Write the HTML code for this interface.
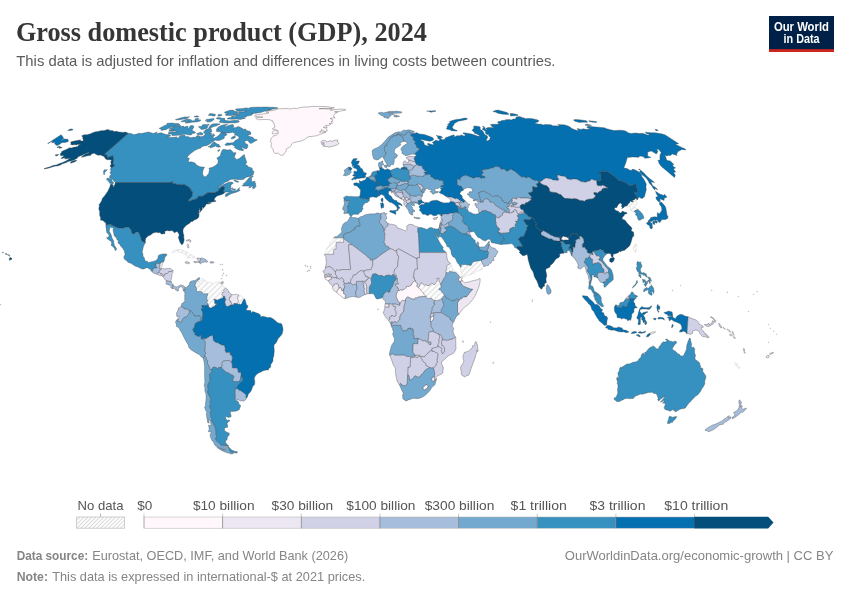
<!DOCTYPE html>
<html lang="en"><head><meta charset="utf-8"><title>Gross domestic product (GDP), 2024</title>
<style>
html,body{margin:0;padding:0;background:#fff;}
body{width:850px;height:600px;overflow:hidden;position:relative;font-family:"Liberation Sans",sans-serif;}
svg{position:absolute;left:0;top:0;display:block}
text{font-family:"Liberation Sans",sans-serif;}
.title{font-family:"Liberation Serif",serif;font-weight:bold;font-size:26.4px;fill:#363636;}
.sub{font-size:14.3px;fill:#5b5b5b;}
.lg{font-size:13.1px;fill:#555;}
.ft{font-size:12.6px;fill:#858585;}
.b{font-weight:bold;}
.logo{font-weight:bold;font-size:12.1px;fill:#fff;}
</style></head><body>
<svg width="850" height="600" viewBox="0 0 850 600">
<defs>
<pattern id="hatch" patternUnits="userSpaceOnUse" width="4" height="4" patternTransform="rotate(-45 2 2) scale(0.7)">
<path d="M -1,2 l 6,0" stroke="#c4c4c4" stroke-width="0.9"/>
</pattern>
<pattern id="hatch2" patternUnits="userSpaceOnUse" width="4" height="4" patternTransform="rotate(-45 2 2)">
<path d="M -1,2 l 6,0" stroke="#ccc" stroke-width="0.8"/>
</pattern>
</defs>
<rect width="850" height="600" fill="#fff"/>
<g stroke="#444" stroke-width="0.36" stroke-linejoin="round">
<path id="c-cuba" fill="url(#hatch2)" stroke="#c6c6c6" d="M177.7 249.5L179.7 249.6L181.4 249.7L183.4 250.6L184.2 251.5L186.3 251.2L187.1 251.8L188.8 253.4L190.0 254.6L190.8 254.6L192.1 255.1L191.8 255.9L193.5 256.0L195.0 257.1L194.7 257.7L193.2 258.0L191.6 258.1L190.1 257.9L186.8 258.1L188.5 256.7L187.7 256.0L186.2 255.9L185.5 255.1L185.2 253.6L183.9 253.7L181.9 253.0L181.3 252.5L178.4 252.1L177.7 251.5L178.6 250.9L176.4 250.8L174.6 252.1L173.7 252.2L173.3 252.8L172.1 253.1L171.2 252.8L172.5 252.0L173.1 251.1L174.2 250.5L175.4 250.0Z"/>
<path id="c-venezuela" fill="url(#hatch2)" stroke="#c6c6c6" d="M199.5 279.2L199.4 279.9L198.0 280.2L198.7 281.4L198.6 282.7L197.5 284.2L198.3 286.3L199.3 286.1L199.9 284.3L199.2 283.3L199.2 281.4L202.1 280.3L201.9 279.1L202.8 278.3L203.5 280.1L205.1 280.1L206.5 281.6L206.5 282.5L208.6 282.5L211.0 282.2L212.3 283.4L214.0 283.7L215.4 282.9L215.4 282.2L218.3 282.1L221.0 282.0L219.0 282.8L219.8 284.0L221.6 284.2L223.3 285.5L223.6 287.6L224.8 287.5L225.6 288.1L223.8 289.7L223.5 290.6L224.3 291.6L223.7 292.1L222.3 292.5L222.3 293.7L221.6 294.4L223.1 296.4L223.4 297.2L222.5 298.1L219.9 299.1L218.3 299.5L217.6 300.2L215.8 299.5L214.1 299.2L213.6 299.4L214.7 300.1L214.5 301.8L214.8 303.5L216.8 303.7L216.9 304.3L215.2 305.0L215.0 306.1L214.0 306.5L212.3 307.1L211.8 307.9L210.0 308.1L208.8 306.7L208.1 304.1L207.5 303.2L206.7 302.6L207.9 301.3L207.8 300.8L207.2 300.0L206.8 298.3L207.0 296.4L207.5 295.5L208.0 294.1L207.2 293.6L205.9 293.9L204.2 293.8L203.3 294.1L201.7 291.8L200.4 291.5L197.4 291.8L196.9 290.8L196.4 290.6L196.3 290.1L196.6 289.1L196.5 288.0L196.0 287.5L195.8 286.3L194.6 286.1L195.3 284.6L195.7 282.7L196.4 281.8L197.3 281.0L198.0 279.7Z"/>
<path id="c-french-guiana" fill="url(#hatch2)" stroke="#c6c6c6" d="M238.8 295.0L241.2 295.9L243.6 298.1L244.0 299.1L242.6 301.5L241.8 303.5L240.9 304.5L239.8 304.6L239.5 303.9L239.0 303.8L238.3 304.5L237.3 304.0L237.9 302.9L238.1 301.7L238.5 300.5L237.7 299.0L237.5 297.2Z"/>
<path id="c-western-sahara" fill="url(#hatch2)" stroke="#c6c6c6" d="M343.7 237.8L333.6 237.8L332.2 240.5L330.7 241.5L329.8 243.1L329.8 244.5L329.1 246.0L328.3 246.4L327.0 248.1L326.2 249.9L326.3 250.8L325.6 252.1L324.7 252.8L324.5 254.1L324.4 255.2L324.9 254.3L333.8 254.3L333.4 250.6L334.0 249.2L336.1 249.0L336.2 242.3L343.5 242.4L343.6 238.5Z"/>
<path id="c-south-sudan" fill="url(#hatch2)" stroke="#c6c6c6" d="M434.1 300.8L432.0 299.1L431.5 298.0L430.2 298.5L429.1 298.4L428.5 298.8L427.5 298.5L426.0 296.3L425.7 295.5L423.9 294.5L423.3 292.9L422.4 291.8L420.8 290.4L420.7 289.6L419.5 288.5L417.9 287.5L418.6 287.2L419.4 286.7L419.9 284.4L420.5 283.2L422.2 282.8L422.6 283.5L423.8 285.1L424.4 285.3L425.3 284.8L426.9 284.9L427.2 285.5L429.5 285.5L429.6 284.9L430.8 284.4L431.0 283.7L431.9 283.1L433.8 284.6L435.0 284.4L436.1 282.5L437.3 281.1L437.1 279.5L436.5 278.7L437.9 278.6L438.0 278.0L439.1 278.2L438.9 280.1L439.2 282.0L440.4 283.0L440.7 283.9L440.7 285.2L441.0 285.3L441.1 287.3L440.8 288.1L439.5 288.2L438.8 289.7L440.2 289.9L441.4 291.1L441.8 292.2L442.9 292.8L444.3 295.6L442.7 297.3L441.4 298.9L439.9 300.1L438.3 300.1L436.5 300.7L435.0 300.1Z"/>
<path id="c-eritrea" fill="url(#hatch2)" stroke="#c6c6c6" d="M460.0 277.3L459.2 276.4L458.2 274.9L457.1 274.0L456.5 273.1L454.5 272.1L452.9 272.1L452.3 271.5L451.0 272.1L449.6 270.9L448.9 272.9L446.2 272.4L445.9 271.3L446.8 267.5L446.9 265.7L447.6 264.9L449.2 264.5L450.3 263.0L451.8 266.0L452.5 268.4L453.8 269.7L457.1 272.2L458.4 273.7L459.7 275.2L460.5 276.1L461.6 276.8L461.0 277.5Z"/>
<path id="c-taiwan" fill="url(#hatch2)" stroke="#c6c6c6" d="M636.6 246.3L636.1 250.5L635.6 252.6L633.9 250.4L633.3 248.5L634.1 245.9L635.5 243.9L636.7 244.7Z"/>
<path id="c-north-korea" fill="url(#hatch2)" stroke="#c6c6c6" d="M637.2 199.4L637.7 199.9L636.8 199.7L636.5 200.6L636.3 201.5L637.5 203.3L636.7 203.9L636.5 204.3L636.1 205.1L635.0 205.5L634.4 206.2L634.9 207.4L634.8 207.7L635.9 208.1L637.7 209.2L637.7 209.8L636.8 210.0L635.4 210.1L635.1 211.3L634.1 211.2L634.1 211.5L632.8 211.0L632.8 211.5L632.3 211.7L631.9 211.2L631.3 210.9L630.5 210.5L630.5 209.4L630.9 209.1L630.5 208.6L630.3 207.2L630.0 206.8L628.6 206.5L627.2 205.8L628.1 204.1L629.7 202.7L630.1 200.9L631.6 201.7L633.4 201.8L632.3 200.5L635.0 199.3L634.9 197.9Z"/>
<path id="c-yemen" fill="url(#hatch2)" stroke="#c6c6c6" d="M484.0 266.5L482.4 267.2L482.0 268.4L482.0 269.3L479.8 270.4L476.2 271.6L474.3 273.4L473.3 273.6L472.6 273.4L471.3 274.5L469.9 275.0L468.0 275.1L467.4 275.3L466.9 276.0L466.3 276.2L466.0 276.8L464.9 276.8L464.2 277.1L462.6 277.0L461.9 275.5L461.9 274.0L461.5 273.3L461.0 271.4L460.2 270.3L460.7 270.2L460.4 269.0L460.6 268.5L460.5 267.3L461.4 266.5L461.2 265.4L461.7 264.1L462.6 264.8L463.2 264.5L465.9 264.5L466.3 264.8L468.5 265.0L469.4 264.9L470.0 265.7L471.1 265.3L472.5 262.6L474.5 261.4L481.0 260.4L483.1 264.7Z"/>
<path id="c-new-caledonia" fill="url(#hatch2)" stroke="#c6c6c6" d="M737.8 365.0L739.3 366.7L740.1 367.9L739.1 368.5L738.0 367.8L736.7 366.6L735.6 365.2L734.6 363.4L734.5 362.5L735.5 362.5L736.5 363.4L737.3 364.3Z"/>
<path id="c-canada" fill="#3690c0" d="M128.2 133.3L131.1 133.5L133.9 134.8L139.2 133.3L141.5 133.5L148.4 132.0L150.2 132.4L153.3 133.5L157.3 132.0L155.5 133.7L161.2 132.8L165.8 134.6L169.6 134.8L170.7 135.9L167.2 137.0L169.9 137.5L174.7 137.3L176.6 136.8L177.1 138.2L180.0 137.0L179.1 136.1L180.9 135.4L184.5 135.0L186.1 136.8L188.2 136.6L190.1 137.7L193.2 137.3L195.8 137.3L196.5 135.9L198.4 135.5L200.4 136.4L198.8 138.4L201.2 136.6L202.6 136.6L205.2 134.4L204.5 133.1L203.3 132.2L205.6 129.8L208.9 128.3L210.8 128.5L211.5 129.6L211.7 132.0L209.3 133.1L212.1 133.5L210.2 135.7L214.0 133.9L214.8 135.5L213.1 137.0L213.5 138.6L216.5 137.0L219.1 135.0L221.1 132.6L223.3 132.8L225.6 133.1L227.0 134.2L226.4 135.3L224.1 136.6L224.5 137.7L223.6 138.8L219.2 140.4L216.6 140.6L215.2 140.0L213.9 141.1L210.9 143.1L209.7 144.1L206.5 145.7L203.8 145.9L201.8 146.8L200.6 148.2L198.3 148.7L194.6 150.6L191.0 153.2L188.9 155.1L186.8 158.0L189.4 158.2L188.6 160.6L188.4 162.3L191.4 161.8L194.4 162.8L195.7 163.8L196.3 165.0L198.2 165.8L199.7 166.7L202.7 167.0L204.6 167.2L203.4 169.2L202.7 171.7L202.7 174.4L204.4 176.9L206.4 176.2L208.7 173.4L209.5 169.7L208.9 168.2L212.5 167.2L215.5 165.5L217.5 163.8L218.2 162.1L218.1 159.9L216.8 158.2L220.5 155.6L220.8 153.4L222.3 149.9L224.0 149.2L226.6 149.9L228.3 150.1L230.2 149.6L231.4 150.4L232.8 151.8L232.9 152.7L236.1 152.7L235.1 154.9L234.2 157.7L235.6 158.2L236.4 159.7L239.7 158.2L242.8 155.6L244.4 154.6L244.8 156.8L245.9 159.7L246.8 162.6L245.3 164.3L247.3 165.5L248.4 167.0L251.2 167.7L252.3 168.5L252.3 170.5L253.5 170.9L254.0 171.7L253.2 174.7L249.9 176.4L246.2 177.2L243.1 179.5L239.6 179.7L235.4 179.2L232.4 179.2L230.3 179.5L228.0 181.2L225.0 182.2L220.8 185.8L217.7 188.1L219.5 187.6L224.0 184.3L228.9 182.2L232.0 182.0L233.4 183.3L231.0 184.8L230.7 187.6L230.7 189.6L232.9 190.9L236.6 190.4L239.5 187.6L239.1 189.4L240.1 190.4L237.1 191.9L231.9 193.5L229.7 194.5L226.6 196.6L225.2 196.3L225.8 194.0L230.1 191.9L226.8 191.9L224.4 192.4L223.5 190.9L224.7 187.3L224.1 186.6L222.5 187.1L222.1 186.6L219.8 188.4L218.5 190.4L217.3 191.4L216.3 191.9L215.7 191.9L215.2 192.7L211.5 192.7L208.2 192.7L207.2 193.2L204.2 195.0L202.9 196.3L199.0 196.3L197.8 196.6L198.1 197.1L197.9 198.1L194.7 199.4L192.2 199.9L189.4 201.2L188.2 200.9L188.3 200.2L190.7 197.9L191.9 196.3L192.3 194.2L192.6 191.9L191.0 190.7L190.7 189.9L190.8 188.9L189.4 188.6L189.6 187.8L184.0 184.3L181.8 185.0L181.2 185.0L179.2 184.3L177.3 184.8L175.8 183.8L173.9 183.5L172.6 183.3L172.1 183.0L172.5 181.5L171.7 181.5L171.1 182.5L161.5 182.5L151.4 182.5L141.3 182.5L131.2 182.5L121.2 182.5L115.5 182.5L115.1 182.5L113.0 180.0L112.3 179.0L109.4 177.9L109.9 175.7L111.3 174.2L109.9 172.9L111.1 170.9L110.2 169.2L111.3 168.0L113.3 166.7L114.5 165.3L112.8 163.6L113.3 160.9L113.6 159.2L113.1 158.0L112.9 157.0L113.0 155.8L110.4 156.5L107.1 158.0L107.3 156.3L107.0 155.3L105.9 154.6L104.0 154.6ZM257.4 140.0L255.4 141.0L251.0 143.6L249.4 142.7L247.9 140.4L245.4 140.7L244.6 142.0L245.6 143.4L247.5 144.4L247.9 145.0L247.7 147.3L246.4 148.9L244.3 148.5L240.9 146.5L242.3 148.5L243.6 149.9L243.3 150.8L238.9 149.9L235.9 148.5L234.4 147.3L235.3 146.6L233.3 145.4L231.5 144.3L231.1 145.0L225.7 145.4L224.8 144.5L226.9 142.9L230.3 142.9L234.0 142.6L233.9 141.8L235.3 140.6L238.8 138.4L239.0 137.5L238.8 136.7L236.9 135.6L234.0 134.8L235.5 134.3L234.5 132.9L233.1 132.8L232.4 132.0L231.0 132.7L227.8 133.0L222.2 132.5L219.2 131.8L216.7 131.5L216.0 130.8L218.5 129.8L216.2 129.8L217.6 127.7L220.5 125.8L222.9 124.9L227.6 124.3L225.2 125.7L225.2 127.0L228.1 125.4L233.0 124.4L233.9 126.6L232.6 128.0L236.2 127.4L238.4 126.5L241.1 127.7L242.7 128.6L242.1 129.6L245.6 129.0L246.3 130.5L249.7 131.3L250.6 132.2L251.0 134.2L247.2 135.3L250.4 136.7L252.8 137.2L254.2 139.3L256.8 139.4ZM179.9 125.4L181.0 125.8L179.2 126.7L183.5 126.1L184.5 127.1L187.5 126.1L188.2 126.8L187.3 128.8L189.0 128.0L190.2 125.8L192.0 125.5L193.2 125.8L194.1 126.7L192.9 128.7L192.0 130.3L193.7 131.3L195.7 132.4L194.6 133.3L191.7 133.5L192.1 134.3L190.8 135.1L188.0 134.8L185.7 134.2L183.6 134.3L179.8 135.1L175.3 135.4L172.0 135.6L172.1 134.6L170.4 134.0L168.7 134.2L168.4 132.5L169.8 132.2L172.7 131.9L175.0 132.0L177.5 131.6L174.9 131.1L171.2 131.3L168.9 131.2L168.9 130.4L173.6 129.6L171.1 129.6L168.9 129.0L172.1 127.4L174.2 126.6ZM172.9 123.0L174.5 123.4L178.4 123.5L179.2 124.1L179.9 125.0L177.2 125.5L171.6 127.0L167.8 128.5L166.7 129.4L161.2 130.5L161.5 129.5L159.1 128.4L160.9 127.5L163.9 125.9L167.0 124.6L167.1 123.3ZM269.7 107.2L273.2 107.3L276.0 107.5L278.1 107.9L277.7 108.3L273.7 109.0L270.0 109.4L268.4 109.7L271.4 109.7L267.3 110.7L264.4 111.2L260.6 112.6L257.4 112.9L256.0 113.3L251.5 113.5L253.3 113.7L251.9 114.1L252.1 115.0L250.2 115.6L247.3 116.1L245.8 116.9L243.2 117.5L243.0 117.9L245.6 117.9L245.3 118.3L240.1 119.5L236.6 119.0L231.9 119.3L229.8 119.1L227.1 118.9L227.9 118.0L231.1 117.5L231.9 116.1L233.0 116.0L236.0 116.9L235.5 115.6L233.4 115.2L235.4 114.5L238.5 114.1L239.7 113.4L238.4 112.8L239.0 111.8L242.7 111.9L243.7 112.0L246.7 111.3L243.7 111.2L238.5 111.3L236.7 110.7L236.4 110.1L235.3 109.6L235.8 109.0L238.3 108.7L239.9 108.7L242.9 108.4L245.7 107.9L247.2 107.9L248.2 108.4L250.3 107.6L252.4 107.3L255.0 107.2L259.3 107.1L259.8 107.2L264.0 107.0L266.9 107.1ZM220.6 117.7L221.5 118.3L224.5 118.3L225.1 119.0L224.0 119.7L225.3 120.1L225.8 120.6L227.8 120.7L229.8 120.9L232.7 120.4L236.0 120.3L238.3 120.4L239.3 121.2L238.9 122.0L237.5 122.5L234.8 123.0L233.0 122.8L228.2 123.1L225.0 123.1L222.7 122.8L219.2 122.2L219.8 121.1L220.6 120.1L220.1 119.2L217.2 119.0L216.1 118.4L217.6 117.6ZM237.5 112.9L238.5 113.5L235.9 114.1L231.7 115.4L228.8 115.6L225.9 115.4L225.4 114.5L226.3 113.9L228.2 113.3L225.5 113.3L224.6 112.8L224.8 111.9L228.4 110.7L230.0 110.5L229.9 110.2L233.3 110.1L233.9 111.0L237.8 111.7ZM200.4 120.8L198.0 121.8L192.3 122.2L187.3 123.1L185.0 123.1L185.4 122.5L189.9 121.4L182.4 121.8L180.8 121.4L185.6 119.5L187.8 118.9L191.0 119.7L192.2 120.8L194.8 120.8L195.0 119.1L197.4 118.3L198.8 118.5L198.0 119.5L197.7 120.1L199.5 119.8L200.9 119.9ZM213.9 118.5L214.2 119.3L212.9 120.4L210.5 121.8L207.8 122.1L206.5 121.7L207.7 120.6L205.2 120.6L206.7 119.3L208.4 119.3L211.4 118.7ZM204.5 124.3L206.0 124.7L209.2 124.3L209.1 124.9L206.5 126.0L208.2 126.8L206.1 128.7L202.5 129.6L201.2 129.4L200.7 128.7L198.4 127.0L199.0 126.4L202.2 126.6L201.9 125.2ZM213.9 126.4L210.6 128.1L209.0 127.9L209.6 126.2L210.6 125.2L212.4 124.1L214.4 123.7L217.7 123.7L220.3 124.1L216.1 126.1ZM214.8 142.0L214.4 143.1L215.6 142.7L216.2 143.4L217.6 144.1L219.3 144.8L218.6 146.0L220.0 145.8L220.7 146.6L218.7 147.3L216.4 146.7L216.0 145.7L213.4 146.9L210.1 148.1L210.4 146.7L207.9 147.0L210.2 145.8L211.6 144.1L213.6 142.0ZM252.4 175.9L253.4 175.9L251.3 178.2L251.8 180.2L251.0 181.0L252.6 181.7L254.9 181.2L255.3 182.0L254.2 183.8L255.8 183.3L255.6 184.5L256.0 186.3L254.4 188.4L253.5 188.6L252.2 188.1L253.3 186.1L252.9 185.7L249.8 187.8L248.6 187.8L250.4 186.6L248.6 186.1L246.5 186.1L242.4 186.1L242.4 185.3L243.9 184.4L243.3 183.8L245.4 182.2L248.7 178.2L250.6 176.7ZM113.3 183.8L112.1 184.0L109.3 183.0L109.4 182.0L108.2 181.2L108.4 180.5L106.6 180.0L106.9 178.7L107.5 177.9L109.2 178.6L110.1 179.0L111.8 179.2L111.9 180.1L112.1 181.2L113.4 182.3ZM105.4 169.9L107.5 169.7L104.6 172.5L104.6 174.4L103.8 174.4L103.4 173.4L103.8 172.2L103.4 171.4L104.0 170.3L104.8 169.5ZM233.8 180.2L234.5 180.1L236.8 180.7L238.7 181.7L238.5 182.2L237.5 182.2L235.2 181.5ZM232.3 187.6L232.6 188.7L234.1 189.1L235.9 189.1L234.6 190.1L233.8 190.2L231.6 189.1L231.3 188.4ZM220.0 150.1L218.4 151.5L217.9 151.3L217.7 150.6L219.2 149.6ZM234.7 136.1L235.6 136.8L235.1 137.7L233.1 138.7L231.1 138.8L231.4 137.7L233.0 136.5ZM203.0 133.5L202.9 134.4L201.1 135.1L199.5 134.5L197.9 134.7L196.4 133.7L198.5 133.1L200.4 132.2L201.6 132.7ZM193.9 116.5L197.1 115.8L198.8 116.5L198.3 117.1L195.2 117.1ZM189.6 116.7L187.5 118.1L185.2 118.9L183.8 118.9L179.7 119.7L176.8 120.0L175.3 119.7L180.1 118.1L185.0 116.9L187.2 116.9ZM210.0 113.5L212.6 113.7L215.5 114.4L215.3 115.4L214.9 116.1L212.8 116.0L211.2 115.4L208.1 115.2L210.3 114.6L209.1 114.3ZM219.0 114.3L220.6 114.4L221.4 114.5L222.2 115.2L221.1 115.8L218.4 116.2L217.8 115.8L218.0 115.0Z"/>
<path id="c-usa" fill="#034e7b" d="M115.5 182.5L121.2 182.5L131.2 182.5L141.3 182.5L151.4 182.5L161.5 182.5L171.1 182.5L171.7 181.5L172.5 181.5L172.1 183.0L172.6 183.3L173.9 183.5L175.8 183.8L177.3 184.8L179.2 184.3L181.2 185.0L181.8 185.0L184.0 184.3L189.6 187.8L189.4 188.6L190.8 188.9L190.7 189.9L191.0 190.7L192.6 191.9L192.3 194.2L191.9 196.3L190.7 197.9L188.3 200.2L188.2 200.9L189.4 201.2L192.2 199.9L194.7 199.4L197.9 198.1L198.1 197.1L197.8 196.6L199.0 196.3L202.9 196.3L204.2 195.0L207.2 193.2L208.2 192.7L211.5 192.7L215.2 192.7L215.7 191.9L216.3 191.9L217.3 191.4L218.5 190.4L219.8 188.4L222.1 186.6L222.5 187.1L224.1 186.6L224.7 187.3L223.5 190.9L224.4 192.4L224.3 193.2L221.9 194.5L219.3 195.3L217.0 196.0L215.3 197.6L214.8 198.1L214.3 199.7L214.6 200.9L215.4 200.9L215.4 200.2L215.9 200.7L215.5 201.5L214.1 201.7L213.1 201.7L211.2 202.2L209.0 202.5L207.1 203.3L210.4 202.8L210.9 203.3L207.7 204.1L206.2 204.1L206.0 204.6L205.1 206.4L202.9 208.5L203.0 207.7L202.1 206.9L202.1 208.3L202.4 208.7L202.1 209.8L201.2 210.8L199.5 212.9L199.4 212.6L200.5 211.1L199.7 210.0L200.0 207.8L199.4 209.0L199.3 210.5L197.9 210.3L199.2 211.1L198.5 213.4L199.2 213.7L199.1 214.5L198.8 217.2L196.8 219.1L194.4 219.9L192.6 221.5L191.5 221.5L190.1 222.5L189.6 223.3L186.7 225.1L185.1 226.5L183.8 228.0L183.0 229.8L183.0 231.7L183.3 233.8L184.0 235.6L183.7 236.9L184.2 239.8L183.8 241.6L183.6 242.6L182.7 244.2L181.9 244.5L180.9 244.2L180.8 243.2L180.0 242.4L179.3 240.3L178.6 238.2L178.3 237.2L179.2 235.5L179.0 234.0L177.6 231.9L176.9 231.4L174.4 232.7L174.0 232.5L173.1 231.3L171.9 230.6L169.5 230.9L167.5 230.6L165.7 230.9L164.7 231.3L165.0 231.9L164.8 233.0L165.1 233.5L164.6 233.9L163.8 233.5L162.9 234.0L161.2 233.9L160.0 232.5L157.9 232.8L156.5 232.2L155.0 232.5L153.0 233.0L150.5 235.1L148.0 236.1L146.6 237.4L145.7 238.5L145.3 240.3L145.3 241.6L145.6 242.4L144.6 242.6L143.2 241.9L141.6 241.1L141.1 240.0L141.1 238.2L140.1 236.6L139.6 235.1L139.1 233.2L137.8 232.2L135.9 232.2L134.0 234.4L132.5 233.5L131.3 232.7L131.3 231.4L131.0 230.1L130.0 228.8L129.2 228.0L128.6 227.1L124.8 227.1L124.5 228.3L118.3 228.3L111.0 225.1L111.4 224.6L105.9 225.1L106.0 223.8L105.2 222.3L104.2 222.0L104.3 221.2L103.1 221.0L102.7 220.3L100.6 220.2L100.4 219.7L100.8 218.1L99.7 215.5L99.6 212.0L99.9 211.3L99.2 210.5L98.8 208.2L99.4 206.1L99.0 204.8L100.5 202.8L101.8 200.4L102.3 198.4L104.5 196.0L107.7 191.4L109.5 187.8L110.2 185.8L110.4 184.5L110.9 184.0L113.3 185.0L112.9 187.3L113.9 186.6L114.8 184.5ZM128.2 133.3L104.0 154.6L105.9 154.6L107.0 155.3L107.3 156.3L107.1 158.0L110.4 156.5L113.0 155.8L112.9 157.0L113.1 158.0L113.6 159.2L113.3 160.9L112.8 163.6L114.5 165.3L113.3 166.7L111.3 168.0L111.0 167.0L109.9 166.2L111.3 164.0L110.7 162.1L111.6 159.9L110.1 159.7L107.2 159.7L105.6 158.9L104.1 156.5L102.9 156.0L100.6 155.1L97.9 155.3L95.5 154.1L94.4 153.2L91.9 153.7L90.4 155.4L89.0 155.6L86.5 156.0L84.0 156.8L81.4 157.3L82.5 156.0L86.0 153.7L88.8 152.9L89.0 152.2L85.1 153.7L82.1 155.2L77.6 156.9L77.7 158.0L73.9 159.9L70.8 160.9L68.1 161.6L66.5 162.6L62.4 163.8L60.5 165.0L57.2 166.0L55.8 166.0L53.6 166.5L50.6 167.5L48.1 168.2L44.0 169.0L44.4 168.5L47.5 167.5L50.1 166.7L53.8 165.3L56.4 165.0L58.4 164.0L62.6 162.6L63.5 162.1L66.0 161.1L68.2 159.4L70.7 158.0L67.8 158.7L67.8 158.2L65.6 159.2L65.8 158.0L64.5 158.7L65.0 157.6L62.2 158.5L61.0 158.5L62.5 157.0L63.7 156.3L63.7 155.4L60.7 155.8L60.6 154.6L59.9 154.1L61.5 152.8L61.4 151.8L63.8 150.4L66.9 149.2L69.1 147.9L70.7 147.8L71.5 148.1L74.2 147.1L75.6 147.1L77.7 146.4L78.6 145.4L78.2 145.0L80.7 144.1L79.6 144.1L77.2 144.5L75.7 145.2L75.3 144.5L72.1 145.0L70.5 144.3L71.1 143.4L70.6 142.0L74.3 141.1L79.7 140.0L81.1 140.0L79.3 141.1L83.0 141.1L83.4 139.7L82.6 138.8L83.0 137.7L82.6 136.7L81.5 135.9L84.0 134.8L87.0 134.8L90.6 133.7L92.6 132.7L95.7 131.7L97.8 131.4L102.3 130.5L103.5 130.7L107.8 129.5L109.6 129.9L109.4 130.9L110.7 130.5L113.2 130.7L112.4 131.1L114.4 131.5L116.4 131.3L119.0 132.0L121.8 132.2L122.8 132.4L125.4 132.1L127.1 132.7ZM76.5 160.4L76.5 161.1L73.6 162.3L70.7 163.3L70.5 162.6L71.4 161.4L74.0 160.6L75.5 160.2ZM57.7 155.6L56.2 155.9L55.5 155.6L55.2 154.9L57.6 154.4L58.7 154.6ZM58.4 146.4L58.8 146.8L60.2 146.6L60.7 147.3L62.2 147.5L61.7 147.8L59.8 148.3L59.0 147.8L58.9 147.3L57.1 147.5L56.9 147.3ZM10.8 257.8L11.8 258.3L12.0 259.1L10.2 260.1L9.3 260.2L9.3 258.6L10.0 257.5ZM9.6 255.4L10.1 255.7L9.1 256.2L8.6 255.4ZM7.5 254.6L8.7 254.7L8.5 255.0L7.4 254.9ZM6.2 253.3L6.7 254.4L5.7 254.4L5.4 253.6ZM2.9 252.0L3.5 252.0L3.3 252.6L2.9 252.8L2.4 252.4Z"/>
<path id="c-mexico" fill="#3690c0" d="M105.9 225.1L111.4 224.6L111.0 225.1L118.3 228.3L124.5 228.3L124.8 227.1L128.6 227.1L129.2 228.0L130.0 228.8L131.0 230.1L131.3 231.4L131.3 232.7L132.5 233.5L134.0 234.4L135.9 232.2L137.8 232.2L139.1 233.2L139.6 235.1L140.1 236.6L141.1 238.2L141.1 240.0L141.6 241.1L143.2 241.9L144.6 242.6L145.6 242.4L144.2 244.7L143.4 246.6L142.6 250.2L142.2 251.5L142.4 252.8L142.9 254.1L143.0 256.2L144.4 258.0L144.6 259.6L145.3 260.9L147.7 261.4L148.5 262.7L150.6 262.0L152.2 261.7L154.1 261.2L155.5 260.7L157.1 259.6L158.0 258.0L158.2 256.0L158.8 255.2L160.5 254.4L163.1 253.9L164.9 253.9L166.3 253.9L166.8 254.4L166.6 255.6L165.1 257.0L164.4 258.8L164.8 259.1L164.2 260.4L163.5 262.2L162.9 261.7L162.4 261.7L162.0 261.7L161.0 263.3L160.7 263.0L160.3 263.1L160.3 263.5L158.2 263.5L156.1 263.5L155.9 265.0L154.9 265.0L155.6 265.9L156.4 266.4L156.6 266.9L156.9 267.2L156.8 268.0L153.8 268.0L152.6 270.2L152.8 270.7L152.4 271.4L152.3 272.0L150.0 269.3L148.9 268.5L147.1 267.7L145.9 268.0L143.9 268.9L142.7 269.1L141.2 268.5L139.6 268.0L137.7 266.7L135.9 266.4L133.6 265.1L131.8 263.9L131.3 263.3L130.0 263.1L127.8 262.2L127.1 261.0L124.8 259.6L124.0 257.9L123.7 256.7L124.4 256.5L124.3 255.7L124.9 255.0L125.1 254.1L124.6 252.8L124.6 251.8L124.1 250.5L122.5 247.9L120.6 245.9L119.8 244.3L118.2 243.2L117.9 242.6L118.6 241.0L117.6 240.3L116.6 239.1L116.5 237.3L115.3 237.1L114.4 235.7L113.8 234.4L113.9 233.6L113.3 231.7L113.1 229.6L113.4 228.6L112.2 227.6L111.4 227.8L110.4 227.0L109.7 228.0L109.6 229.3L109.2 231.3L109.7 232.3L110.8 234.1L111.0 234.8L111.3 234.9L111.3 235.9L111.7 235.9L111.7 237.4L112.2 238.2L112.5 239.1L113.6 240.4L113.7 242.9L114.1 243.9L114.5 245.3L114.3 246.6L115.4 246.6L116.1 247.9L116.7 249.0L116.5 249.5L115.4 250.5L115.0 250.5L114.7 248.8L113.5 247.3L112.1 246.1L111.1 245.4L111.6 243.5L111.6 242.1L110.7 241.3L109.5 240.1L109.1 240.4L108.7 239.8L107.5 239.1L106.6 237.7L106.8 237.4L107.7 237.6L108.7 236.6L109.2 235.4L108.0 233.6L106.9 232.8L106.5 231.2L106.3 229.5L106.0 227.5Z"/>
<path id="c-greenland" fill="#fff7fb" d="M298.7 107.9L304.0 107.0L308.7 107.0L310.8 106.5L315.6 106.4L326.3 106.6L334.4 107.8L331.7 108.4L326.4 108.4L318.9 108.6L319.5 108.9L324.4 108.7L328.4 109.2L331.3 108.7L332.2 109.4L330.4 110.3L334.2 109.7L341.1 109.0L345.2 109.4L345.9 110.0L339.9 111.2L339.0 111.6L334.4 111.9L337.7 112.0L335.6 113.3L334.2 114.5L333.6 116.7L335.2 117.9L332.8 118.0L330.1 118.6L332.7 119.7L332.7 121.3L331.0 121.5L332.6 123.3L329.1 123.5L330.7 124.3L330.1 125.0L327.8 125.4L325.5 125.4L327.2 126.8L327.0 127.7L324.1 126.8L323.1 127.5L325.1 127.9L327.0 129.2L327.2 131.0L324.2 131.4L323.1 130.5L321.4 129.3L321.6 130.8L319.4 132.0L323.8 132.0L326.0 132.1L321.2 134.0L316.2 135.8L311.1 136.5L309.2 136.5L307.2 137.5L304.1 139.8L300.0 141.4L298.7 141.5L296.2 142.0L293.6 142.5L291.6 144.0L291.1 145.6L289.7 147.1L286.2 149.0L286.3 150.8L284.8 152.8L283.2 155.1L280.5 155.2L278.5 153.3L274.8 153.3L273.5 152.0L273.2 149.7L271.2 146.8L271.0 145.3L271.6 143.2L270.1 141.1L271.4 139.4L270.6 138.6L273.5 136.0L276.4 135.2L277.5 134.3L278.6 132.6L276.4 133.3L275.3 133.6L273.7 134.0L272.0 133.3L272.6 131.8L273.8 130.6L275.4 130.6L278.4 131.2L276.3 129.8L275.2 129.1L273.4 129.4L272.3 128.8L275.2 126.9L274.7 126.1L274.2 124.6L273.6 122.4L272.1 121.6L272.7 120.8L269.4 119.7L266.3 119.5L262.1 119.6L258.3 119.7L257.0 119.1L255.5 117.9L259.9 117.3L263.0 117.1L257.1 116.6L254.4 115.9L255.3 115.1L261.7 114.2L267.8 113.3L269.0 112.6L265.7 112.0L267.6 111.3L273.5 110.2L275.7 110.0L275.8 109.3L279.4 108.8L283.9 108.6L288.2 108.6L289.3 109.1L293.6 108.2L296.5 108.8Z"/>
<path id="c-guatemala" fill="#a6bddb" d="M152.3 272.0L152.4 271.4L152.8 270.7L152.6 270.2L153.8 268.0L156.8 268.0L156.9 267.2L156.6 266.9L156.4 266.4L155.6 265.9L154.9 265.0L155.9 265.0L156.1 263.5L158.2 263.5L160.3 263.5L160.0 265.6L159.5 268.5L160.2 268.5L160.9 269.0L161.2 268.6L161.8 268.9L160.6 269.9L159.5 270.7L159.3 271.2L159.4 271.7L158.8 272.4L158.3 272.5L158.4 272.8L157.9 273.1L157.1 273.8L156.9 274.2L155.8 273.7L154.4 273.6L153.4 273.1Z"/>
<path id="c-belize" fill="#fff7fb" d="M160.3 263.5L160.3 263.1L160.7 263.0L161.0 263.3L162.0 261.7L162.4 261.7L162.4 262.1L162.9 262.1L162.7 262.8L162.2 263.9L162.3 264.3L162.0 265.3L162.1 265.5L161.7 266.8L161.2 267.5L160.8 267.6L160.2 268.5L159.5 268.5L160.0 265.6Z"/>
<path id="c-el-salvador" fill="#d0d1e6" d="M156.9 274.2L157.1 273.8L157.9 273.1L158.4 272.8L158.3 272.5L158.8 272.4L159.5 272.6L159.9 273.1L160.6 273.5L160.6 273.8L161.6 273.6L162.1 273.7L162.4 274.0L162.1 275.1L161.8 275.7L160.5 275.6L159.7 275.4L158.8 274.9L157.6 274.7Z"/>
<path id="c-honduras" fill="#d0d1e6" d="M158.8 272.4L159.4 271.7L159.3 271.2L159.5 270.7L160.6 269.9L161.8 268.9L162.0 269.0L162.5 268.6L163.2 268.5L163.4 268.7L163.7 268.6L164.8 268.9L165.8 268.8L166.6 268.5L166.9 268.2L167.6 268.4L168.2 268.5L168.8 268.5L169.2 268.3L170.2 268.6L170.6 268.6L171.8 269.7L172.6 270.1L173.1 270.8L172.4 270.8L172.0 271.2L171.2 271.5L170.6 271.5L170.1 271.8L169.6 271.7L169.3 271.3L169.1 271.4L168.7 272.0L168.5 272.0L168.4 272.5L167.5 273.2L167.1 273.6L166.8 273.9L166.2 273.3L165.6 274.0L165.1 274.0L164.6 274.1L164.5 275.4L164.2 275.4L163.9 276.0L163.1 276.1L162.8 275.3L162.1 275.1L162.4 274.0L162.1 273.7L161.6 273.6L160.6 273.8L160.6 273.5L159.9 273.1L159.5 272.6Z"/>
<path id="c-nicaragua" fill="#d0d1e6" d="M162.3 276.3L162.6 275.9L163.0 276.3L163.1 276.1L163.9 276.0L164.2 275.4L164.5 275.4L164.6 274.1L165.1 274.0L165.6 274.0L166.2 273.3L166.8 273.9L167.1 273.6L167.5 273.2L168.4 272.5L168.5 272.0L168.7 272.0L169.1 271.4L169.3 271.3L169.6 271.7L170.1 271.8L170.6 271.5L171.2 271.5L172.0 271.2L172.4 270.8L173.1 270.8L172.9 271.1L172.8 271.7L172.9 272.6L172.3 273.5L172.0 274.6L171.8 275.7L171.9 276.4L171.8 277.6L171.4 277.8L171.1 279.0L171.3 279.6L170.7 280.3L170.8 281.0L171.1 281.4L170.5 282.0L169.9 281.8L169.5 281.3L168.8 281.1L168.3 281.4L166.8 280.7L166.4 281.0L165.7 280.2L164.7 279.2L164.3 278.3L163.4 277.5Z"/>
<path id="c-costa-rica" fill="#a6bddb" d="M172.3 288.5L171.1 287.9L170.6 287.4L170.9 286.9L170.9 286.4L170.3 285.7L169.4 285.2L168.6 284.9L168.5 284.1L167.9 283.7L168.0 284.4L167.5 285.0L167.1 284.3L166.3 284.1L166.0 283.6L166.1 282.7L166.5 281.9L165.9 281.5L166.4 281.0L166.8 280.7L168.3 281.4L168.8 281.1L169.5 281.3L169.9 281.8L170.5 282.0L171.1 281.4L171.6 282.8L172.4 283.9L173.4 285.0L172.5 285.2L172.5 286.3L172.9 286.7L172.6 287.0L172.6 287.5L172.4 288.0Z"/>
<path id="c-panama" fill="#a6bddb" d="M183.9 291.1L183.1 290.4L182.7 289.0L183.3 288.3L182.7 288.1L182.3 287.2L181.2 286.5L180.2 286.7L179.7 287.6L178.7 288.3L178.2 288.3L178.0 288.9L179.0 290.3L178.4 290.6L178.0 291.0L176.9 291.1L176.6 289.6L176.3 290.0L175.5 289.9L175.1 288.8L174.2 288.6L173.6 288.4L172.6 288.4L172.5 288.9L172.3 288.5L172.4 288.0L172.6 287.5L172.6 287.0L172.9 286.7L172.5 286.3L172.5 285.2L173.4 285.0L174.2 286.0L174.1 286.5L175.0 286.6L175.3 286.4L175.9 287.1L177.0 286.9L178.0 286.2L179.4 285.7L180.3 284.9L181.5 285.1L181.4 285.3L182.7 285.4L183.7 285.8L184.4 286.6L185.2 287.4L184.9 287.8L185.4 289.3L184.9 290.1L184.2 289.9Z"/>
<path id="c-jamaica" fill="#d0d1e6" d="M186.8 261.7L188.3 262.0L189.4 262.6L189.8 263.3L188.2 263.3L187.4 263.8L186.2 263.4L185.0 262.4L185.3 261.8Z"/>
<path id="c-haiti" fill="#d0d1e6" d="M200.5 258.5L200.5 259.9L200.2 260.9L199.6 261.4L200.1 262.2L200.0 262.9L198.6 262.5L197.5 262.6L196.1 262.4L195.0 262.9L193.8 262.1L194.1 261.3L196.2 261.6L197.9 261.8L198.8 261.3L197.8 260.1L198.0 259.1L196.6 258.7L197.2 258.0L198.5 258.1Z"/>
<path id="c-dominican-republic" fill="#a6bddb" d="M200.0 262.9L200.1 262.2L199.6 261.4L200.2 260.9L200.5 259.9L200.5 258.5L200.8 258.1L202.6 258.1L203.8 258.8L204.4 258.7L204.8 259.6L206.0 259.6L205.9 260.3L206.8 260.4L207.9 261.4L206.9 262.5L205.9 261.9L204.8 262.0L204.1 261.9L203.7 262.4L202.7 262.5L202.5 261.9L201.7 262.3L200.6 264.0L200.0 263.6Z"/>
<path id="c-puerto-rico" fill="#a6bddb" d="M212.5 261.7L213.6 261.9L214.0 262.4L213.3 263.1L211.6 263.1L210.3 263.1L210.2 262.0L210.6 261.6Z"/>
<path id="c-bahamas" fill="#ece7f2" d="M188.6 248.0L188.0 248.1L187.6 246.6L186.9 245.8L187.6 244.2L188.3 244.3L188.8 246.5ZM189.0 240.6L186.5 241.0L186.5 240.1L187.6 239.8L189.1 239.9ZM190.9 240.6L190.2 242.4L189.8 242.1L190.1 240.7L189.3 239.7L189.3 239.4Z"/>
<path id="c-trinidad-and-tobago" fill="#d0d1e6" d="M221.5 281.9L222.8 281.6L223.3 281.6L223.1 283.6L221.2 283.9L220.8 283.7L221.5 282.9Z"/>
<path id="c-colombia" fill="#74a9cf" d="M189.2 310.4L188.2 309.8L187.1 308.9L186.4 309.3L184.4 309.0L183.9 307.8L183.4 307.9L181.1 306.4L180.9 305.6L181.7 305.4L181.6 304.1L182.2 303.1L183.3 303.0L184.3 301.3L185.3 299.9L184.4 299.3L184.9 297.8L184.5 295.4L185.0 294.7L184.7 292.5L183.9 291.1L184.2 289.9L184.9 290.1L185.4 289.3L184.9 287.8L185.2 287.4L186.4 287.4L188.2 285.6L189.2 285.4L189.3 284.5L189.8 282.3L191.2 281.1L192.6 281.0L192.9 280.5L194.7 280.7L196.5 279.4L197.5 278.8L198.7 277.5L199.5 277.7L200.0 278.4L199.5 279.2L198.0 279.7L197.3 281.0L196.4 281.8L195.7 282.7L195.3 284.6L194.6 286.1L195.8 286.3L196.0 287.5L196.5 288.0L196.6 289.1L196.3 290.1L196.4 290.6L196.9 290.8L197.4 291.8L200.4 291.5L201.7 291.8L203.3 294.1L204.2 293.8L205.9 293.9L207.2 293.6L208.0 294.1L207.5 295.5L207.0 296.4L206.8 298.3L207.2 300.0L207.8 300.8L207.9 301.3L206.7 302.6L207.5 303.2L208.1 304.1L208.8 306.7L208.3 307.0L207.9 305.5L207.3 304.7L206.5 305.6L202.0 305.5L202.0 307.2L203.4 307.4L203.3 308.4L202.8 308.1L201.5 308.6L201.5 310.5L202.5 311.4L202.9 312.9L202.9 314.1L202.0 321.2L200.8 319.8L200.1 319.8L201.5 317.1L199.7 315.9L198.4 316.1L197.5 315.7L196.2 316.3L194.5 316.0L193.1 313.3L192.1 312.6L191.3 311.4L189.8 310.2Z"/>
<path id="c-guyana" fill="#d0d1e6" d="M225.6 288.1L227.1 289.1L228.5 290.8L228.5 292.2L229.4 292.2L230.6 293.5L231.4 294.4L231.0 296.8L229.6 297.4L229.7 298.0L229.3 299.4L230.2 301.3L231.0 301.3L231.3 302.8L232.6 305.0L232.1 305.1L230.8 304.9L230.0 305.6L229.0 306.1L228.3 306.2L228.0 306.7L226.9 306.6L225.5 305.3L225.3 304.1L224.7 302.8L225.1 300.6L225.8 299.7L225.3 298.5L224.5 298.1L224.9 296.9L224.3 296.3L223.1 296.4L221.6 294.4L222.3 293.7L222.3 292.5L223.7 292.1L224.3 291.6L223.5 290.6L223.8 289.7Z"/>
<path id="c-suriname" fill="#ece7f2" d="M231.4 294.4L234.2 294.9L234.5 294.5L236.3 294.3L238.8 295.0L237.5 297.2L237.7 299.0L238.5 300.5L238.1 301.7L237.9 302.9L237.3 304.0L236.0 303.4L234.9 303.7L234.0 303.4L233.7 304.2L234.1 304.7L233.9 305.2L232.6 305.0L231.3 302.8L231.0 301.3L230.2 301.3L229.3 299.4L229.7 298.0L229.6 297.4L231.0 296.8Z"/>
<path id="c-ecuador" fill="#a6bddb" d="M177.9 318.9L179.1 316.9L178.6 315.8L177.7 317.0L176.3 315.9L176.8 315.1L176.4 312.8L177.2 312.4L177.6 310.7L178.4 309.1L178.3 308.0L179.6 307.4L181.1 306.4L183.4 307.9L183.9 307.8L184.4 309.0L186.4 309.3L187.1 308.9L188.2 309.8L189.2 310.4L189.5 312.4L188.8 314.1L186.3 316.8L183.6 317.8L182.2 320.1L181.8 321.9L180.6 322.9L179.6 321.6L178.6 321.4L177.7 321.6L177.6 320.6L178.2 320.0Z"/>
<path id="c-peru" fill="#74a9cf" d="M204.7 355.9L204.2 357.2L203.1 357.9L200.7 356.4L200.4 355.3L195.6 352.7L191.3 349.9L189.4 348.2L188.3 346.1L188.6 345.4L186.4 341.9L183.8 337.1L181.3 331.9L180.3 330.7L179.5 328.8L177.7 327.1L176.0 326.0L176.7 324.9L175.5 322.4L176.1 320.5L177.9 318.9L178.2 320.0L177.6 320.6L177.7 321.6L178.6 321.4L179.6 321.6L180.6 322.9L181.8 321.9L182.2 320.1L183.6 317.8L186.3 316.8L188.8 314.1L189.5 312.4L189.2 310.4L189.8 310.2L191.3 311.4L192.1 312.6L193.1 313.3L194.5 316.0L196.2 316.3L197.5 315.7L198.4 316.1L199.7 315.9L201.5 317.1L200.1 319.8L200.8 319.8L202.0 321.2L199.9 321.1L199.6 321.5L197.7 322.0L195.1 323.8L195.0 325.0L194.5 325.9L194.7 327.3L193.4 328.1L193.4 329.2L192.8 329.6L193.9 332.0L195.2 333.6L194.8 334.7L196.4 334.9L197.3 336.2L199.3 336.3L201.1 334.8L201.2 338.7L202.3 339.0L203.5 338.6L205.7 342.8L205.3 343.7L205.3 345.5L205.5 347.7L204.7 349.0L205.2 350.0L204.7 350.9L205.9 353.1L204.7 355.9Z"/>
<path id="c-brazil" fill="#0570b0" d="M235.5 388.9L237.9 385.3L240.1 382.8L241.5 381.7L243.2 380.3L243.0 378.2L241.7 376.7L240.6 377.2L240.9 375.7L241.1 374.1L240.9 372.7L240.1 372.2L239.3 372.7L238.4 372.6L238.1 371.5L237.6 369.2L237.1 368.4L235.6 367.7L234.7 368.2L232.2 367.7L232.1 364.1L231.3 362.7L231.9 362.1L231.6 360.7L232.1 359.5L232.3 357.4L231.7 355.8L230.4 355.1L230.0 354.1L230.3 352.6L225.9 352.5L224.8 349.4L225.4 349.4L225.3 348.2L224.8 347.5L224.7 346.0L223.3 345.2L221.8 345.2L220.8 344.5L219.3 343.9L218.3 343.0L215.7 342.5L213.1 340.2L213.2 338.5L212.8 337.4L213.0 335.5L210.0 335.9L208.8 336.9L206.9 338.0L206.4 338.7L205.2 338.8L203.5 338.6L202.3 339.0L201.2 338.7L201.1 334.8L199.3 336.3L197.3 336.2L196.4 334.9L194.8 334.7L195.2 333.6L193.9 332.0L192.8 329.6L193.4 329.2L193.4 328.1L194.7 327.3L194.5 325.9L195.0 325.0L195.1 323.8L197.7 322.0L199.6 321.5L199.9 321.1L202.0 321.2L202.9 314.1L202.9 312.9L202.5 311.4L201.5 310.5L201.5 308.6L202.8 308.1L203.3 308.4L203.4 307.4L202.0 307.2L202.0 305.5L206.5 305.6L207.3 304.7L207.9 305.5L208.3 307.0L208.8 306.7L210.0 308.1L211.8 307.9L212.3 307.1L214.0 306.5L215.0 306.1L215.2 305.0L216.9 304.3L216.8 303.7L214.8 303.5L214.5 301.8L214.7 300.1L213.6 299.4L214.1 299.2L215.8 299.5L217.6 300.2L218.3 299.5L219.9 299.1L222.5 298.1L223.4 297.2L223.1 296.4L224.3 296.3L224.9 296.9L224.5 298.1L225.3 298.5L225.8 299.7L225.1 300.6L224.7 302.8L225.3 304.1L225.5 305.3L226.9 306.6L228.0 306.7L228.3 306.2L229.0 306.1L230.0 305.6L230.8 304.9L232.1 305.1L232.6 305.0L233.9 305.2L234.1 304.7L233.7 304.2L234.0 303.4L234.9 303.7L236.0 303.4L237.3 304.0L238.3 304.5L239.0 303.8L239.5 303.9L239.8 304.6L240.9 304.5L241.8 303.5L242.6 301.5L244.0 299.1L244.8 299.0L245.3 300.5L246.5 305.0L247.8 305.5L247.8 307.3L246.1 309.4L246.8 310.2L250.9 310.6L251.0 313.2L252.7 311.5L255.6 312.5L259.4 314.0L260.6 315.6L260.2 317.0L262.9 316.2L267.4 317.6L270.8 317.5L274.3 319.7L277.3 322.6L279.1 323.3L281.0 323.4L281.9 324.3L282.7 327.6L283.1 329.2L282.3 333.5L281.2 335.2L278.0 338.8L276.7 341.8L275.1 344.0L274.5 344.1L273.9 346.0L274.3 350.9L273.9 354.9L273.7 356.7L273.1 357.7L272.9 361.2L270.8 364.6L270.6 367.3L268.8 368.4L268.4 370.0L266.0 370.0L262.5 371.0L261.0 372.1L258.5 372.9L256.0 375.0L254.4 377.6L254.3 379.5L254.8 381.0L254.7 383.6L254.3 384.9L252.9 386.3L251.1 390.9L249.5 393.0L248.2 394.2L247.6 396.7L246.4 398.2L245.5 396.7L246.3 395.5L244.7 393.7L242.8 392.2L240.2 390.5L239.4 390.6L236.9 388.6Z"/>
<path id="c-bolivia" fill="#a6bddb" d="M221.1 367.5L218.6 367.4L217.9 369.5L216.4 367.6L213.4 367.0L211.7 369.4L210.1 369.7L208.9 366.1L207.3 363.2L207.8 360.7L206.5 359.6L206.0 357.7L204.7 355.9L205.9 353.1L204.7 350.9L205.2 350.0L204.7 349.0L205.5 347.7L205.3 345.5L205.3 343.7L205.7 342.8L203.5 338.6L205.2 338.8L206.4 338.7L206.9 338.0L208.8 336.9L210.0 335.9L213.0 335.5L212.8 337.4L213.2 338.5L213.1 340.2L215.7 342.5L218.3 343.0L219.3 343.9L220.8 344.5L221.8 345.2L223.3 345.2L224.7 346.0L224.8 347.5L225.3 348.2L225.4 349.4L224.8 349.4L225.9 352.5L230.3 352.6L230.0 354.1L230.4 355.1L231.7 355.8L232.3 357.4L232.1 359.5L231.6 360.7L231.9 362.1L231.3 362.7L231.2 361.9L228.9 360.5L226.8 360.5L222.9 361.3L222.1 363.5L222.2 365.0L221.6 368.1Z"/>
<path id="c-paraguay" fill="#a6bddb" d="M231.3 362.7L232.1 364.1L232.2 367.7L234.7 368.2L235.6 367.7L237.1 368.4L237.6 369.2L238.1 371.5L238.4 372.6L239.3 372.7L240.1 372.2L240.9 372.7L241.1 374.1L240.9 375.7L240.6 377.2L240.5 379.5L238.7 381.5L237.0 381.9L234.5 381.5L232.1 380.8L233.9 376.8L233.4 375.7L231.0 374.7L228.0 372.7L226.1 372.3L221.6 368.1L222.2 365.0L222.1 363.5L222.9 361.3L226.8 360.5L228.9 360.5L231.2 361.9Z"/>
<path id="c-chile" fill="#74a9cf" d="M228.3 446.7L230.7 452.2L232.8 452.2L233.9 452.3L233.7 453.3L232.4 454.0L231.5 453.9L230.2 453.8L228.5 453.0L226.3 452.6L223.3 451.3L220.6 449.9L216.7 447.2L218.5 447.7L222.0 449.4L225.0 450.2L225.5 449.1L225.4 447.4L226.7 446.4ZM208.9 366.1L210.1 369.7L211.7 369.4L212.1 370.0L211.6 372.7L209.3 374.0L210.0 378.4L209.6 379.2L210.4 380.2L209.1 381.9L208.1 384.3L207.7 386.7L208.4 389.2L207.5 391.9L209.5 396.4L210.2 396.9L210.7 399.3L210.1 401.8L210.7 404.0L209.5 405.7L210.1 408.1L211.4 410.6L210.4 411.6L210.5 413.9L210.8 416.5L212.1 419.7L211.5 420.2L212.9 423.2L214.2 424.2L213.9 425.3L215.0 425.8L215.6 426.7L214.9 427.2L215.6 428.7L216.1 432.1L215.8 434.3L216.5 435.6L216.5 437.2L215.4 438.3L216.6 441.0L217.7 441.9L219.0 441.8L219.7 443.6L221.2 445.1L226.1 445.4L228.0 445.8L226.3 445.8L225.6 446.4L224.2 447.3L224.9 449.6L224.1 449.7L221.6 448.9L218.6 447.2L215.4 445.7L214.1 444.1L214.0 442.7L212.3 441.0L210.3 436.7L210.2 434.2L211.6 432.3L208.2 431.5L209.3 429.2L208.5 425.0L211.1 425.9L210.4 420.5L208.7 419.9L209.2 423.1L207.7 422.7L207.1 419.0L206.3 414.2L206.8 412.5L205.5 409.9L204.5 407.0L205.3 406.9L205.6 402.7L206.1 398.5L206.1 394.6L204.8 390.7L205.0 388.6L204.2 385.3L204.9 382.2L204.6 377.1L204.6 371.7L204.6 365.8L204.0 361.6L203.1 357.9L204.2 357.2L204.7 355.9L206.0 357.7L206.5 359.6L207.8 360.7L207.3 363.2Z"/>
<path id="c-argentina" fill="#3690c0" d="M237.1 453.0L237.4 451.8L234.4 451.2L231.3 449.7L229.5 447.8L228.3 446.7L230.7 452.2L232.8 452.2L233.9 452.3L235.3 453.1ZM216.4 367.6L217.9 369.5L218.6 367.4L221.1 367.5L221.6 368.1L226.1 372.3L228.0 372.7L231.0 374.7L233.4 375.7L233.9 376.8L232.1 380.8L234.5 381.5L237.0 381.9L238.7 381.5L240.5 379.5L240.6 377.2L241.7 376.7L243.0 378.2L243.2 380.3L241.5 381.7L240.1 382.8L237.9 385.3L235.5 388.9L235.3 391.0L235.2 393.7L235.6 396.3L235.3 396.8L235.4 398.5L235.5 399.9L238.7 402.1L238.8 403.9L240.4 405.1L240.5 406.3L239.2 409.7L236.3 411.1L232.2 411.6L229.7 411.4L230.6 412.9L230.6 414.8L231.4 416.2L230.3 417.1L228.3 417.4L226.0 416.5L225.3 417.1L226.4 419.7L228.0 420.5L228.9 419.7L229.9 421.0L228.2 421.8L227.1 423.4L227.6 426.0L227.5 427.4L225.6 427.4L224.4 428.7L224.4 430.6L227.1 432.5L229.2 433.0L229.2 435.3L227.4 436.7L227.1 439.7L225.7 440.7L225.3 441.9L227.0 444.5L228.9 445.9L228.0 445.8L226.1 445.4L221.2 445.1L219.7 443.6L219.0 441.8L217.7 441.9L216.6 441.0L215.4 438.3L216.5 437.2L216.5 435.6L215.8 434.3L216.1 432.1L215.6 428.7L214.9 427.2L215.6 426.7L215.0 425.8L213.9 425.3L214.2 424.2L212.9 423.2L211.5 420.2L212.1 419.7L210.8 416.5L210.5 413.9L210.4 411.6L211.4 410.6L210.1 408.1L209.5 405.7L210.7 404.0L210.1 401.8L210.7 399.3L210.2 396.9L209.5 396.4L207.5 391.9L208.4 389.2L207.7 386.7L208.1 384.3L209.1 381.9L210.4 380.2L209.6 379.2L210.0 378.4L209.3 374.0L211.6 372.7L212.1 370.0L211.7 369.4L213.4 367.0Z"/>
<path id="c-uruguay" fill="#a6bddb" d="M235.5 388.9L236.9 388.6L239.4 390.6L240.2 390.5L242.8 392.2L244.7 393.7L246.3 395.5L245.5 396.7L246.4 398.2L245.7 399.8L243.5 401.2L241.8 400.7L240.7 401.0L238.5 399.9L237.0 400.0L235.4 398.5L235.3 396.8L235.6 396.3L235.2 393.7L235.3 391.0Z"/>
<path id="c-iceland" fill="#ece7f2" d="M338.0 140.3L337.4 141.7L339.2 143.3L336.7 145.1L331.4 146.7L329.8 147.1L327.5 146.7L322.7 146.0L324.6 145.0L321.0 143.9L324.2 143.4L324.2 142.7L320.6 142.2L322.1 140.7L324.8 140.4L327.2 141.9L330.1 140.7L332.1 141.3L335.1 140.1Z"/>
<path id="c-norway" fill="#74a9cf" d="M409.0 129.8L414.6 131.4L412.6 132.0L414.8 133.4L412.2 134.2L410.9 134.5L411.2 132.9L408.9 132.1L406.5 132.8L406.0 134.4L404.6 135.4L402.7 134.8L400.6 135.0L398.5 133.8L397.6 134.4L396.6 134.4L396.6 135.9L393.3 135.5L393.1 136.8L391.4 136.8L390.5 138.4L389.1 140.9L386.8 144.1L387.5 144.9L387.0 145.8L385.3 145.7L384.3 147.9L384.7 151.1L386.0 152.3L385.6 155.0L384.2 156.7L383.5 158.1L382.2 156.6L378.7 159.4L376.2 160.0L373.6 158.7L372.8 156.1L372.0 150.7L373.6 149.2L378.2 147.2L381.5 144.8L384.5 141.6L388.1 137.2L390.7 135.6L394.9 132.8L398.3 131.8L401.1 132.0L403.2 130.2L406.2 130.3ZM399.7 116.2L396.6 117.0L393.9 116.6L394.8 116.1L393.7 115.5L396.7 115.1L397.5 115.8ZM389.3 112.8L394.4 114.1L391.0 114.9L390.5 116.3L389.2 116.6L388.9 118.3L387.1 118.3L383.6 117.1L384.8 116.5L382.5 115.9L379.4 114.3L378.1 112.9L381.9 112.2L382.8 112.8L384.8 112.8L385.2 112.2L387.3 112.1ZM399.2 111.5L402.2 112.1L400.5 113.1L396.3 113.3L392.0 113.0L391.6 112.5L389.5 112.5L387.8 111.7L392.0 111.2L394.2 111.6L395.5 111.1Z"/>
<path id="c-sweden" fill="#74a9cf" d="M401.6 142.0L400.2 143.5L400.7 145.0L398.2 146.8L395.0 148.8L394.1 152.1L395.6 153.8L397.6 155.1L396.2 157.9L394.4 158.4L394.1 162.5L393.3 164.8L391.0 164.5L390.1 166.5L387.8 166.6L387.1 164.3L385.2 161.5L383.5 158.1L384.2 156.7L385.6 155.0L386.0 152.3L384.7 151.1L384.3 147.9L385.3 145.7L387.0 145.8L387.5 144.9L386.8 144.1L389.1 140.9L390.5 138.4L391.4 136.8L393.1 136.8L393.3 135.5L396.6 135.9L396.6 134.4L397.6 134.4L400.0 135.4L402.9 136.9L403.7 140.4L404.4 141.3Z"/>
<path id="c-finland" fill="#74a9cf" d="M410.9 134.5L411.1 136.0L414.0 137.5L412.8 139.2L415.5 141.7L414.8 143.7L416.8 145.4L416.4 147.0L419.5 148.5L419.1 149.7L417.7 151.1L414.5 154.1L411.2 154.3L408.1 155.2L405.2 155.7L403.9 154.4L402.0 153.6L402.0 151.3L400.8 149.2L401.5 147.8L402.8 146.3L406.4 143.8L407.5 143.3L407.1 142.4L404.4 141.3L403.7 140.4L402.9 136.9L400.0 135.4L397.6 134.4L398.5 133.8L400.6 135.0L402.7 134.8L404.6 135.4L406.0 134.4L406.5 132.8L408.9 132.1L411.2 132.9Z"/>
<path id="c-denmark" fill="#74a9cf" d="M387.3 166.0L386.3 168.0L384.2 166.6L383.9 165.6L386.6 164.8ZM383.8 163.9L383.4 164.8L382.8 164.6L381.5 166.3L382.1 167.5L380.9 167.9L379.4 167.6L378.6 166.2L378.4 163.7L378.7 163.0L379.2 162.3L380.8 162.2L381.4 161.5L382.9 160.8L382.9 162.0L382.4 162.8Z"/>
<path id="c-united-kingdom" fill="#0570b0" d="M352.1 168.6L350.9 170.3L349.5 169.8L348.3 169.8L348.8 168.5L348.4 167.2L350.1 167.1ZM357.4 158.6L355.3 161.2L357.2 160.9L359.3 160.9L358.8 162.9L357.0 165.1L359.0 165.2L360.9 168.4L362.2 168.8L363.4 171.6L363.9 172.6L366.3 173.1L366.1 174.7L365.1 175.4L365.9 176.7L364.1 178.0L361.4 178.0L358.0 178.7L357.1 178.2L355.8 179.4L353.9 179.1L352.5 180.1L351.4 179.6L354.4 176.9L356.2 176.4L353.1 176.0L352.6 175.0L354.7 174.2L353.7 172.8L354.1 171.2L357.0 171.4L357.3 170.0L356.0 168.4L353.7 168.0L353.2 167.3L353.9 166.2L353.3 165.6L352.3 166.7L352.3 164.3L351.3 163.1L352.1 160.6L353.7 158.6L355.1 158.8Z"/>
<path id="c-ireland" fill="#74a9cf" d="M350.9 170.3L351.2 172.1L349.6 174.3L346.1 175.8L343.3 175.4L345.0 172.8L344.2 170.3L346.9 168.3L348.4 167.2L348.8 168.5L348.3 169.8L349.5 169.8Z"/>
<path id="c-france" fill="#0570b0" d="M383.1 200.0L382.5 202.0L381.5 201.5L380.9 199.8L381.3 198.8L382.6 197.8ZM370.2 179.0L371.6 180.2L372.6 180.0L374.4 181.2L374.9 181.4L375.4 181.3L376.4 182.0L379.3 182.4L378.4 184.2L378.2 186.0L377.6 186.4L376.7 186.2L376.8 186.8L375.4 188.3L375.3 189.4L376.3 189.0L377.1 190.2L377.0 190.9L377.6 191.9L376.9 192.6L377.6 194.6L378.7 194.9L378.5 196.1L376.6 197.5L372.5 196.8L369.5 197.6L369.3 199.2L366.8 199.6L364.5 198.4L363.7 198.9L359.9 197.8L359.0 196.8L360.1 195.2L360.6 190.1L358.4 187.4L357.0 186.1L353.9 185.2L353.7 183.3L356.3 182.8L359.7 183.4L359.1 180.5L361.0 181.6L365.7 179.6L366.3 177.6L368.0 177.1L368.3 177.9L369.2 178.0Z"/>
<path id="c-spain" fill="#3690c0" d="M344.0 200.7L344.2 198.9L343.4 197.8L346.4 195.9L348.9 196.4L351.7 196.4L353.9 196.8L355.7 196.7L359.0 196.8L359.9 197.8L363.7 198.9L364.5 198.4L366.8 199.6L369.3 199.2L369.4 200.7L367.4 202.4L364.7 203.0L364.5 203.8L363.2 205.3L362.4 207.4L363.2 208.9L362.0 210.1L361.5 211.7L359.9 212.3L358.4 214.3L353.6 214.2L352.2 215.2L351.3 216.1L350.3 215.9L349.5 215.1L348.9 213.6L346.9 213.1L346.8 212.3L347.6 211.3L347.9 210.6L347.2 209.8L347.8 208.1L347.0 206.6L348.0 206.4L348.1 205.1L348.4 204.8L348.5 202.7L349.5 202.0L349.0 200.7L347.7 200.6L347.4 201.0L346.1 201.0L345.7 199.7L344.8 200.1Z"/>
<path id="c-portugal" fill="#74a9cf" d="M344.0 200.7L344.8 200.1L345.7 199.7L346.1 201.0L347.4 201.0L347.7 200.6L349.0 200.7L349.5 202.0L348.5 202.7L348.4 204.8L348.1 205.1L348.0 206.4L347.0 206.6L347.8 208.1L347.2 209.8L347.9 210.6L347.6 211.3L346.8 212.3L346.9 213.1L346.0 213.8L344.9 213.5L343.8 213.7L344.2 211.7L344.1 210.1L343.1 209.9L342.6 208.9L342.9 207.2L343.7 206.2L343.9 205.2L344.4 203.6L344.4 202.6L344.0 201.6Z"/>
<path id="c-germany" fill="#0570b0" d="M382.1 167.5L382.2 168.5L384.2 169.1L384.2 169.9L386.2 169.5L387.2 168.8L389.5 169.8L390.5 170.5L391.0 171.8L390.5 172.5L391.3 173.4L392.0 174.7L391.9 175.6L392.8 177.2L392.0 177.4L391.4 177.1L391.0 177.6L389.6 178.1L388.9 178.8L387.5 179.3L387.9 180.0L388.1 181.1L389.2 181.7L390.4 182.8L389.8 184.0L389.1 184.3L389.5 186.0L389.3 186.4L388.7 185.9L387.7 185.8L386.3 186.3L384.4 186.1L384.2 186.8L383.1 186.1L382.5 186.2L380.3 185.5L379.9 186.0L378.2 186.0L378.4 184.2L379.3 182.4L376.4 182.0L375.4 181.3L375.5 180.2L375.1 179.6L375.3 177.9L374.8 175.3L376.0 175.3L376.5 174.4L376.9 172.1L376.5 171.2L376.8 170.7L378.4 170.6L378.8 171.1L380.1 169.9L379.6 169.0L379.4 167.6L380.9 167.9Z"/>
<path id="c-netherlands" fill="#3690c0" d="M374.8 171.2L376.5 171.2L376.9 172.1L376.5 174.4L376.0 175.3L374.8 175.3L375.3 177.9L374.1 177.3L372.8 176.2L371.0 176.8L369.6 176.6L370.6 175.9L372.2 172.2Z"/>
<path id="c-belgium" fill="#74a9cf" d="M369.6 176.6L371.0 176.8L372.8 176.2L374.1 177.3L375.3 177.9L375.1 179.6L374.6 179.7L374.4 181.2L372.6 180.0L371.6 180.2L370.2 179.0L369.2 178.0L368.3 177.9L368.0 177.1Z"/>
<path id="c-luxembourg" fill="#d0d1e6" d="M375.1 179.6L375.5 180.2L375.4 181.3L374.9 181.4L374.4 181.2L374.6 179.7Z"/>
<path id="c-switzerland" fill="#74a9cf" d="M382.5 186.2L382.6 186.7L382.3 187.3L383.3 187.8L384.3 187.9L384.2 188.9L383.3 189.3L381.8 189.0L381.4 190.0L380.4 190.1L380.1 189.7L379.0 190.6L378.0 190.7L377.1 190.2L376.3 189.0L375.3 189.4L375.4 188.3L376.8 186.8L376.7 186.2L377.6 186.4L378.2 186.0L379.9 186.0L380.3 185.5Z"/>
<path id="c-austria" fill="#74a9cf" d="M397.4 184.7L397.3 185.8L396.2 185.8L396.6 186.3L396.1 188.0L395.8 188.4L394.0 188.5L393.0 189.0L391.3 188.8L388.3 188.2L387.8 187.3L385.8 187.7L385.6 188.2L384.3 187.9L383.3 187.8L382.3 187.3L382.6 186.7L382.5 186.2L383.1 186.1L384.2 186.8L384.4 186.1L386.3 186.3L387.7 185.8L388.7 185.9L389.3 186.4L389.5 186.0L389.1 184.3L389.8 184.0L390.4 182.8L392.0 183.6L393.0 182.6L393.7 182.4L395.4 183.2L396.3 183.0L397.3 183.5L397.1 183.8Z"/>
<path id="c-italy" fill="#0570b0" d="M396.3 210.2L395.6 212.3L396.0 213.1L395.6 214.4L393.9 213.4L392.8 213.1L389.7 211.8L390.0 210.5L392.5 210.7L394.7 210.4L396.3 210.2ZM382.5 202.5L383.8 204.3L383.6 207.7L382.6 207.6L381.8 208.4L381.0 207.8L380.8 204.6L380.3 203.1L381.4 203.3L382.5 202.5ZM388.3 188.2L391.3 188.8L391.1 190.1L391.7 191.2L390.0 190.8L388.4 191.7L388.6 193.0L388.4 193.7L389.2 195.0L391.2 196.3L392.4 198.5L394.9 200.5L396.5 200.5L397.1 201.1L396.5 201.6L398.5 202.6L400.1 203.3L402.0 204.7L402.2 205.2L401.9 206.1L400.7 204.9L398.8 204.5L398.0 206.1L399.6 207.1L399.4 208.5L398.6 208.6L397.6 210.8L396.7 211.0L396.6 210.3L397.0 208.9L397.4 208.3L396.5 206.8L395.7 205.5L394.9 205.2L394.1 204.1L392.8 203.6L391.8 202.5L390.2 202.4L388.5 201.2L386.5 199.5L385.0 198.0L384.2 195.5L383.2 195.2L381.4 194.3L380.5 194.7L379.3 195.9L378.5 196.1L378.7 194.9L377.6 194.6L376.9 192.6L377.6 191.9L377.0 190.9L377.1 190.2L378.0 190.7L379.0 190.6L380.1 189.7L380.4 190.1L381.4 190.0L381.8 189.0L383.3 189.3L384.2 188.9L384.3 187.9L385.6 188.2L385.8 187.7L387.8 187.3Z"/>
<path id="c-poland" fill="#3690c0" d="M408.6 170.2L408.9 171.3L409.6 172.2L409.7 173.2L408.6 173.7L409.4 174.9L409.6 176.0L410.9 178.2L410.7 178.9L409.8 179.2L408.2 181.3L408.9 182.4L408.4 182.3L406.4 181.3L405.0 181.7L404.0 181.4L402.9 181.9L401.8 181.1L401.0 181.4L400.9 181.2L399.8 180.0L398.3 179.8L398.0 179.1L396.7 178.8L396.4 179.4L395.3 178.9L395.3 178.2L393.8 178.0L392.8 177.2L391.9 175.6L392.0 174.7L391.3 173.4L390.5 172.5L391.0 171.8L390.5 170.5L391.7 169.8L394.6 168.7L397.0 167.8L399.0 168.3L399.2 168.9L401.0 168.9L403.5 169.2L407.0 169.1L408.0 169.4Z"/>
<path id="c-czechia" fill="#74a9cf" d="M392.8 177.2L393.8 178.0L395.3 178.2L395.3 178.9L396.4 179.4L396.7 178.8L398.0 179.1L398.3 179.8L399.8 180.0L400.9 181.2L400.3 181.2L400.0 181.7L399.6 181.8L399.5 182.4L399.1 182.5L399.1 182.8L398.4 183.0L397.5 183.0L397.3 183.5L396.3 183.0L395.4 183.2L393.7 182.4L393.0 182.6L392.0 183.6L390.4 182.8L389.2 181.7L388.1 181.1L387.9 180.0L387.5 179.3L388.9 178.8L389.6 178.1L391.0 177.6L391.4 177.1L392.0 177.4Z"/>
<path id="c-slovakia" fill="#a6bddb" d="M408.4 182.3L408.0 182.9L407.7 184.0L407.3 184.2L405.0 183.5L404.4 183.6L404.0 184.2L403.1 184.5L402.8 184.4L401.9 184.8L401.1 184.8L401.0 185.3L399.3 185.6L398.5 185.4L397.4 184.7L397.1 183.8L397.3 183.5L397.5 183.0L398.4 183.0L399.1 182.8L399.1 182.5L399.5 182.4L399.6 181.8L400.0 181.7L400.3 181.2L400.9 181.2L401.0 181.4L401.8 181.1L402.9 181.9L404.0 181.4L405.0 181.7L406.4 181.3Z"/>
<path id="c-hungary" fill="#74a9cf" d="M407.7 184.0L408.9 184.7L409.1 185.3L407.9 185.9L407.2 187.6L406.1 189.3L404.5 189.8L403.2 189.7L401.7 190.4L401.0 190.8L399.2 190.3L397.6 189.2L396.9 188.9L396.5 188.0L396.1 188.0L396.6 186.3L396.2 185.8L397.3 185.8L397.4 184.7L398.5 185.4L399.3 185.6L401.0 185.3L401.1 184.8L401.9 184.8L402.8 184.4L403.1 184.5L404.0 184.2L404.4 183.6L405.0 183.5L407.3 184.2Z"/>
<path id="c-slovenia" fill="#a6bddb" d="M391.3 188.8L393.0 189.0L394.0 188.5L395.8 188.4L396.1 188.0L396.5 188.0L396.9 188.9L395.4 189.5L395.2 190.6L394.5 190.8L394.6 191.5L393.8 191.5L393.1 191.1L392.7 191.5L391.3 191.4L391.7 191.2L391.1 190.1Z"/>
<path id="c-croatia" fill="#a6bddb" d="M401.7 190.4L402.3 191.4L403.0 192.1L402.3 193.1L401.3 192.5L399.9 192.5L398.1 192.1L397.1 192.2L396.7 192.7L395.9 192.1L395.6 193.2L396.7 194.4L397.2 195.2L398.3 196.1L399.1 196.7L400.0 197.8L401.9 198.8L401.7 199.2L399.7 198.2L398.4 197.3L396.4 196.5L394.5 194.7L394.9 194.5L393.9 193.4L393.8 192.5L392.4 192.1L391.9 193.2L391.2 192.3L391.2 191.5L391.3 191.4L392.7 191.5L393.1 191.1L393.8 191.5L394.6 191.5L394.5 190.8L395.2 190.6L395.4 189.5L396.9 188.9L397.6 189.2L399.2 190.3L401.0 190.8Z"/>
<path id="c-bosnia-and-herzegovina" fill="#d0d1e6" d="M402.3 193.1L403.1 193.1L402.7 194.2L403.7 195.2L403.5 196.4L403.1 196.5L402.7 196.7L402.1 197.3L401.9 198.8L400.0 197.8L399.1 196.7L398.3 196.1L397.2 195.2L396.7 194.4L395.6 193.2L395.9 192.1L396.7 192.7L397.1 192.2L398.1 192.1L399.9 192.5L401.3 192.5Z"/>
<path id="c-serbia" fill="#a6bddb" d="M406.0 191.6L407.3 192.2L407.6 193.3L408.9 194.0L409.5 193.5L410.1 193.8L409.6 194.2L410.1 194.7L409.6 195.2L409.9 196.2L411.0 197.3L410.3 198.1L410.0 198.9L410.3 199.2L410.0 199.6L409.0 199.7L408.3 199.8L408.2 199.6L408.4 199.3L408.6 198.7L408.3 198.7L407.9 198.2L407.5 198.1L407.2 197.7L406.8 197.5L406.5 197.2L406.1 197.3L405.9 198.2L405.4 198.3L405.6 198.1L404.7 197.6L404.0 197.3L403.7 196.9L403.1 196.5L403.5 196.4L403.7 195.2L402.7 194.2L403.1 193.1L402.3 193.1L403.0 192.1L402.3 191.4L401.7 190.4L403.2 189.7L404.5 189.8L405.7 190.8Z"/>
<path id="c-montenegro" fill="#ece7f2" d="M405.1 198.9L404.5 199.1L404.4 198.7L403.5 199.9L403.8 200.7L403.3 200.5L402.6 199.7L401.7 199.2L401.9 198.8L402.1 197.3L402.7 196.7L403.1 196.5L403.7 196.9L404.0 197.3L404.7 197.6L405.6 198.1L405.4 198.3Z"/>
<path id="c-kosovo" fill="#ece7f2" d="M406.3 200.8L406.1 199.9L405.6 199.6L405.1 198.9L405.4 198.3L405.9 198.2L406.1 197.3L406.5 197.2L406.8 197.5L407.2 197.7L407.5 198.1L407.9 198.2L408.3 198.7L408.6 198.7L408.4 199.3L408.2 199.6L408.3 199.8L407.9 199.9L406.7 200.3L406.6 200.8Z"/>
<path id="c-albania" fill="#d0d1e6" d="M407.5 203.4L407.5 204.1L406.8 204.5L406.8 205.3L405.9 206.6L405.5 206.4L405.4 205.8L404.2 205.0L403.9 203.7L403.9 202.0L404.2 201.2L403.8 200.7L403.5 199.9L404.4 198.7L404.5 199.1L405.1 198.9L405.6 199.6L406.1 199.9L406.3 200.8L406.1 201.7L406.6 202.8Z"/>
<path id="c-north-macedonia" fill="#d0d1e6" d="M410.0 199.6L411.1 200.4L411.4 202.1L411.1 202.2L410.8 202.7L409.6 202.6L409.0 203.3L407.5 203.4L406.6 202.8L406.1 201.7L406.3 200.8L406.6 200.8L406.7 200.3L407.9 199.9L408.3 199.8L409.0 199.7Z"/>
<path id="c-greece" fill="#74a9cf" d="M414.4 216.8L415.6 217.7L417.3 217.5L418.9 217.7L418.9 218.2L420.1 217.8L419.9 218.6L416.8 218.8L416.8 218.4L414.1 217.9ZM419.1 201.6L418.6 203.2L418.2 203.5L416.9 203.4L415.7 203.1L413.2 203.8L414.9 205.3L413.8 205.7L412.6 205.7L411.4 204.4L411.0 204.9L411.6 206.5L412.8 207.7L412.1 208.3L413.4 209.5L414.5 210.2L414.7 211.7L412.6 211.0L413.4 212.3L412.0 212.6L413.0 214.9L411.6 214.9L409.7 213.8L408.8 211.7L408.3 210.0L407.3 208.8L406.1 207.3L405.9 206.6L406.8 205.3L406.8 204.5L407.5 204.1L407.5 203.4L409.0 203.3L409.6 202.6L410.8 202.7L411.1 202.2L411.4 202.1L413.0 202.2L414.6 201.5L416.2 202.4L418.1 202.2L418.0 200.9Z"/>
<path id="c-bulgaria" fill="#a6bddb" d="M410.1 194.7L410.8 195.7L411.5 195.5L413.2 195.9L416.3 196.1L417.2 195.4L419.6 194.8L421.2 195.8L422.5 196.0L421.5 197.1L421.0 198.9L421.9 200.4L420.0 200.1L418.0 200.9L418.1 202.2L416.2 202.4L414.6 201.5L413.0 202.2L411.4 202.1L411.1 200.4L410.0 199.6L410.3 199.2L410.0 198.9L410.3 198.1L411.0 197.3L409.9 196.2L409.6 195.2Z"/>
<path id="c-romania" fill="#74a9cf" d="M409.1 185.3L409.9 184.8L411.2 185.1L412.5 185.1L413.5 185.7L414.2 185.3L415.6 185.1L416.1 184.5L416.9 184.5L417.6 184.7L418.3 185.5L419.1 186.5L420.5 188.1L420.7 189.2L420.6 190.3L421.2 191.4L422.2 191.9L423.1 191.5L424.1 192.0L424.2 192.6L423.3 193.2L422.6 192.9L422.5 196.0L421.2 195.8L419.6 194.8L417.2 195.4L416.3 196.1L413.2 195.9L411.5 195.5L410.8 195.7L410.1 194.7L409.6 194.2L410.1 193.8L409.5 193.5L408.9 194.0L407.6 193.3L407.3 192.2L406.0 191.6L405.7 190.8L404.5 189.8L406.1 189.3L407.2 187.6L407.9 185.9Z"/>
<path id="c-moldova" fill="#d0d1e6" d="M416.9 184.5L417.4 184.1L418.7 183.8L420.3 184.6L421.1 184.7L422.1 185.4L422.1 186.3L422.9 186.7L423.4 187.8L424.2 188.4L424.1 188.8L424.5 189.1L424.0 189.2L422.8 189.2L422.5 188.8L422.1 189.0L422.3 189.5L421.9 190.3L421.7 191.2L421.2 191.4L420.6 190.3L420.7 189.2L420.5 188.1L419.1 186.5L418.3 185.5L417.6 184.7Z"/>
<path id="c-ukraine" fill="#74a9cf" d="M425.7 174.7L426.4 174.8L426.8 174.2L427.4 174.3L429.4 174.1L431.0 175.5L430.6 176.0L430.9 176.8L432.5 176.9L433.4 178.0L433.5 178.5L436.2 179.4L437.6 179.0L439.1 180.2L440.3 180.1L443.4 181.0L443.6 181.7L443.1 183.1L443.8 184.5L443.7 185.3L441.7 185.5L440.8 186.2L441.0 187.3L439.4 187.5L438.2 188.4L436.3 188.5L434.7 189.4L435.1 191.0L436.2 191.6L438.3 191.5L438.0 192.4L435.9 192.9L433.3 194.3L432.1 193.8L432.3 192.6L429.9 191.9L430.2 191.4L432.1 190.5L431.4 189.9L428.1 189.3L427.8 188.3L425.9 188.7L425.4 190.1L424.1 192.0L423.1 191.5L422.2 191.9L421.2 191.4L421.7 191.2L421.9 190.3L422.3 189.5L422.1 189.0L422.5 188.8L422.8 189.2L424.0 189.2L424.5 189.1L424.1 188.8L424.2 188.4L423.4 187.8L422.9 186.7L422.1 186.3L422.1 185.4L421.1 184.7L420.3 184.6L418.7 183.8L417.4 184.1L416.9 184.5L416.1 184.5L415.6 185.1L414.2 185.3L413.5 185.7L412.5 185.1L411.2 185.1L409.9 184.8L409.1 185.3L408.9 184.7L407.7 184.0L408.0 182.9L408.4 182.3L408.9 182.4L408.2 181.3L409.8 179.2L410.7 178.9L410.9 178.2L409.6 176.0L410.5 175.9L411.5 175.2L413.0 175.2L415.0 175.4L417.3 176.0L418.9 176.0L419.7 176.4L420.4 175.9L421.0 176.5L422.8 176.4L423.6 176.6L423.5 175.4L424.0 174.8Z"/>
<path id="c-belarus" fill="#a6bddb" d="M408.6 170.2L410.5 170.2L412.5 169.3L412.7 167.8L414.1 167.1L413.7 166.0L414.8 165.6L416.7 164.6L418.9 165.2L419.2 165.8L420.2 165.5L422.2 166.1L422.6 167.3L422.3 167.9L423.9 169.6L424.7 170.0L424.7 170.5L426.1 170.9L426.8 171.6L426.2 172.1L424.6 172.0L424.3 172.3L424.9 173.1L425.7 174.7L424.0 174.8L423.5 175.4L423.6 176.6L422.8 176.4L421.0 176.5L420.4 175.9L419.7 176.4L418.9 176.0L417.3 176.0L415.0 175.4L413.0 175.2L411.5 175.2L410.5 175.9L409.6 176.0L409.4 174.9L408.6 173.7L409.7 173.2L409.6 172.2L408.9 171.3Z"/>
<path id="c-lithuania" fill="#a6bddb" d="M407.0 169.1L406.8 168.5L406.9 167.8L406.0 167.4L403.9 167.0L403.2 164.9L405.3 164.2L408.5 164.4L410.3 164.1L410.7 164.6L411.7 164.8L413.7 166.0L414.1 167.1L412.7 167.8L412.5 169.3L410.5 170.2L408.6 170.2L408.0 169.4Z"/>
<path id="c-latvia" fill="#d0d1e6" d="M403.2 164.9L403.0 163.1L403.7 161.6L405.4 160.8L407.1 162.6L408.7 162.5L408.7 160.7L410.2 160.2L411.1 160.5L412.9 161.4L414.5 161.4L415.5 162.0L415.9 163.2L416.7 164.6L414.8 165.6L413.7 166.0L411.7 164.8L410.7 164.6L410.3 164.1L408.5 164.4L405.3 164.2Z"/>
<path id="c-estonia" fill="#d0d1e6" d="M408.7 160.7L408.7 159.2L408.0 159.5L406.7 158.7L406.3 157.3L408.5 156.6L410.8 156.3L412.9 156.6L414.8 156.6L415.2 157.0L414.1 158.4L415.1 160.7L414.5 161.4L412.9 161.4L411.1 160.5L410.2 160.2Z"/>
<path id="c-cyprus" fill="#d0d1e6" d="M433.1 218.4L434.3 218.2L434.5 217.6L436.1 217.7L438.0 216.9L436.6 218.0L436.9 218.7L434.8 219.7L433.7 219.4Z"/>
<path id="c-turkey" fill="#0570b0" d="M440.9 202.1L444.1 203.1L446.5 202.8L448.4 203.0L450.6 201.6L452.8 201.5L455.1 202.8L455.6 203.7L455.7 205.0L457.4 205.6L458.3 206.4L457.0 207.1L458.2 210.1L457.9 210.9L459.4 213.0L458.5 213.4L457.6 212.7L455.1 212.4L454.2 212.8L451.8 213.2L450.6 213.2L448.3 214.1L446.5 214.2L445.3 213.7L443.0 214.4L442.3 213.9L442.4 215.3L441.8 215.9L441.3 216.5L440.4 215.3L441.1 214.3L439.8 214.5L437.9 213.9L436.6 215.4L433.4 215.7L431.4 214.3L429.1 214.2L428.7 215.3L427.3 215.6L425.0 214.2L422.7 214.3L421.1 211.7L419.4 210.3L420.2 208.2L418.8 207.0L420.9 204.5L424.1 204.4L424.8 202.4L428.8 202.8L431.1 201.1L433.5 200.4L437.0 200.3ZM421.9 200.4L422.3 201.4L424.2 202.2L423.9 202.9L421.4 203.0L420.6 203.8L419.0 205.2L418.2 204.0L418.2 203.5L418.6 203.2L419.1 201.6L418.0 200.9L420.0 200.1Z"/>
<path id="c-morocco" fill="#74a9cf" d="M351.8 216.6L353.0 217.8L355.1 217.6L357.4 218.2L358.3 218.2L359.1 219.8L359.2 221.4L360.0 224.2L360.5 224.8L360.1 225.8L357.2 226.2L356.2 227.2L355.0 227.4L354.9 229.3L352.3 230.4L351.4 231.7L349.6 232.4L347.3 232.8L343.7 234.7L343.7 237.8L333.6 237.8L334.9 236.8L337.0 236.5L338.8 234.7L339.9 234.0L341.8 231.9L341.4 228.6L342.3 226.3L342.6 225.0L344.0 223.2L346.3 222.0L347.9 220.9L349.4 218.2L350.1 216.6Z"/>
<path id="c-algeria" fill="#74a9cf" d="M390.0 248.7L382.4 253.7L375.9 258.8L372.7 260.0L370.2 260.2L370.1 258.6L369.1 258.1L367.7 257.4L367.1 256.2L359.5 250.5L352.0 244.8L343.6 238.5L343.7 238.0L343.7 237.8L343.7 234.7L347.3 232.8L349.6 232.4L351.4 231.7L352.3 230.4L354.9 229.3L355.0 227.4L356.2 227.2L357.2 226.2L360.1 225.8L360.5 224.8L360.0 224.2L359.2 221.4L359.1 219.8L358.3 218.2L360.4 216.8L362.7 216.3L364.1 215.2L366.2 214.4L369.8 214.0L373.4 213.7L374.5 214.1L376.5 213.1L378.8 213.1L379.7 213.7L381.2 213.5L380.8 214.9L381.2 217.4L380.7 219.5L379.4 221.0L379.7 223.0L381.5 224.5L381.5 225.1L382.9 226.2L384.0 230.9L384.8 233.2L384.9 234.4L384.6 236.5L384.8 237.7L384.5 239.1L384.7 240.8L383.9 241.9L385.2 243.8L385.3 244.9L386.1 246.3L387.2 245.9L389.0 247.1Z"/>
<path id="c-tunisia" fill="#a6bddb" d="M384.0 230.9L382.9 226.2L381.5 225.1L381.5 224.5L379.7 223.0L379.4 221.0L380.7 219.5L381.2 217.4L380.8 214.9L381.2 213.5L383.5 212.5L385.0 212.8L385.0 214.1L386.8 213.2L386.9 213.7L385.9 214.9L385.9 216.1L386.7 216.8L386.5 219.1L385.1 220.4L385.6 221.8L386.7 221.8L387.3 223.1L388.2 223.5L388.1 225.5L387.1 226.2L386.4 227.1L384.9 228.1L385.2 229.2L385.0 230.3Z"/>
<path id="c-libya" fill="#d0d1e6" d="M419.4 252.6L419.6 257.8L417.0 257.8L417.0 258.9L407.8 253.9L398.7 248.9L396.5 250.3L394.9 251.3L393.6 249.8L390.0 248.7L389.0 247.1L387.2 245.9L386.1 246.3L385.3 244.9L385.2 243.8L383.9 241.9L384.7 240.8L384.5 239.1L384.8 237.7L384.6 236.5L384.9 234.4L384.8 233.2L384.0 230.9L385.0 230.3L385.2 229.2L384.9 228.1L386.4 227.1L387.1 226.2L388.1 225.5L388.2 223.5L390.8 224.4L391.7 224.2L393.5 224.6L396.5 225.7L397.6 228.1L399.6 228.6L402.8 229.7L405.2 231.0L406.3 230.3L407.2 229.1L406.6 227.1L407.2 225.8L408.7 224.6L410.2 224.3L413.2 224.8L414.1 226.0L414.9 226.0L415.6 226.4L417.8 226.7L418.4 227.6L417.7 228.8L418.1 230.0L417.7 231.6L418.5 233.7L419.0 243.0Z"/>
<path id="c-egypt" fill="#3690c0" d="M446.2 252.6L437.3 252.6L428.5 252.6L419.4 252.6L419.0 243.0L418.5 233.7L417.7 231.6L418.1 230.0L417.7 228.8L418.4 227.6L421.4 227.5L423.5 228.2L425.8 229.0L426.8 229.4L428.5 228.6L429.3 227.8L431.2 227.6L432.8 227.9L433.5 229.2L434.0 228.4L435.8 229.0L437.5 229.1L438.6 228.5L440.4 233.0L439.9 234.0L439.6 236.0L439.1 237.4L438.6 237.8L437.8 237.0L436.7 235.8L434.8 232.1L434.6 232.3L435.7 235.0L437.3 237.7L439.3 241.8L440.2 243.2L441.1 244.7L443.3 247.5L442.8 248.0L443.0 249.7L445.8 252.0Z"/>
<path id="c-mauritania" fill="#d0d1e6" d="M324.4 255.2L324.9 254.3L333.8 254.3L333.4 250.6L334.0 249.2L336.1 249.0L336.2 242.3L343.5 242.4L343.6 238.5L352.0 244.8L348.5 244.8L349.5 256.1L350.5 267.4L350.9 267.7L350.4 269.5L341.2 269.6L340.9 270.2L340.0 270.0L338.7 270.5L337.1 269.8L336.4 269.8L336.0 271.4L335.2 271.8L333.7 270.1L332.4 268.1L330.9 267.4L329.8 266.7L328.5 266.7L327.4 267.3L326.3 267.0L325.5 267.9L325.3 266.5L326.0 265.2L326.3 262.7L326.1 260.1L325.9 258.9L326.1 257.5L325.6 256.3Z"/>
<path id="c-mali" fill="#d0d1e6" d="M336.6 277.5L336.7 276.7L336.6 275.7L335.7 275.0L335.3 273.5L335.2 271.8L336.0 271.4L336.4 269.8L337.1 269.8L338.7 270.5L340.0 270.0L340.9 270.2L341.2 269.6L350.4 269.5L350.9 267.7L350.5 267.4L349.5 256.1L348.5 244.8L352.0 244.8L359.5 250.5L367.1 256.2L367.7 257.4L369.1 258.1L370.1 258.6L370.2 260.2L372.7 260.0L372.7 266.0L371.5 267.8L371.3 269.3L369.3 269.8L366.2 270.0L365.3 270.9L363.8 271.0L362.4 271.0L361.8 270.5L360.6 270.9L358.4 272.0L358.0 272.8L356.2 274.0L355.9 274.6L354.9 275.2L353.8 274.8L353.2 275.5L352.9 277.3L351.0 279.4L351.1 280.3L350.5 281.4L350.6 282.9L349.6 283.3L349.1 283.6L348.8 282.5L348.1 282.8L347.7 282.8L347.3 283.5L345.5 283.5L344.9 283.1L344.6 283.3L343.9 282.6L344.0 281.8L343.7 281.5L343.2 281.8L343.3 280.9L343.8 280.3L342.9 279.2L342.6 278.4L342.1 277.9L341.6 277.8L341.1 278.2L340.3 278.5L339.7 279.1L338.7 278.9L338.1 278.2L337.7 278.1L337.1 278.5L336.7 278.5Z"/>
<path id="c-niger" fill="#d0d1e6" d="M367.9 278.8L368.0 277.0L365.3 276.5L365.3 275.2L364.0 273.5L363.7 272.3L363.8 271.0L365.3 270.9L366.2 270.0L369.3 269.8L371.3 269.3L371.5 267.8L372.7 266.0L372.7 260.0L375.9 258.8L382.4 253.7L390.0 248.7L393.6 249.8L394.9 251.3L396.5 250.3L397.1 254.4L398.0 255.0L398.0 255.9L399.0 256.8L398.5 257.9L397.8 263.2L397.7 266.6L394.9 269.1L393.9 272.5L394.9 273.5L394.9 275.1L396.4 275.2L396.2 276.4L395.5 276.6L395.5 277.4L395.1 277.5L393.5 274.6L392.9 274.5L391.2 276.0L389.4 275.2L388.1 275.0L387.5 275.4L386.1 275.3L384.8 276.5L383.6 276.5L380.8 275.2L379.8 275.8L378.6 275.7L377.8 274.8L375.4 273.8L373.0 274.1L372.4 274.7L372.1 276.2L371.4 277.2L371.3 279.6L369.5 278.0L368.7 278.1Z"/>
<path id="c-chad" fill="#d0d1e6" d="M396.2 276.4L396.4 275.2L394.9 275.1L394.9 273.5L393.9 272.5L394.9 269.1L397.7 266.6L397.8 263.2L398.5 257.9L399.0 256.8L398.0 255.9L398.0 255.0L397.1 254.4L396.5 250.3L398.7 248.9L407.8 253.9L417.0 258.9L417.5 269.2L415.5 269.1L414.5 271.0L414.0 272.6L414.5 273.2L413.7 274.0L414.0 275.1L413.4 276.2L413.2 277.1L414.0 277.0L414.5 278.0L414.6 279.5L415.5 280.3L415.4 280.9L414.0 281.4L412.8 282.4L411.2 285.2L409.1 286.5L406.9 286.3L406.2 286.6L406.5 287.5L405.3 288.4L404.3 289.4L401.4 290.4L400.9 289.8L400.5 289.8L400.1 290.4L398.1 290.6L398.5 289.9L397.8 288.1L397.4 287.0L396.4 286.6L395.0 285.1L395.5 283.8L396.6 284.1L397.2 283.9L398.5 283.9L397.2 281.6L397.3 279.8L397.1 278.1L396.2 276.4Z"/>
<path id="c-sudan" fill="#d0d1e6" d="M441.0 285.3L440.7 285.2L440.7 283.9L440.4 283.0L439.2 282.0L438.9 280.1L439.1 278.2L438.0 278.0L437.9 278.6L436.5 278.7L437.1 279.5L437.3 281.1L436.1 282.5L435.0 284.4L433.8 284.6L431.9 283.1L431.0 283.7L430.8 284.4L429.6 284.9L429.5 285.5L427.2 285.5L426.9 284.9L425.3 284.8L424.4 285.3L423.8 285.1L422.6 283.5L422.2 282.8L420.5 283.2L419.9 284.4L419.4 286.7L418.6 287.2L417.9 287.5L417.7 287.4L416.9 286.6L416.7 285.8L417.1 284.7L417.1 283.7L415.7 282.0L415.4 280.9L415.5 280.3L414.6 279.5L414.5 278.0L414.0 277.0L413.2 277.1L413.4 276.2L414.0 275.1L413.7 274.0L414.5 273.2L414.0 272.6L414.5 271.0L415.5 269.1L417.5 269.2L417.0 258.9L417.0 257.8L419.6 257.8L419.4 252.6L428.5 252.6L437.3 252.6L446.2 252.6L447.1 255.1L446.6 255.6L447.1 258.3L448.1 261.4L449.0 262.0L450.3 263.0L449.2 264.5L447.6 264.9L446.9 265.7L446.8 267.5L445.9 271.3L446.2 272.4L446.0 274.6L445.1 277.2L443.8 278.5L442.9 280.4L442.7 281.5L441.6 282.2L441.0 285.0Z"/>
<path id="c-ethiopia" fill="#74a9cf" d="M449.6 270.9L451.0 272.1L452.3 271.5L452.9 272.1L454.5 272.1L456.5 273.1L457.1 274.0L458.2 274.9L459.2 276.4L460.0 277.3L459.2 278.4L458.5 279.6L458.7 280.3L458.8 281.2L460.0 281.2L460.6 281.0L461.1 281.5L460.7 282.4L461.6 283.8L462.4 285.1L463.3 286.0L470.9 289.1L472.9 289.1L466.5 296.9L463.6 297.1L461.5 298.9L460.1 299.0L459.5 299.8L457.9 299.8L456.9 298.9L454.8 300.0L454.2 301.1L452.6 300.9L452.1 300.5L451.6 300.6L450.9 300.6L447.9 298.4L446.3 298.4L445.5 297.5L445.5 296.1L444.3 295.6L442.9 292.8L441.8 292.2L441.4 291.1L440.2 289.9L438.8 289.7L439.5 288.2L440.8 288.1L441.1 287.3L441.0 285.0L441.6 282.2L442.7 281.5L442.9 280.4L443.8 278.5L445.1 277.2L446.0 274.6L446.2 272.4L448.9 272.9Z"/>
<path id="c-djibouti" fill="#fff7fb" d="M461.6 276.8L462.2 277.7L462.2 278.7L460.9 279.3L461.9 280.1L461.1 281.5L460.6 281.0L460.0 281.2L458.8 281.2L458.7 280.3L458.5 279.6L459.2 278.4L460.0 277.3L461.0 277.5Z"/>
<path id="c-somalia" fill="#ece7f2" d="M477.0 279.8L478.2 279.5L479.2 278.6L480.1 278.6L480.2 279.3L480.0 280.8L480.1 282.2L479.7 283.2L479.1 286.0L478.1 288.9L476.8 292.2L474.9 296.1L473.0 299.0L470.3 302.5L468.1 304.6L464.6 307.3L462.5 309.2L460.0 312.4L459.4 313.8L458.9 314.4L457.5 312.2L457.5 302.7L459.5 299.8L460.1 299.0L461.5 298.9L463.6 297.1L466.5 296.9L472.9 289.1L470.9 289.1L463.3 286.0L462.4 285.1L461.6 283.8L460.7 282.4L461.1 281.5L461.9 280.1L462.7 280.5L463.2 281.6L464.2 282.7L465.4 282.7L467.5 282.1L470.0 281.8L472.0 280.9L473.1 280.8L473.9 280.3L475.2 280.2L476.0 280.2Z"/>
<path id="c-kenya" fill="#74a9cf" d="M457.5 312.2L458.9 314.4L457.3 315.4L456.7 316.5L455.8 316.7L455.5 318.6L454.7 319.6L454.2 321.4L453.3 322.2L450.0 319.6L449.9 318.1L441.6 312.8L441.2 312.5L441.2 309.7L441.8 308.6L443.0 306.9L443.8 305.0L442.8 302.0L442.5 300.7L441.4 298.9L442.7 297.3L444.3 295.6L445.5 296.1L445.5 297.5L446.3 298.4L447.9 298.4L450.9 300.6L451.6 300.6L452.1 300.5L452.6 300.9L454.2 301.1L454.8 300.0L456.9 298.9L457.9 299.8L459.5 299.8L457.5 302.7Z"/>
<path id="c-uganda" fill="#a6bddb" d="M436.5 312.7L434.0 312.6L433.2 313.0L431.8 313.8L431.2 313.5L431.2 311.5L431.8 310.5L431.9 308.4L432.4 307.2L433.3 305.9L434.1 305.2L434.9 304.3L433.9 303.9L434.1 300.8L435.0 300.1L436.5 300.7L438.3 300.1L439.9 300.1L441.4 298.9L442.5 300.7L442.8 302.0L443.8 305.0L443.0 306.9L441.8 308.6L441.2 309.7L441.2 312.5Z"/>
<path id="c-rwanda" fill="#d0d1e6" d="M433.2 313.0L434.1 314.4L433.9 316.0L433.3 316.3L432.0 316.1L431.3 317.6L429.9 317.4L430.1 316.0L430.4 315.8L430.5 314.2L431.2 313.5L431.8 313.8Z"/>
<path id="c-burundi" fill="#fff7fb" d="M433.3 316.3L433.4 317.3L433.9 317.9L433.9 318.8L433.3 319.3L432.4 320.7L431.5 321.6L430.6 321.7L430.5 318.6L429.9 317.4L431.3 317.6L432.0 316.1Z"/>
<path id="c-tanzania" fill="#a6bddb" d="M441.2 312.5L441.6 312.8L449.9 318.1L450.0 319.6L453.3 322.2L452.2 325.4L452.3 326.9L453.7 327.9L453.8 328.5L453.1 330.1L453.2 330.9L453.1 332.2L453.8 333.8L454.7 336.4L455.5 336.9L453.7 338.5L451.1 339.5L449.7 339.4L448.9 340.2L447.3 340.3L446.7 340.6L444.0 339.9L442.2 340.1L441.7 336.5L440.9 335.3L440.5 334.6L438.3 334.1L437.0 333.3L435.5 332.9L434.6 332.4L433.7 331.8L432.5 328.5L431.2 327.0L430.7 325.5L431.0 324.2L430.6 321.7L431.5 321.6L432.4 320.7L433.3 319.3L433.9 318.8L433.9 317.9L433.4 317.3L433.3 316.3L433.9 316.0L434.1 314.4L433.2 313.0L434.0 312.6L436.5 312.7Z"/>
<path id="c-senegal" fill="#d0d1e6" d="M324.8 274.5L323.9 272.5L322.7 271.5L323.7 271.0L324.9 269.2L325.5 267.9L326.3 267.0L327.4 267.3L328.5 266.7L329.8 266.7L330.9 267.4L332.4 268.1L333.7 270.1L335.2 271.8L335.3 273.5L335.7 275.0L336.6 275.7L336.7 276.7L336.6 277.5L336.3 277.7L335.1 277.4L334.9 277.8L334.4 277.8L332.7 277.2L331.6 277.1L327.4 277.0L326.8 277.3L326.0 277.2L324.8 277.7L324.5 275.7L326.5 275.7L327.1 275.4L327.5 275.3L328.4 274.7L329.3 275.3L330.3 275.3L331.3 274.7L330.9 274.0L330.1 274.4L329.4 274.4L328.5 273.8L327.8 273.8L327.3 274.4Z"/>
<path id="c-gambia" fill="#fff7fb" d="M324.8 274.5L327.3 274.4L327.8 273.8L328.5 273.8L329.4 274.4L330.1 274.4L330.9 274.0L331.3 274.7L330.3 275.3L329.3 275.3L328.4 274.7L327.5 275.3L327.1 275.4L326.5 275.7L324.5 275.7Z"/>
<path id="c-guinea-bissau" fill="#fff7fb" d="M324.8 277.7L326.0 277.2L326.8 277.3L327.4 277.0L331.6 277.1L331.6 278.0L331.3 278.3L331.5 279.2L331.1 279.5L330.6 279.5L330.0 279.9L329.3 279.9L328.3 281.2L327.1 280.1L326.1 279.9L325.6 279.2L325.6 278.8L324.9 278.2Z"/>
<path id="c-guinea" fill="#d0d1e6" d="M331.6 277.1L332.7 277.2L334.4 277.8L334.9 277.8L335.1 277.4L336.3 277.7L336.6 277.5L336.7 278.5L337.1 278.5L337.7 278.1L338.1 278.2L338.7 278.9L339.7 279.1L340.3 278.5L341.1 278.2L341.6 277.8L342.1 277.9L342.6 278.4L342.9 279.2L343.8 280.3L343.3 280.9L343.2 281.8L343.7 281.5L344.0 281.8L343.9 282.6L344.6 283.3L344.1 283.6L343.9 284.4L344.4 285.5L345.0 287.6L344.2 287.9L343.9 288.3L344.1 288.8L344.0 289.9L343.6 289.9L342.9 289.9L342.5 290.9L341.8 290.9L341.4 290.3L341.5 289.3L340.6 287.7L340.0 288.0L339.5 288.0L338.8 288.2L338.9 287.2L338.5 286.6L338.6 285.8L338.1 284.7L337.5 283.8L335.6 283.8L335.1 284.3L334.5 284.3L334.1 284.9L333.8 285.6L332.6 286.8L331.6 285.2L330.7 284.2L330.1 283.8L329.5 283.3L329.3 282.2L329.0 281.6L328.3 281.2L329.3 279.9L330.0 279.9L330.6 279.5L331.1 279.5L331.5 279.2L331.3 278.3L331.6 278.0Z"/>
<path id="c-sierra-leone" fill="#ece7f2" d="M332.6 286.8L333.8 285.6L334.1 284.9L334.5 284.3L335.1 284.3L335.6 283.8L337.5 283.8L338.1 284.7L338.6 285.8L338.5 286.6L338.9 287.2L338.8 288.2L339.5 288.0L338.4 289.3L337.4 290.7L337.2 291.4L336.7 292.3L336.1 292.1L334.4 291.0L333.2 289.6L332.8 288.7Z"/>
<path id="c-liberia" fill="#fff7fb" d="M343.6 289.9L343.5 290.7L343.7 292.0L343.2 293.1L343.9 293.8L344.6 294.0L345.6 295.1L345.6 296.1L345.4 296.4L345.2 298.6L344.6 298.6L342.3 297.4L340.2 295.4L338.2 294.0L336.7 292.3L337.2 291.4L337.4 290.7L338.4 289.3L339.5 288.0L340.0 288.0L340.6 287.7L341.5 289.3L341.4 290.3L341.8 290.9L342.5 290.9L342.9 289.9Z"/>
<path id="c-cote-d-ivoire" fill="#a6bddb" d="M344.6 283.3L344.9 283.1L345.5 283.5L347.3 283.5L347.7 282.8L348.1 282.8L348.8 282.5L349.1 283.6L349.6 283.3L350.6 282.9L351.6 283.5L352.0 284.4L353.1 284.9L353.9 284.3L354.9 284.2L356.5 284.8L357.1 288.5L356.1 290.7L355.5 293.7L356.5 295.9L356.4 297.0L355.4 297.0L353.8 296.5L352.3 296.5L349.6 297.0L348.0 297.7L345.7 298.7L345.2 298.6L345.4 296.4L345.6 296.1L345.6 295.1L344.6 294.0L343.9 293.8L343.2 293.1L343.7 292.0L343.5 290.7L343.6 289.9L344.0 289.9L344.1 288.8L343.9 288.3L344.2 287.9L345.0 287.6L344.4 285.5L343.9 284.4L344.1 283.6Z"/>
<path id="c-ghana" fill="#a6bddb" d="M363.0 281.2L362.9 282.0L363.8 283.4L363.8 285.3L364.1 287.3L364.6 288.3L364.1 290.7L364.3 292.0L364.9 293.6L365.4 294.5L361.8 296.1L360.6 296.9L358.5 297.7L356.4 297.0L356.5 295.9L355.5 293.7L356.1 290.7L357.1 288.5L356.5 284.8L356.2 282.8L356.3 281.4L360.2 281.3L361.3 281.4L362.0 281.0Z"/>
<path id="c-togo" fill="#ece7f2" d="M365.1 281.3L364.8 282.7L365.5 283.4L366.3 284.3L366.4 285.6L366.8 286.2L366.7 292.2L367.3 294.0L365.4 294.5L364.9 293.6L364.3 292.0L364.1 290.7L364.6 288.3L364.1 287.3L363.8 285.3L363.8 283.4L362.9 282.0L363.0 281.2Z"/>
<path id="c-benin" fill="#d0d1e6" d="M369.2 293.7L367.3 294.0L366.7 292.2L366.8 286.2L366.4 285.6L366.3 284.3L365.5 283.4L364.8 282.7L365.1 281.3L365.8 281.0L366.3 279.8L367.4 279.6L367.9 278.8L368.7 278.1L369.5 278.0L371.3 279.6L371.2 280.4L371.7 282.0L371.3 283.0L371.5 283.7L370.4 285.4L369.7 286.1L369.3 287.8L369.3 289.5Z"/>
<path id="c-burkina-faso" fill="#d0d1e6" d="M356.5 284.8L354.9 284.2L353.9 284.3L353.1 284.9L352.0 284.4L351.6 283.5L350.6 282.9L350.5 281.4L351.1 280.3L351.0 279.4L352.9 277.3L353.2 275.5L353.8 274.8L354.9 275.2L355.9 274.6L356.2 274.0L358.0 272.8L358.4 272.0L360.6 270.9L361.8 270.5L362.4 271.0L363.8 271.0L363.7 272.3L364.0 273.5L365.3 275.2L365.3 276.5L368.0 277.0L367.9 278.8L367.4 279.6L366.3 279.8L365.8 281.0L365.1 281.3L363.0 281.2L362.0 281.0L361.3 281.4L360.2 281.3L356.3 281.4L356.2 282.8Z"/>
<path id="c-nigeria" fill="#3690c0" d="M382.6 297.5L380.2 298.5L379.3 298.4L378.4 298.9L376.6 298.9L375.3 297.2L374.6 295.4L373.0 293.6L371.2 293.7L369.2 293.7L369.3 289.5L369.3 287.8L369.7 286.1L370.4 285.4L371.5 283.7L371.3 283.0L371.7 282.0L371.2 280.4L371.3 279.6L371.4 277.2L372.1 276.2L372.4 274.7L373.0 274.1L375.4 273.8L377.8 274.8L378.6 275.7L379.8 275.8L380.8 275.2L383.6 276.5L384.8 276.5L386.1 275.3L387.5 275.4L388.1 275.0L389.4 275.2L391.2 276.0L392.9 274.5L393.5 274.6L395.1 277.5L395.5 277.4L396.4 278.4L396.2 278.9L396.1 279.8L394.1 281.8L393.6 283.5L393.2 284.8L392.8 285.4L392.3 287.2L391.1 288.3L390.7 289.6L390.2 290.7L390.0 291.8L388.5 292.7L387.2 291.6L386.3 291.6L384.9 293.2L384.2 293.2L383.2 295.7Z"/>
<path id="c-cameroon" fill="#a6bddb" d="M393.2 304.1L392.9 303.9L391.5 304.3L390.1 303.9L389.0 304.1L385.2 304.0L385.6 302.0L384.7 300.3L383.6 299.8L383.1 298.6L382.6 298.3L382.6 297.5L383.2 295.7L384.2 293.2L384.9 293.2L386.3 291.6L387.2 291.6L388.5 292.7L390.0 291.8L390.2 290.7L390.7 289.6L391.1 288.3L392.3 287.2L392.8 285.4L393.2 284.8L393.6 283.5L394.1 281.8L396.1 279.8L396.2 278.9L396.4 278.4L395.5 277.4L395.5 276.6L396.2 276.4L397.1 278.1L397.3 279.8L397.2 281.6L398.5 283.9L397.2 283.9L396.6 284.1L395.5 283.8L395.0 285.1L396.4 286.6L397.4 287.0L397.8 288.1L398.5 289.9L398.1 290.6L397.0 293.3L396.5 293.7L396.3 295.8L396.5 296.9L396.4 297.7L397.4 299.0L397.7 299.9L398.5 301.3L399.6 302.1L399.7 303.3L399.9 304.1L399.8 305.5L397.9 304.9L396.1 304.2Z"/>
<path id="c-central-african-republic" fill="#fff7fb" d="M398.1 290.6L400.1 290.4L400.5 289.8L400.9 289.8L401.4 290.4L404.3 289.4L405.3 288.4L406.5 287.5L406.2 286.6L406.9 286.3L409.1 286.5L411.2 285.2L412.8 282.4L414.0 281.4L415.4 280.9L415.7 282.0L417.1 283.7L417.1 284.7L416.7 285.8L416.9 286.6L417.7 287.4L419.5 288.5L420.7 289.6L420.8 290.4L422.4 291.8L423.3 292.9L423.9 294.5L425.7 295.5L426.0 296.3L425.3 296.6L423.8 296.6L422.1 296.3L421.2 296.5L420.9 297.1L420.1 297.2L419.2 296.7L416.7 298.0L415.6 297.7L415.3 297.9L414.6 299.5L412.9 299.0L411.2 298.7L409.7 297.8L407.8 296.9L406.6 297.7L405.7 299.0L405.5 300.9L404.0 300.7L402.5 300.3L401.1 301.6L399.9 304.1L399.7 303.3L399.6 302.1L398.5 301.3L397.7 299.9L397.4 299.0L396.4 297.7L396.5 296.9L396.3 295.8L396.5 293.7L397.0 293.3Z"/>
<path id="c-equatorial-guinea" fill="#ece7f2" d="M385.2 304.0L389.0 304.1L389.0 307.2L385.7 307.2L384.9 307.4L384.5 307.0Z"/>
<path id="c-gabon" fill="#d0d1e6" d="M389.0 304.1L390.1 303.9L391.5 304.3L392.9 303.9L393.2 304.1L393.0 305.2L393.6 306.6L395.4 306.3L395.9 306.9L394.9 309.9L396.0 311.4L396.3 313.5L396.0 315.2L395.3 316.4L393.2 316.3L392.0 315.1L391.8 316.2L390.3 316.6L389.5 317.2L390.3 319.0L388.6 320.4L386.2 317.8L384.7 315.6L383.3 312.9L383.4 312.0L383.9 311.2L384.4 309.3L384.9 307.4L385.7 307.2L389.0 307.2Z"/>
<path id="c-congo" fill="#d0d1e6" d="M392.9 322.5L392.1 321.6L391.4 322.0L390.4 323.2L388.6 320.4L390.3 319.0L389.5 317.2L390.3 316.6L391.8 316.2L392.0 315.1L393.2 316.3L395.3 316.4L396.0 315.2L396.3 313.5L396.0 311.4L394.9 309.9L395.9 306.9L395.4 306.3L393.6 306.6L393.0 305.2L393.2 304.1L396.1 304.2L397.9 304.9L399.8 305.5L399.9 304.1L401.1 301.6L402.5 300.3L404.0 300.7L405.5 300.9L405.4 302.4L404.7 303.8L404.3 305.5L404.0 307.8L404.1 309.2L403.7 310.2L403.7 311.1L403.4 311.9L401.9 313.2L400.8 314.5L399.8 317.1L399.9 319.2L399.3 320.1L398.0 321.3L396.6 323.0L395.7 322.5L395.6 321.8L394.3 321.7L393.5 322.7Z"/>
<path id="c-democratic-republic-of-congo" fill="#a6bddb" d="M434.1 300.8L433.9 303.9L434.9 304.3L434.1 305.2L433.3 305.9L432.4 307.2L431.9 308.4L431.8 310.5L431.2 311.5L431.2 313.5L430.5 314.2L430.4 315.8L430.1 316.0L429.9 317.4L430.5 318.6L430.6 321.7L431.0 324.2L430.7 325.5L431.2 327.0L432.5 328.5L433.7 331.8L432.8 331.5L429.7 332.0L429.0 332.3L428.4 333.9L428.8 335.1L428.4 338.2L428.0 340.8L428.6 341.3L430.2 342.3L430.9 341.8L431.0 344.6L429.2 344.6L428.3 343.2L427.5 342.0L425.8 341.7L425.3 340.3L423.8 341.1L422.0 340.8L421.3 339.6L419.8 339.3L418.7 339.4L418.6 338.6L417.8 338.5L416.8 338.4L415.4 338.8L414.4 338.7L413.8 338.9L414.0 335.8L413.2 334.9L413.1 333.3L413.5 331.7L413.0 330.7L413.0 329.0L410.2 329.1L410.4 328.1L409.2 328.1L409.1 328.6L407.7 328.7L407.1 330.2L406.7 330.9L405.4 330.5L404.7 330.9L403.2 331.1L402.3 329.7L401.8 328.9L401.1 327.3L400.6 325.4L393.8 325.3L393.0 325.6L392.3 325.6L391.4 325.9L391.0 325.1L391.6 324.8L391.7 323.7L392.1 323.0L392.9 322.5L393.5 322.7L394.3 321.7L395.6 321.8L395.7 322.5L396.6 323.0L398.0 321.3L399.3 320.1L399.9 319.2L399.8 317.1L400.8 314.5L401.9 313.2L403.4 311.9L403.7 311.1L403.7 310.2L404.1 309.2L404.0 307.8L404.3 305.5L404.7 303.8L405.4 302.4L405.5 300.9L405.7 299.0L406.6 297.7L407.8 296.9L409.7 297.8L411.2 298.7L412.9 299.0L414.6 299.5L415.3 297.9L415.6 297.7L416.7 298.0L419.2 296.7L420.1 297.2L420.9 297.1L421.2 296.5L422.1 296.3L423.8 296.6L425.3 296.6L426.0 296.3L427.5 298.5L428.5 298.8L429.1 298.4L430.2 298.5L431.5 298.0L432.0 299.1Z"/>
<path id="c-angola" fill="#74a9cf" d="M391.4 325.9L392.3 325.6L393.0 325.6L393.8 325.3L400.6 325.4L401.1 327.3L401.8 328.9L402.3 329.7L403.2 331.1L404.7 330.9L405.4 330.5L406.7 330.9L407.1 330.2L407.7 328.7L409.1 328.6L409.2 328.1L410.4 328.1L410.2 329.1L413.0 329.0L413.0 330.7L413.5 331.7L413.1 333.3L413.2 334.9L414.0 335.8L413.8 338.9L414.4 338.7L415.4 338.8L416.8 338.4L417.8 338.5L418.1 339.3L417.8 340.6L418.2 341.8L417.8 342.8L418.0 343.7L413.2 343.7L412.9 352.0L414.4 354.1L415.8 355.7L411.6 356.8L406.1 356.4L404.6 355.2L395.3 355.3L395.0 355.5L393.6 354.3L392.2 354.2L390.8 354.7L389.7 355.2L389.5 353.5L389.9 351.2L390.7 348.8L390.8 347.7L391.6 345.4L392.2 344.3L393.5 342.6L394.2 341.4L394.5 339.5L394.4 338.0L393.7 337.1L393.1 335.5L392.6 333.9L392.7 333.4L393.4 332.3L392.7 329.8L392.3 328.1L391.1 326.4ZM391.6 324.8L391.0 325.1L390.4 323.2L391.4 322.0L392.1 321.6L392.9 322.5L392.1 323.0L391.7 323.7Z"/>
<path id="c-zambia" fill="#d0d1e6" d="M438.3 334.1L439.3 335.3L439.8 337.5L439.4 338.2L438.9 340.3L439.3 342.5L438.5 343.4L437.8 345.8L438.9 346.5L431.9 348.6L432.1 350.5L430.3 350.8L429.0 351.9L428.7 352.8L427.9 353.0L425.8 355.1L424.5 356.8L423.7 356.9L423.0 356.6L420.4 356.3L420.0 356.1L420.0 355.9L419.2 355.3L417.7 355.2L415.8 355.7L414.4 354.1L412.9 352.0L413.2 343.7L418.0 343.7L417.8 342.8L418.2 341.8L417.8 340.6L418.1 339.3L417.8 338.5L418.6 338.6L418.7 339.4L419.8 339.3L421.3 339.6L422.0 340.8L423.8 341.1L425.3 340.3L425.8 341.7L427.5 342.0L428.3 343.2L429.2 344.6L431.0 344.6L430.9 341.8L430.2 342.3L428.6 341.3L428.0 340.8L428.4 338.2L428.8 335.1L428.4 333.9L429.0 332.3L429.7 332.0L432.8 331.5L433.7 331.8L434.6 332.4L435.5 332.9L437.0 333.3Z"/>
<path id="c-malawi" fill="#d0d1e6" d="M442.2 340.1L441.5 342.1L442.0 345.5L442.9 345.4L443.6 346.3L444.5 348.1L444.6 351.5L443.6 352.1L442.8 353.9L441.4 352.2L441.3 350.4L441.8 349.2L441.7 348.1L440.8 347.5L440.2 347.7L438.9 346.5L437.8 345.8L438.5 343.4L439.3 342.5L438.9 340.3L439.4 338.2L439.8 337.5L439.3 335.3L438.3 334.1L440.5 334.6L440.9 335.3L441.7 336.5Z"/>
<path id="c-mozambique" fill="#d0d1e6" d="M442.2 340.1L444.0 339.9L446.7 340.6L447.3 340.3L448.9 340.2L449.7 339.4L451.1 339.5L453.7 338.5L455.5 336.9L455.9 338.1L455.7 340.7L455.9 343.0L455.8 347.1L456.1 348.4L455.4 350.2L454.4 352.0L452.9 353.7L450.7 354.6L448.1 355.9L445.4 358.7L444.5 359.2L442.8 361.0L441.8 361.6L441.5 363.5L442.5 365.5L442.9 367.0L442.9 367.8L443.3 367.7L443.0 370.2L442.6 371.5L443.1 371.9L442.7 373.0L441.7 373.9L439.8 374.8L437.0 376.2L436.0 377.2L436.1 378.3L436.7 378.5L436.4 379.8L434.7 379.8L434.6 378.6L434.3 377.5L434.2 376.5L434.7 373.6L434.3 371.8L433.4 368.1L435.9 365.1L436.6 363.3L436.9 363.0L437.3 361.5L436.9 360.7L437.1 358.7L437.7 356.9L437.8 353.6L436.7 352.8L435.6 352.6L435.1 352.0L434.1 351.4L432.2 351.5L432.1 350.5L431.9 348.6L438.9 346.5L440.2 347.7L440.8 347.5L441.7 348.1L441.8 349.2L441.3 350.4L441.4 352.2L442.8 353.9L443.6 352.1L444.6 351.5L444.5 348.1L443.6 346.3L442.9 345.4L442.0 345.5L441.5 342.1Z"/>
<path id="c-zimbabwe" fill="#d0d1e6" d="M433.4 368.1L432.2 367.8L431.4 368.1L430.3 367.7L429.4 367.7L428.0 366.5L426.3 366.1L425.7 364.4L425.7 363.5L424.8 363.2L422.3 360.4L421.7 358.8L421.3 358.4L420.4 356.3L423.0 356.6L423.7 356.9L424.5 356.8L425.8 355.1L427.9 353.0L428.7 352.8L429.0 351.9L430.3 350.8L432.1 350.5L432.2 351.5L434.1 351.4L435.1 352.0L435.6 352.6L436.7 352.8L437.8 353.6L437.7 356.9L437.1 358.7L436.9 360.7L437.3 361.5L436.9 363.0L436.6 363.3L435.9 365.1Z"/>
<path id="c-botswana" fill="#d0d1e6" d="M429.4 367.7L426.1 369.6L424.0 371.5L423.2 373.3L422.5 374.3L421.2 374.5L420.8 375.7L420.5 376.6L419.1 377.2L417.2 377.0L416.2 376.3L415.3 376.0L414.1 376.6L413.6 377.8L412.5 378.6L411.3 379.8L409.7 380.0L409.2 379.1L409.5 377.5L408.3 375.1L407.7 374.7L407.9 367.0L410.1 366.9L410.5 357.6L412.2 357.6L415.7 356.7L416.6 357.7L418.1 356.7L418.7 356.7L420.0 356.1L420.4 356.3L421.3 358.4L421.7 358.8L422.3 360.4L424.8 363.2L425.7 363.5L425.7 364.4L426.3 366.1L428.0 366.5Z"/>
<path id="c-namibia" fill="#d0d1e6" d="M399.3 384.6L397.8 382.6L397.0 380.7L396.5 378.2L396.0 376.3L395.4 372.3L395.4 369.2L395.2 367.7L394.3 366.7L393.2 364.5L392.1 361.4L390.8 357.8L389.7 355.2L390.8 354.7L392.2 354.2L393.6 354.3L395.0 355.5L395.3 355.3L404.6 355.2L406.1 356.4L411.6 356.8L415.8 355.7L417.7 355.2L419.2 355.3L420.0 355.9L420.0 356.1L418.7 356.7L418.1 356.7L416.6 357.7L415.7 356.7L412.2 357.6L410.5 357.6L410.1 366.9L407.9 367.0L407.7 374.7L407.2 384.3L405.2 385.6L404.0 385.8L402.6 385.3L401.6 385.1L401.3 384.0L400.5 383.3Z"/>
<path id="c-south-africa" fill="#74a9cf" d="M399.3 384.6L400.5 383.3L401.3 384.0L401.6 385.1L402.6 385.3L404.0 385.8L405.2 385.6L407.2 384.3L407.7 374.7L408.3 375.1L409.5 377.5L409.2 379.1L409.7 380.0L411.3 379.8L412.5 378.6L413.6 377.8L414.1 376.6L415.3 376.0L416.2 376.3L417.2 377.0L419.1 377.2L420.5 376.6L420.8 375.7L421.2 374.5L422.5 374.3L423.2 373.3L424.0 371.5L426.1 369.6L429.4 367.7L430.3 367.7L431.4 368.1L432.2 367.8L433.4 368.1L434.3 371.8L434.7 373.6L434.2 376.5L434.3 377.5L433.2 377.0L432.5 377.2L432.3 377.9L431.6 378.9L431.6 379.8L432.8 381.3L434.1 381.0L434.7 379.8L436.4 379.8L435.7 381.7L435.2 383.9L434.6 385.1L432.9 386.4L432.5 386.8L431.4 388.1L430.7 389.4L429.3 391.3L426.6 394.0L424.9 395.6L423.1 396.8L420.8 397.8L419.6 397.9L419.3 398.6L418.0 398.2L416.9 398.7L414.5 398.2L413.2 398.6L412.3 398.4L410.0 399.4L408.1 399.9L406.7 400.9L405.7 400.9L404.8 400.0L404.1 399.9L403.2 398.8L403.1 399.1L402.8 398.4L402.9 396.9L402.3 395.1L403.1 394.7L403.1 392.7L401.8 390.2L400.8 388.0L400.8 388.0L399.3 384.6ZM427.4 385.6L428.1 386.4L427.3 387.6L426.9 388.5L425.6 388.9L425.1 389.8L424.3 390.0L422.8 388.0L424.1 386.3L425.4 385.3L426.4 384.8Z"/>
<path id="c-lesotho" fill="#fff7fb" d="M427.4 385.6L428.1 386.4L427.3 387.6L426.9 388.5L425.6 388.9L425.1 389.8L424.3 390.0L422.8 388.0L424.1 386.3L425.4 385.3L426.4 384.8Z"/>
<path id="c-eswatini" fill="#ece7f2" d="M434.7 379.8L434.1 381.0L432.8 381.3L431.6 379.8L431.6 378.9L432.3 377.9L432.5 377.2L433.2 377.0L434.3 377.5L434.6 378.6Z"/>
<path id="c-madagascar" fill="#d0d1e6" d="M476.5 342.6L477.0 343.7L477.5 345.4L477.7 348.5L478.2 349.8L477.9 351.0L477.5 351.8L476.8 350.2L476.3 351.0L476.6 352.9L476.3 354.1L475.7 354.7L475.4 356.9L474.3 359.9L472.9 363.5L471.1 368.5L470.0 372.1L468.7 375.1L466.8 375.7L464.8 376.8L463.5 376.2L461.8 375.2L461.3 373.9L461.3 371.5L460.7 369.5L460.6 367.6L461.1 365.7L462.2 365.2L462.3 364.4L463.5 362.4L463.8 360.8L463.4 359.5L463.1 357.9L463.0 355.5L463.9 354.0L464.3 352.3L465.4 352.2L466.7 351.7L467.6 351.2L468.6 351.2L470.0 349.7L472.0 348.1L472.7 346.8L472.5 345.7L473.4 346.0L474.8 344.2L474.9 342.6L475.7 341.4Z"/>
<path id="c-russia" fill="#0570b0" d="M649.0 178.1L654.5 182.5L650.9 181.7L652.5 185.4L656.3 188.0L657.6 189.8L654.9 188.2L655.0 190.2L653.1 188.1L651.5 185.6L649.2 182.9L648.3 180.9L645.7 177.6L642.4 175.1L639.7 171.7L640.5 170.5L638.6 169.4L639.2 169.0L641.2 170.7L644.0 173.1L646.1 175.5ZM407.0 169.1L403.5 169.2L401.0 168.9L401.3 167.8L403.9 167.0L406.0 167.4L406.9 167.8L406.8 168.5ZM61.5 140.0L61.9 140.5L63.8 138.9L68.0 139.3L68.4 141.4L65.3 142.4L62.1 142.6L58.9 144.8L57.6 145.3L56.0 145.3L55.8 144.5L54.4 143.8L55.4 142.8L54.2 142.4L51.8 142.7L52.0 141.9L53.6 141.1L50.7 141.6L49.9 142.7L47.6 143.6L61.1 134.7L62.6 136.4L63.7 138.6ZM67.7 130.6L70.2 129.1L70.6 129.0L72.0 129.0L73.2 129.7L72.6 130.0L70.1 130.5ZM658.3 130.6L656.7 130.7L655.2 130.0L655.8 129.1ZM446.2 128.1L447.6 127.6L446.9 126.5L449.1 124.7L447.5 124.4L450.2 122.6L449.3 121.7L452.1 120.6L456.2 119.4L461.0 119.0L463.0 118.3L465.8 118.0L467.5 118.8L466.9 119.4L462.3 120.4L458.2 121.3L454.7 123.3L453.5 125.3L452.2 127.3L453.4 129.1L457.5 130.8L456.6 131.0L451.1 130.8L450.2 129.8L447.0 129.2ZM509.0 114.3L506.1 114.5L501.4 114.0L498.0 113.3L495.3 112.0L492.9 111.6L495.2 110.5L497.7 110.1L501.6 110.9L507.1 112.6ZM512.2 113.5L517.4 114.6L518.0 115.4L510.6 116.1L510.1 113.6L511.0 113.4ZM574.9 119.6L579.1 119.7L586.4 120.7L587.6 122.2L581.8 122.2L579.9 122.6L574.9 121.3L573.5 119.9ZM588.6 120.8L592.0 121.1L596.8 121.7L596.3 122.5L593.5 122.3L589.3 121.5ZM587.1 124.2L590.5 125.0L591.5 125.6L589.1 125.6L585.5 125.3L585.1 125.2L585.4 124.4ZM433.6 110.6L436.0 111.0L435.6 111.3L433.9 111.5L432.7 111.6L432.7 111.9L431.2 112.2L429.4 111.8L429.8 111.2L426.7 111.2L429.2 110.9L431.4 110.9L432.0 111.3L432.5 110.9ZM414.8 133.4L416.3 132.6L419.4 133.9L424.2 134.5L431.4 137.0L433.1 138.0L433.7 139.5L432.2 140.7L429.5 141.3L421.3 139.6L420.1 139.9L423.4 141.5L423.8 142.6L424.6 145.0L427.1 145.7L428.6 146.3L428.5 145.1L427.2 144.2L428.0 143.3L432.7 144.7L434.0 144.2L432.3 142.5L435.6 140.2L437.2 140.4L439.1 141.2L439.6 139.6L437.6 138.3L438.0 136.9L436.2 135.5L441.2 136.3L442.7 137.5L440.6 137.8L441.1 139.0L442.8 139.8L445.2 139.3L445.1 137.9L448.2 136.8L453.2 134.9L454.5 135.0L453.5 136.4L455.7 136.6L456.6 135.8L459.7 135.8L461.7 134.9L464.3 136.2L465.5 134.7L463.0 133.5L463.5 132.7L468.8 133.4L471.5 134.1L479.1 136.6L479.5 135.4L477.1 134.3L476.8 133.8L474.6 133.6L474.6 132.6L472.6 130.9L472.1 130.2L473.9 128.2L473.7 126.3L474.5 125.9L479.2 126.5L480.4 127.6L480.0 129.4L481.5 130.0L483.1 131.6L484.6 134.6L487.4 135.9L487.6 137.4L486.1 140.6L488.3 140.9L488.5 140.1L490.1 139.5L489.8 138.4L490.6 137.4L488.8 136.1L488.7 134.6L486.7 134.4L485.5 133.2L485.4 131.0L482.0 129.3L483.9 127.8L482.4 126.3L483.2 126.3L484.9 127.5L485.7 129.5L487.8 129.9L485.9 128.4L488.0 127.5L491.2 127.4L495.2 128.6L492.3 126.9L490.4 124.6L492.8 124.2L496.6 124.3L499.8 124.0L497.6 123.0L498.1 121.6L499.8 121.6L501.8 120.6L505.6 120.3L505.5 119.7L509.3 119.6L511.1 120.0L513.3 119.0L516.1 119.0L515.6 118.2L515.9 117.3L518.5 116.5L521.9 117.2L520.4 117.6L524.2 117.9L525.9 118.9L526.6 118.4L531.1 118.4L535.8 119.4L538.0 120.1L539.0 121.2L538.0 121.8L535.3 122.9L534.8 123.5L537.1 123.8L540.0 124.3L541.0 123.9L543.3 125.3L543.4 124.8L545.6 124.4L551.0 124.8L552.6 125.7L559.7 126.1L557.7 124.4L561.6 124.8L564.1 124.8L568.1 125.9L570.6 127.3L570.7 128.1L574.9 129.8L578.5 130.7L577.2 128.4L581.1 129.4L583.1 128.8L587.1 129.5L587.5 128.9L590.6 129.2L586.7 127.2L587.6 126.3L604.1 127.7L607.3 128.9L613.9 130.6L620.0 130.2L623.7 130.5L626.4 131.4L628.6 133.0L631.5 133.6L633.1 133.2L635.9 133.1L639.7 133.6L642.5 133.3L648.3 135.3L649.4 134.6L645.9 133.2L645.2 132.2L651.4 132.8L654.6 132.7L661.1 133.7L664.9 134.7L678.4 143.6L678.5 143.7L675.1 144.5L678.4 145.7L682.2 147.7L683.9 148.3L685.4 149.2L685.8 149.9L681.8 149.4L679.1 151.1L677.9 151.4L677.2 153.1L676.4 154.5L677.1 155.6L672.4 154.0L669.9 155.8L668.0 154.9L667.5 156.0L664.6 155.6L665.9 157.2L666.4 159.6L667.5 160.5L670.3 161.1L674.0 164.6L672.3 164.7L673.6 166.8L675.6 167.8L673.5 169.1L675.7 171.9L673.4 172.5L675.3 175.1L674.6 177.4L672.3 175.7L668.0 172.0L661.4 166.5L658.8 163.1L658.8 161.7L657.7 160.6L660.0 160.0L659.9 157.0L660.2 154.5L661.2 152.6L658.5 149.3L656.6 149.5L657.9 151.4L656.4 154.0L651.4 151.1L647.7 151.9L647.7 155.9L650.9 157.4L647.4 158.0L644.8 158.3L643.1 156.5L639.8 156.1L638.8 157.3L632.6 156.9L627.3 157.6L625.9 162.4L623.8 168.1L627.1 168.5L629.4 170.0L631.8 170.5L632.0 169.3L634.2 169.5L639.5 172.2L641.4 174.3L641.9 176.8L644.2 179.8L646.3 183.9L645.9 187.6L646.4 189.3L645.6 192.3L644.8 195.3L644.4 196.8L642.6 198.3L641.3 198.4L639.2 197.1L637.6 199.0L637.7 199.9L637.2 199.4L636.4 198.1L637.4 198.0L635.8 195.0L633.9 192.8L635.1 191.9L637.9 192.3L637.6 189.8L636.4 187.0L636.6 186.1L636.1 183.8L633.2 184.6L632.2 185.6L629.1 185.6L626.6 183.2L623.0 181.4L619.0 180.6L616.4 178.1L614.6 176.6L613.1 175.5L609.9 173.0L607.5 172.0L604.0 171.3L601.5 171.4L599.4 171.8L598.7 173.1L600.2 173.6L601.2 175.0L600.7 175.8L600.8 178.5L601.5 179.6L599.7 181.2L596.7 180.2L594.5 180.4L592.9 179.6L591.5 179.3L589.7 181.1L587.3 181.5L585.8 182.2L583.0 181.8L581.2 181.8L579.2 180.5L576.5 179.3L574.3 178.9L572.0 179.3L570.4 179.7L566.9 178.7L565.5 176.8L562.7 176.1L560.8 175.9L557.9 174.8L557.4 177.4L559.0 178.9L558.0 180.6L554.8 180.0L552.8 179.9L550.8 178.8L548.7 178.7L546.6 177.9L544.1 179.1L541.4 181.3L539.5 181.7L538.8 182.0L537.0 180.4L534.6 180.7L533.2 179.7L531.6 179.2L530.0 177.7L528.6 177.3L526.1 177.9L522.7 176.5L522.2 177.8L514.8 171.4L511.4 169.5L511.7 168.7L508.0 171.1L506.2 171.2L505.7 169.9L502.8 169.0L501.1 169.6L499.3 167.1L495.6 166.5L494.3 167.6L489.9 168.5L489.2 169.1L482.3 169.9L481.7 170.8L483.8 172.5L482.2 173.1L482.8 173.8L481.3 175.0L485.2 176.8L485.1 177.9L482.2 177.8L481.9 178.6L478.9 177.3L475.8 177.3L474.0 178.4L471.3 177.4L466.4 175.6L463.4 175.7L460.1 178.4L460.3 180.3L457.9 178.8L457.0 181.6L457.7 182.1L457.0 184.0L459.2 185.8L460.7 185.7L462.4 187.4L462.5 188.7L463.6 189.1L463.1 190.6L461.2 191.1L459.7 193.7L462.2 196.1L462.3 197.9L465.3 200.9L464.3 202.0L464.0 202.6L463.1 202.4L461.3 200.9L460.7 200.8L459.2 200.2L458.4 199.1L456.3 198.6L455.1 199.0L454.7 198.5L451.5 197.3L448.4 196.9L446.6 196.4L446.4 196.7L443.3 194.6L440.8 193.6L438.7 192.1L440.1 191.7L441.4 189.5L440.1 188.5L442.9 187.5L442.7 186.9L441.0 187.3L440.8 186.2L441.7 185.5L443.7 185.3L443.8 184.5L443.1 183.1L443.6 181.7L443.4 181.0L440.3 180.1L439.1 180.2L437.6 179.0L436.2 179.4L433.5 178.5L433.4 178.0L432.5 176.9L430.9 176.8L430.6 176.0L431.0 175.5L429.4 174.1L427.4 174.3L426.8 174.2L426.4 174.8L425.7 174.7L424.9 173.1L424.3 172.3L424.6 172.0L426.2 172.1L426.8 171.6L426.1 170.9L424.7 170.5L424.7 170.0L423.9 169.6L422.3 167.9L422.6 167.3L422.2 166.1L420.2 165.5L419.2 165.8L418.9 165.2L416.7 164.6L415.9 163.2L415.5 162.0L414.5 161.4L415.1 160.7L414.1 158.4L415.2 157.0L414.8 156.6L416.6 155.3L414.5 154.1L417.7 151.1L419.1 149.7L419.5 148.5L416.4 147.0L416.8 145.4L414.8 143.7L415.5 141.7L412.8 139.2L414.0 137.5L411.1 136.0L410.9 134.5L412.2 134.2Z"/>
<path id="c-kazakhstan" fill="#74a9cf" d="M512.0 199.7L511.0 200.2L508.8 202.0L508.4 203.9L507.6 203.9L506.7 202.7L503.9 202.6L502.9 200.5L501.9 200.5L501.3 197.9L498.2 196.0L494.7 196.2L492.3 196.6L489.7 194.2L487.7 193.3L483.9 191.4L483.5 191.2L478.6 192.7L481.2 202.2L480.1 202.3L478.1 200.3L476.5 199.6L474.3 200.1L473.6 201.0L473.3 200.4L473.6 199.3L472.9 198.4L470.3 197.5L468.8 195.2L467.5 194.6L467.2 193.7L469.3 194.0L468.9 192.1L470.6 191.6L472.5 192.0L472.2 189.6L471.4 188.0L469.4 188.1L467.5 187.5L465.4 188.6L463.6 189.1L462.5 188.7L462.4 187.4L460.7 185.7L459.2 185.8L457.0 184.0L457.7 182.1L457.0 181.6L457.9 178.8L460.3 180.3L460.1 178.4L463.4 175.7L466.4 175.6L471.3 177.4L474.0 178.4L475.8 177.3L478.9 177.3L481.9 178.6L482.2 177.8L485.1 177.9L485.2 176.8L481.3 175.0L482.8 173.8L482.2 173.1L483.8 172.5L481.7 170.8L482.3 169.9L489.2 169.1L489.9 168.5L494.3 167.6L495.6 166.5L499.3 167.1L501.1 169.6L502.8 169.0L505.7 169.9L506.2 171.2L508.0 171.1L511.7 168.7L511.4 169.5L514.8 171.4L522.2 177.8L522.7 176.5L526.1 177.9L528.6 177.3L530.0 177.7L531.6 179.2L533.2 179.7L534.6 180.7L537.0 180.4L538.8 182.0L538.0 183.6L536.5 183.9L537.5 186.4L536.9 187.6L532.5 186.7L532.9 191.3L532.1 191.9L528.4 192.9L532.0 197.4L530.8 198.1L531.5 199.5L530.0 199.1L528.7 198.2L525.5 198.0L522.0 197.9L521.3 198.2L517.9 197.1L517.0 197.6L517.1 199.1L513.4 198.2L512.2 198.6Z"/>
<path id="c-uzbekistan" fill="#74a9cf" d="M481.2 202.2L478.6 192.7L483.5 191.2L483.9 191.4L487.7 193.3L489.7 194.2L492.3 196.6L494.7 196.2L498.2 196.0L501.3 197.9L501.9 200.5L502.9 200.5L503.9 202.6L506.7 202.7L507.6 203.9L508.4 203.9L508.8 202.0L511.0 200.2L512.0 199.7L512.7 200.0L511.5 201.7L513.4 202.7L514.7 202.0L517.6 203.4L515.4 205.2L513.7 205.0L512.9 205.0L512.4 204.3L512.5 203.1L509.8 203.7L509.6 205.4L509.0 206.8L507.2 206.7L507.0 207.8L508.7 208.5L509.7 210.4L509.1 213.0L507.4 212.5L506.2 212.5L505.8 210.9L502.7 209.8L500.1 208.5L498.4 207.3L495.5 205.5L493.8 202.8L493.0 202.3L490.7 202.4L489.8 201.9L489.0 199.9L485.8 198.5L484.4 200.0L482.9 200.9L483.5 202.2Z"/>
<path id="c-turkmenistan" fill="#a6bddb" d="M473.6 201.0L474.3 200.1L476.5 199.6L478.1 200.3L480.1 202.3L481.2 202.2L483.5 202.2L482.9 200.9L484.4 200.0L485.8 198.5L489.0 199.9L489.8 201.9L490.7 202.4L493.0 202.3L493.8 202.8L495.5 205.5L498.4 207.3L500.1 208.5L502.7 209.8L505.8 210.9L506.2 212.5L505.5 212.4L504.3 211.7L504.2 212.6L502.5 213.1L502.6 215.2L501.5 216.0L499.9 216.4L499.7 217.6L498.1 217.9L495.7 216.9L495.1 214.7L493.4 214.6L490.5 212.3L488.7 212.1L486.0 210.7L484.4 210.5L483.6 211.0L482.1 210.9L480.9 212.4L479.1 212.9L478.4 211.0L478.1 208.3L476.3 207.5L476.4 205.7L475.0 205.5L475.0 203.3L477.1 204.0L478.8 203.1L476.9 201.6L475.9 200.1L474.4 200.8Z"/>
<path id="c-kyrgyzstan" fill="#d0d1e6" d="M512.0 199.7L512.2 198.6L513.4 198.2L517.1 199.1L517.0 197.6L517.9 197.1L521.3 198.2L522.0 197.9L525.5 198.0L528.7 198.2L530.0 199.1L531.5 199.5L531.4 200.1L528.6 201.5L528.2 202.5L525.6 202.8L525.3 204.5L523.0 204.2L521.6 204.6L520.0 205.9L520.5 206.5L520.0 207.1L516.1 207.5L513.3 206.6L511.0 206.8L510.8 205.3L513.2 205.8L513.7 205.0L515.4 205.2L517.6 203.4L514.7 202.0L513.4 202.7L511.5 201.7L512.7 200.0Z"/>
<path id="c-tajikistan" fill="#d0d1e6" d="M513.7 205.0L513.2 205.8L510.8 205.3L511.0 206.8L513.3 206.6L516.1 207.5L520.0 207.1L521.3 209.5L521.9 209.2L523.4 209.8L523.6 210.8L524.3 212.3L522.1 212.3L520.6 212.1L519.6 213.3L518.7 213.5L518.0 214.1L517.0 213.2L516.6 211.0L515.9 210.9L515.9 210.1L514.6 209.5L513.9 210.4L514.0 211.5L513.8 211.9L512.5 211.8L512.1 213.0L511.2 212.5L509.9 213.4L509.1 213.0L509.7 210.4L508.7 208.5L507.0 207.8L507.2 206.7L509.0 206.8L509.6 205.4L509.8 203.7L512.5 203.1L512.4 204.3L512.9 205.0Z"/>
<path id="c-afghanistan" fill="#d0d1e6" d="M495.7 216.9L498.1 217.9L499.7 217.6L499.9 216.4L501.5 216.0L502.6 215.2L502.5 213.1L504.2 212.6L504.3 211.7L505.5 212.4L506.2 212.5L507.4 212.5L509.1 213.0L509.9 213.4L511.2 212.5L512.1 213.0L512.5 211.8L513.8 211.9L514.0 211.5L513.9 210.4L514.6 209.5L515.9 210.1L515.9 210.9L516.6 211.0L517.0 213.2L518.0 214.1L518.7 213.5L519.6 213.3L520.6 212.1L522.1 212.3L524.3 212.3L524.9 213.1L523.8 213.4L522.8 213.8L520.4 214.1L518.2 214.7L517.2 215.8L518.0 216.9L518.6 218.2L517.8 219.3L518.1 220.3L517.7 221.3L515.6 221.2L516.9 222.9L515.7 223.6L515.1 225.1L515.5 226.7L514.8 227.4L513.9 227.2L512.3 227.5L512.2 228.3L510.6 228.3L509.6 229.7L510.0 232.0L507.3 233.1L505.7 232.8L505.3 233.4L503.9 233.1L501.8 233.4L497.8 232.1L499.5 229.7L499.0 228.1L497.2 227.6L496.8 226.0L495.7 223.9L496.3 222.5L495.3 222.1L495.5 220.2Z"/>
<path id="c-pakistan" fill="#3690c0" d="M524.9 213.1L526.9 214.3L528.0 216.3L531.9 217.3L530.4 219.5L528.1 219.9L524.6 219.3L523.8 220.4L525.1 222.7L526.3 224.5L528.4 225.7L526.8 227.3L527.2 229.1L525.6 231.7L524.7 234.4L522.9 237.1L520.3 236.9L518.2 239.7L519.9 240.8L520.4 242.8L521.9 244.2L522.6 246.4L517.7 246.4L516.4 248.1L514.7 247.5L513.8 245.6L511.8 243.6L507.7 244.1L504.1 244.2L501.0 244.5L501.4 241.5L504.5 240.1L504.1 238.9L503.0 238.5L502.6 236.2L500.3 235.1L499.2 233.5L497.8 232.1L501.8 233.4L503.9 233.1L505.3 233.4L505.7 232.8L507.3 233.1L510.0 232.0L509.6 229.7L510.6 228.3L512.2 228.3L512.3 227.5L513.9 227.2L514.8 227.4L515.5 226.7L515.1 225.1L515.7 223.6L516.9 222.9L515.6 221.2L517.7 221.3L518.1 220.3L517.8 219.3L518.6 218.2L518.0 216.9L517.2 215.8L518.2 214.7L520.4 214.1L522.8 213.8L523.8 213.4Z"/>
<path id="c-india" fill="#034e7b" d="M531.9 217.3L535.0 220.4L535.4 222.5L536.6 223.9L536.8 225.2L535.2 224.8L536.5 227.7L539.0 229.4L542.5 231.2L541.3 232.4L541.0 234.8L543.3 235.8L545.7 237.1L548.8 238.6L552.0 238.9L553.5 240.2L555.3 240.5L558.1 241.1L559.9 241.0L560.0 240.0L559.4 238.3L559.3 237.2L560.6 236.7L561.2 238.7L561.3 239.2L563.5 240.2L564.9 239.8L566.8 240.0L568.6 239.9L568.4 238.3L567.4 237.5L569.1 237.2L570.7 235.2L572.8 233.6L574.8 234.2L576.2 233.1L577.6 234.7L577.1 235.8L579.6 236.2L580.0 237.2L579.3 237.7L579.9 239.3L578.2 238.8L575.6 240.6L576.0 242.1L575.2 244.3L575.3 245.6L574.7 247.7L572.8 247.1L573.2 249.8L572.8 250.7L573.2 251.8L572.2 252.5L570.4 248.3L569.7 248.3L569.6 250.0L568.2 248.6L568.6 247.2L569.6 247.0L570.3 244.8L568.9 244.3L566.9 244.4L564.7 244.0L564.1 242.2L563.1 242.1L561.0 240.9L560.6 242.7L562.5 244.1L561.2 245.1L560.9 246.0L562.4 246.7L562.2 248.3L563.3 250.3L563.9 252.4L563.8 253.4L562.2 253.3L559.5 253.9L559.9 255.9L558.9 257.4L555.9 259.1L553.7 262.2L552.2 263.9L550.1 265.6L550.2 266.8L549.2 267.4L547.2 268.4L546.2 268.5L545.7 270.5L546.5 273.9L546.8 276.0L546.0 278.5L546.3 283.0L545.1 283.1L544.2 285.1L544.9 285.9L542.9 286.7L542.2 288.5L541.3 289.2L539.0 286.8L537.7 283.1L536.7 280.5L535.8 279.2L534.4 276.7L533.6 273.5L533.0 271.8L530.7 268.3L529.2 263.2L528.2 259.8L527.8 256.7L527.1 254.2L524.0 255.8L522.4 255.5L519.1 252.3L520.1 251.4L519.3 250.4L516.4 248.1L517.7 246.4L522.6 246.4L521.9 244.2L520.4 242.8L519.9 240.8L518.2 239.7L520.3 236.9L522.9 237.1L524.7 234.4L525.6 231.7L527.2 229.1L526.8 227.3L528.4 225.7L526.3 224.5L525.1 222.7L523.8 220.4L524.6 219.3L528.1 219.9L530.4 219.5Z"/>
<path id="c-nepal" fill="#a6bddb" d="M559.3 237.2L559.4 238.3L560.0 240.0L559.9 241.0L558.1 241.1L555.3 240.5L553.5 240.2L552.0 238.9L548.8 238.6L545.7 237.1L543.3 235.8L541.0 234.8L541.3 232.4L542.5 231.2L543.3 230.6L545.2 231.4L547.8 233.1L549.1 233.4L550.1 234.7L552.0 235.2L554.0 236.4L556.7 237.0Z"/>
<path id="c-bhutan" fill="#fff7fb" d="M567.4 237.5L568.4 238.3L568.6 239.9L566.8 240.0L564.9 239.8L563.5 240.2L561.3 239.2L561.2 238.7L562.3 236.8L563.3 236.1L565.0 236.7L566.2 236.8Z"/>
<path id="c-bangladesh" fill="#3690c0" d="M572.2 252.5L572.4 254.3L571.5 253.9L572.0 256.0L571.1 254.7L570.8 253.3L570.2 252.1L569.1 250.6L567.0 250.4L567.3 251.5L566.8 253.0L565.8 252.5L565.5 252.9L564.8 252.6L563.9 252.4L563.3 250.3L562.2 248.3L562.4 246.7L560.9 246.0L561.2 245.1L562.5 244.1L560.6 242.7L561.0 240.9L563.1 242.1L564.1 242.2L564.7 244.0L566.9 244.4L568.9 244.3L570.3 244.8L569.6 247.0L568.6 247.2L568.2 248.6L569.6 250.0L569.7 248.3L570.4 248.3Z"/>
<path id="c-sri-lanka" fill="#74a9cf" d="M551.1 290.4L550.9 293.1L549.9 293.8L548.0 294.4L546.8 292.4L546.2 288.6L547.0 284.4L548.7 285.8L549.8 287.7Z"/>
<path id="c-mongolia" fill="#d0d1e6" d="M539.5 181.7L541.4 181.3L544.1 179.1L546.6 177.9L548.7 178.7L550.8 178.8L552.8 179.9L554.8 180.0L558.0 180.6L559.0 178.9L557.4 177.4L557.9 174.8L560.8 175.9L562.7 176.1L565.5 176.8L566.9 178.7L570.4 179.7L572.0 179.3L574.3 178.9L576.5 179.3L579.2 180.5L581.2 181.8L583.0 181.8L585.8 182.2L587.3 181.5L589.7 181.1L591.5 179.3L592.9 179.6L594.5 180.4L596.7 180.2L596.9 182.2L597.1 184.7L598.2 185.7L599.2 185.4L601.4 185.8L602.4 184.9L604.5 185.7L607.4 187.5L607.8 188.4L606.0 188.1L603.2 188.4L602.2 189.1L601.7 190.8L599.1 191.8L597.8 193.2L595.4 192.7L594.1 192.4L593.9 194.1L595.1 195.1L595.9 195.9L594.9 196.8L594.1 198.2L592.1 199.1L589.0 199.2L586.1 200.1L584.2 201.5L582.9 200.7L580.4 200.7L576.6 199.1L574.3 198.7L571.7 199.1L567.1 198.5L564.8 198.5L562.9 197.0L560.9 194.7L559.5 194.4L556.2 192.8L553.3 192.4L550.7 192.0L549.4 190.9L548.9 187.9L546.5 185.8L543.2 184.9L540.8 183.5Z"/>
<path id="c-china" fill="#034e7b" d="M613.5 261.2L611.8 262.5L609.8 261.7L609.4 259.4L610.3 258.3L612.6 257.5L613.9 257.6L614.6 258.6ZM619.0 180.6L623.0 181.4L626.6 183.2L629.1 185.6L632.2 185.6L633.2 184.6L636.1 183.8L636.6 186.1L636.4 187.0L637.6 189.8L637.9 192.3L635.1 191.9L633.9 192.8L635.8 195.0L637.4 198.0L636.4 198.1L637.2 199.4L634.9 197.9L635.0 199.3L632.3 200.5L633.4 201.8L631.6 201.7L630.1 200.9L629.7 202.7L628.1 204.1L627.2 205.8L624.6 206.5L623.6 207.8L621.7 208.5L622.3 207.3L621.3 206.3L622.1 204.5L620.3 203.1L618.9 204.1L617.4 205.9L616.9 207.6L614.9 207.7L614.3 208.9L616.3 210.7L618.2 211.1L618.8 212.2L620.9 213.0L622.4 211.1L624.8 212.2L626.2 212.2L627.2 213.6L624.5 214.3L624.1 215.7L622.5 217.0L622.1 218.9L625.1 220.3L626.9 222.8L629.2 225.3L631.4 227.3L632.0 229.2L630.9 229.9L631.9 231.3L633.5 232.1L633.8 234.2L633.8 236.3L632.7 236.5L631.8 239.4L630.9 242.8L629.5 245.9L626.9 248.3L624.2 250.5L621.7 250.8L620.6 252.0L619.6 251.1L618.6 252.4L615.7 253.7L613.3 254.1L613.0 256.9L611.8 257.1L610.9 255.1L611.2 254.1L608.1 253.3L607.1 253.7L604.7 253.1L603.4 252.0L603.6 250.5L601.4 250.0L600.1 249.0L598.5 250.4L596.3 250.7L594.5 250.7L593.4 251.4L592.3 251.7L593.1 254.7L591.9 254.6L591.6 254.0L591.4 253.0L589.8 253.7L588.8 253.2L587.0 252.2L587.3 250.1L585.8 249.6L584.8 247.2L582.5 247.6L582.2 244.5L583.9 242.3L583.6 240.2L583.1 238.2L582.0 237.5L580.8 236.0L579.6 236.2L577.1 235.8L577.6 234.7L576.2 233.1L574.8 234.2L572.8 233.6L570.7 235.2L569.1 237.2L567.4 237.5L566.2 236.8L565.0 236.7L563.3 236.1L562.3 236.8L561.2 238.7L560.6 236.7L559.3 237.2L556.7 237.0L554.0 236.4L552.0 235.2L550.1 234.7L549.1 233.4L547.8 233.1L545.2 231.4L543.3 230.6L542.5 231.2L539.0 229.4L536.5 227.7L535.2 224.8L536.8 225.2L536.6 223.9L535.4 222.5L535.0 220.4L531.9 217.3L528.0 216.3L526.9 214.3L524.9 213.1L524.3 212.3L523.6 210.8L523.4 209.8L521.9 209.2L521.3 209.5L520.0 207.1L520.5 206.5L520.0 205.9L521.6 204.6L523.0 204.2L525.3 204.5L525.6 202.8L528.2 202.5L528.6 201.5L531.4 200.1L531.5 199.5L530.8 198.1L532.0 197.4L528.4 192.9L532.1 191.9L532.9 191.3L532.5 186.7L536.9 187.6L537.5 186.4L536.5 183.9L538.0 183.6L538.8 182.0L539.5 181.7L540.8 183.5L543.2 184.9L546.5 185.8L548.9 187.9L549.4 190.9L550.7 192.0L553.3 192.4L556.2 192.8L559.5 194.4L560.9 194.7L562.9 197.0L564.8 198.5L567.1 198.5L571.7 199.1L574.3 198.7L576.6 199.1L580.4 200.7L582.9 200.7L584.2 201.5L586.1 200.1L589.0 199.2L592.1 199.1L594.1 198.2L594.9 196.8L595.9 195.9L595.1 195.1L593.9 194.1L594.1 192.4L595.4 192.7L597.8 193.2L599.1 191.8L601.7 190.8L602.2 189.1L603.2 188.4L606.0 188.1L607.8 188.4L607.4 187.5L604.5 185.7L602.4 184.9L601.4 185.8L599.2 185.4L598.2 185.7L597.1 184.7L596.9 182.2L596.7 180.2L599.7 181.2L601.5 179.6L600.8 178.5L600.7 175.8L601.2 175.0L600.2 173.6L598.7 173.1L599.4 171.8L601.5 171.4L604.0 171.3L607.5 172.0L609.9 173.0L613.1 175.5L614.6 176.6L616.4 178.1Z"/>
<path id="c-south-korea" fill="#3690c0" d="M637.7 209.2L641.0 212.3L642.4 214.0L643.8 217.0L643.6 218.4L641.8 218.9L640.6 220.0L638.7 220.2L637.8 218.8L637.4 216.8L635.2 214.1L636.6 213.7L634.1 211.5L634.1 211.2L635.1 211.3L635.4 210.1L636.8 210.0L637.7 209.8Z"/>
<path id="c-japan" fill="#0570b0" d="M656.7 220.8L657.4 221.7L656.9 223.3L655.6 222.5L654.7 223.1L654.8 224.6L653.1 223.9L652.6 222.6L653.1 221.1L654.5 221.4L654.9 220.3ZM666.7 213.0L667.0 215.1L668.0 216.4L667.8 218.3L665.6 219.5L661.8 219.6L660.0 222.6L658.1 221.6L657.2 219.7L653.6 220.2L651.6 221.5L649.1 221.5L652.1 223.5L652.4 227.9L651.4 229.0L649.9 228.0L649.6 225.6L647.9 224.9L646.3 223.1L648.0 222.3L648.4 220.6L650.0 219.3L650.8 217.5L654.8 216.7L657.3 217.2L657.3 212.6L659.4 213.9L661.2 211.2L661.9 210.2L661.5 207.1L659.5 204.2L659.4 202.5L661.3 202.0L664.6 205.6L665.8 207.7ZM661.9 194.8L663.8 195.4L664.5 194.3L667.0 197.2L664.3 197.9L664.1 200.4L659.7 198.7L660.4 201.5L658.1 201.5L656.2 199.0L655.9 197.0L658.0 196.8L656.2 193.3L655.5 191.3L659.7 194.0Z"/>
<path id="c-myanmar" fill="#a6bddb" d="M588.4 257.3L587.3 258.4L585.7 258.5L585.1 261.4L584.2 261.8L585.6 264.1L587.3 266.0L588.4 267.8L587.9 270.0L587.2 270.5L587.9 271.8L589.6 273.9L590.0 275.4L590.1 276.6L591.2 279.0L590.2 281.4L589.3 284.1L588.9 282.1L589.4 280.1L588.5 278.6L588.4 275.7L587.4 274.4L586.3 271.3L585.5 268.0L584.2 265.8L582.9 267.1L580.5 269.0L579.2 268.7L577.8 268.1L578.1 264.9L577.3 262.5L575.1 259.4L575.3 258.5L573.9 258.1L572.0 256.0L571.5 253.9L572.4 254.3L572.2 252.5L573.2 251.8L572.8 250.7L573.2 249.8L572.8 247.1L574.7 247.7L575.3 245.6L575.2 244.3L576.0 242.1L575.6 240.6L578.2 238.8L579.9 239.3L579.3 237.7L580.0 237.2L579.6 236.2L580.8 236.0L582.0 237.5L583.1 238.2L583.6 240.2L583.9 242.3L582.2 244.5L582.5 247.6L584.8 247.2L585.8 249.6L587.3 250.1L587.0 252.2L588.8 253.2L589.8 253.7L591.4 253.0L591.6 254.0L590.0 255.7L589.6 256.7Z"/>
<path id="c-thailand" fill="#3690c0" d="M598.0 278.2L595.8 277.0L593.9 277.0L594.0 275.0L592.0 275.0L592.1 277.9L591.2 281.7L590.6 284.0L590.9 285.9L592.4 286.0L593.5 288.3L594.1 290.6L595.4 292.1L596.8 292.4L598.1 293.8L597.4 294.8L595.9 295.1L595.7 293.8L593.7 292.7L593.3 293.1L592.4 292.1L591.9 290.8L590.6 289.3L589.4 288.1L589.1 289.7L588.6 288.2L588.8 286.6L589.3 284.1L590.2 281.4L591.2 279.0L590.1 276.6L590.0 275.4L589.6 273.9L587.9 271.8L587.2 270.5L587.9 270.0L588.4 267.8L587.3 266.0L585.6 264.1L584.2 261.8L585.1 261.4L585.7 258.5L587.3 258.4L588.4 257.3L589.6 256.7L590.7 257.5L591.1 259.1L592.7 259.2L592.5 261.9L592.9 264.3L595.1 262.7L595.8 263.2L597.1 263.1L597.5 262.2L599.2 262.4L601.3 264.5L601.8 267.1L603.9 269.3L604.1 271.6L603.5 272.7L601.3 272.4L598.4 272.8L597.2 275.0Z"/>
<path id="c-laos" fill="#d0d1e6" d="M603.5 272.7L604.1 271.6L603.9 269.3L601.8 267.1L601.3 264.5L599.2 262.4L597.5 262.2L597.1 263.1L595.8 263.2L595.1 262.7L592.9 264.3L592.5 261.9L592.7 259.2L591.1 259.1L590.7 257.5L589.6 256.7L590.0 255.7L591.6 254.0L591.9 254.6L593.1 254.7L592.3 251.7L593.4 251.4L595.1 253.4L596.5 255.8L599.3 255.8L600.5 258.1L599.2 258.8L598.7 259.7L601.6 261.3L604.0 264.3L605.8 266.7L607.7 268.5L608.5 270.3L608.4 272.9L606.3 272.0L605.5 273.8L603.5 272.7Z"/>
<path id="c-vietnam" fill="#3690c0" d="M607.1 253.7L604.5 256.0L603.0 258.4L602.8 260.2L604.9 263.0L607.5 266.4L609.8 268.0L611.5 270.1L613.1 274.9L613.3 279.5L611.6 281.3L609.1 283.0L607.4 285.1L604.7 287.5L603.7 285.9L604.2 284.1L602.4 282.6L604.3 281.6L606.7 281.4L605.6 279.8L609.2 277.8L609.1 274.6L608.4 272.9L608.5 270.3L607.7 268.5L605.8 266.7L604.0 264.3L601.6 261.3L598.7 259.7L599.2 258.8L600.5 258.1L599.3 255.8L596.5 255.8L595.1 253.4L593.4 251.4L594.5 250.7L596.3 250.7L598.5 250.4L600.1 249.0L601.4 250.0L603.6 250.5L603.4 252.0L604.7 253.1Z"/>
<path id="c-cambodia" fill="#a6bddb" d="M600.5 282.2L599.4 280.9L598.0 278.2L597.2 275.0L598.4 272.8L601.3 272.4L603.5 272.7L605.5 273.8L606.3 272.0L608.4 272.9L609.1 274.6L609.2 277.8L605.6 279.8L606.7 281.4L604.3 281.6L602.4 282.6Z"/>
<path id="c-malaysia" fill="#3690c0" d="M595.7 293.8L595.9 295.1L597.4 294.8L598.1 293.8L598.6 294.0L600.1 295.6L601.1 297.3L601.3 299.1L601.1 300.3L601.4 301.2L601.6 302.7L602.4 303.4L603.4 305.7L603.4 306.6L601.7 306.8L599.5 304.9L596.7 302.8L596.4 301.5L595.0 299.7L594.6 297.5L593.7 296.1L593.9 294.2L593.3 293.1L593.7 292.7ZM636.3 298.3L634.6 299.2L632.6 298.7L630.0 298.7L629.3 301.7L628.4 302.6L627.3 306.3L625.5 306.8L623.3 306.1L622.2 306.3L620.8 307.7L619.4 307.4L617.9 308.0L616.3 306.5L615.9 304.8L617.6 305.7L619.3 305.2L619.8 303.0L620.7 302.5L623.5 301.9L625.0 299.8L626.1 298.2L627.2 299.5L627.6 298.6L628.8 298.7L628.8 297.1L628.8 295.8L630.5 294.0L631.6 291.9L632.5 291.9L633.7 293.2L633.9 294.4L635.5 295.1L637.4 295.9L637.3 296.9L635.8 297.0Z"/>
<path id="c-brunei" fill="#d0d1e6" d="M626.1 298.2L626.9 297.2L628.8 295.8L628.8 297.1L628.8 298.7L627.6 298.6L627.2 299.5Z"/>
<path id="c-indonesia" fill="#0570b0" d="M640.1 336.7L639.1 336.8L636.2 335.0L638.4 334.4L639.5 335.2L640.3 336.0ZM648.6 336.5L646.6 337.0L646.4 336.7L646.7 335.8L647.8 334.3L650.1 333.2L650.3 334.5L649.9 335.1ZM634.1 331.1L634.8 331.8L636.3 331.6L636.8 332.7L634.1 333.3L632.4 333.6L631.2 333.6L632.1 332.1L633.4 332.1ZM645.5 331.1L645.1 332.6L641.6 333.3L638.6 333.0L638.6 332.0L640.5 331.5L641.9 332.3L643.4 332.1L645.5 331.1ZM612.9 327.7L617.3 328.0L617.9 326.9L622.1 328.1L622.8 329.8L626.2 330.3L629.0 331.9L626.3 332.8L623.8 331.8L621.7 331.9L619.3 331.7L617.2 331.2L614.6 330.2L613.0 329.9L612.0 330.3L607.9 329.2L607.5 328.1L605.4 327.9L607.1 325.4L609.9 325.5L611.7 326.6L612.7 326.8ZM673.1 326.2L671.8 328.0L671.7 326.0L672.2 325.1L672.7 324.2L673.2 325.0ZM656.3 319.0L655.4 319.9L653.8 319.4L653.4 318.3L655.7 318.2ZM663.7 318.1L664.5 320.1L662.6 319.0L660.7 318.8L659.4 319.0L657.8 318.9L658.4 317.4L661.2 317.3ZM672.3 313.0L672.9 317.2L675.2 318.8L677.2 316.0L679.9 314.4L682.0 314.4L683.9 315.4L685.6 316.3L688.1 316.8L687.6 325.3L687.0 333.8L685.1 331.7L682.9 331.1L682.2 331.9L679.3 332.0L680.5 329.8L682.0 329.1L681.6 326.3L680.6 324.1L676.3 321.9L674.4 321.6L671.0 319.2L670.3 320.5L669.4 320.7L668.9 319.8L669.0 318.6L667.3 317.4L669.8 316.4L671.4 316.5L671.3 315.8L667.9 315.8L667.0 314.2L665.0 313.7L664.0 312.5L667.1 311.8L668.3 311.0L672.0 312.0ZM651.8 306.3L650.0 308.9L648.3 309.4L646.0 308.9L642.2 309.0L640.2 309.4L639.8 311.4L641.9 313.7L643.2 312.5L647.5 311.6L647.3 312.8L646.2 312.4L645.2 314.0L643.2 315.0L645.2 318.3L644.8 319.2L646.7 322.2L646.6 323.9L645.3 324.7L644.5 323.8L645.7 321.6L643.4 322.7L642.9 321.9L643.2 320.9L641.6 319.4L641.9 316.9L640.3 317.6L640.4 320.7L640.3 324.4L638.8 324.8L637.9 324.0L638.6 321.6L638.4 319.1L637.4 319.1L636.8 317.3L637.8 315.6L638.2 313.5L639.4 309.6L639.8 308.5L641.8 306.6L643.6 307.4L646.5 307.7L649.2 307.6L651.4 305.7ZM659.8 307.0L659.7 309.3L658.5 309.1L658.1 310.7L659.1 312.0L658.4 312.3L657.5 310.7L656.8 307.4L657.2 305.3L658.0 304.3L658.2 305.7L659.5 306.0ZM634.6 299.2L633.4 301.6L635.2 304.0L634.8 305.2L637.4 307.7L634.7 308.0L633.9 309.7L634.0 312.1L631.8 313.9L631.7 316.5L630.6 320.5L630.3 319.6L627.7 320.7L626.8 319.1L625.2 319.0L624.1 318.1L621.3 319.1L620.5 317.8L619.0 318.0L617.1 317.6L616.8 314.2L615.7 313.4L614.6 311.2L614.3 308.9L614.5 306.5L615.9 304.8L616.3 306.5L617.9 308.0L619.4 307.4L620.8 307.7L622.2 306.3L623.3 306.1L625.5 306.8L627.3 306.3L628.4 302.6L629.3 301.7L630.0 298.7L632.6 298.7ZM606.6 325.3L604.1 325.3L602.2 323.2L599.3 321.0L598.4 319.4L596.8 317.3L595.7 315.4L593.9 311.7L591.9 309.5L591.2 307.3L590.4 305.2L588.3 303.6L587.0 301.4L585.2 299.9L582.7 297.0L582.4 295.7L583.9 295.8L587.5 296.3L589.6 298.9L591.5 300.6L592.8 301.7L595.1 304.5L597.4 304.6L599.4 306.3L600.7 308.5L602.5 309.7L601.6 311.9L602.9 312.8L603.7 312.8L604.1 314.6L604.8 316.1L606.5 316.3L607.6 318.0L606.9 321.3Z"/>
<path id="c-timor-leste" fill="#fff7fb" d="M650.1 333.2L650.5 332.6L652.5 332.0L654.1 331.9L654.8 331.6L655.7 331.9L654.8 332.6L652.3 333.8L650.3 334.5Z"/>
<path id="c-philippines" fill="#3690c0" d="M653.5 288.0L653.8 289.8L654.1 291.2L653.5 293.6L652.4 291.0L651.4 292.3L652.3 294.2L651.7 295.4L648.9 293.9L648.2 292.0L648.8 290.8L647.2 289.6L646.6 290.6L645.5 290.5L643.9 292.0L643.5 291.2L644.2 289.0L645.6 288.3L646.8 287.3L647.7 288.5L649.4 287.8L649.6 286.6L651.3 286.5L651.0 284.5ZM647.6 283.2L646.8 284.0L646.2 285.7L645.6 286.5L644.0 284.6L644.4 283.9L644.9 283.2L645.0 281.6L646.3 281.4L646.1 283.2L647.5 280.7ZM635.2 285.7L632.3 288.1L633.3 286.3L634.9 284.7L636.1 282.9L637.0 280.3L637.6 282.5L636.3 283.9ZM642.3 279.0L643.8 279.8L645.2 279.8L645.3 280.8L644.4 282.0L643.0 282.7L642.8 281.5L642.8 280.2ZM650.5 278.3L651.5 281.2L649.6 280.5L649.8 281.3L650.5 283.0L649.5 283.6L649.2 281.7L648.5 281.6L648.0 280.0L649.3 280.2L649.2 279.2L647.6 277.2L649.8 277.3ZM641.1 275.9L640.8 278.1L639.7 276.8L638.2 274.8L640.2 274.9ZM638.5 261.7L640.1 262.4L640.7 261.8L641.0 262.4L640.8 263.5L641.9 265.4L641.6 267.5L640.4 268.4L640.4 270.5L641.2 272.6L642.4 272.9L643.4 272.6L646.4 274.0L646.4 275.4L647.2 276.1L647.1 277.3L645.2 276.0L644.2 274.6L643.7 275.6L642.1 274.0L640.0 274.4L638.8 273.8L638.8 272.7L639.4 272.1L638.7 271.5L638.5 272.4L637.2 270.9L636.7 269.8L636.2 267.3L637.3 268.1L636.8 264.0L637.2 261.7Z"/>
<path id="c-papua-new-guinea" fill="#d0d1e6" d="M721.7 327.8L721.0 328.1L720.1 327.1L719.2 325.4L718.8 323.4L719.2 323.2L719.4 323.9L720.0 324.5L721.0 326.2L722.0 327.1ZM712.9 324.3L711.7 324.5L711.3 325.2L710.0 325.9L708.8 326.5L707.6 326.5L705.7 325.7L704.5 325.0L704.7 324.2L706.8 324.6L708.0 324.4L708.5 323.1L708.8 323.1L708.9 324.4L710.3 324.3L711.0 323.3L712.3 322.4L712.2 320.9L713.5 320.8L714.0 321.3L713.8 322.7ZM701.5 329.3L703.5 331.0L704.7 333.8L706.0 333.7L705.8 334.8L707.5 335.3L706.8 335.8L709.1 336.9L708.8 337.6L707.2 337.8L706.7 337.1L704.8 336.8L702.5 336.4L700.9 334.8L699.8 333.3L698.8 331.1L695.9 329.9L693.9 330.7L692.4 331.5L692.5 333.4L690.6 334.4L689.4 333.9L687.0 333.8L687.6 325.3L688.1 316.8L692.0 318.6L696.2 320.1L697.7 321.4L698.9 322.7L699.1 324.3L702.9 325.9L703.3 327.3L701.2 327.5ZM715.8 321.7L715.0 322.5L714.7 320.9L714.2 319.9L713.2 319.0L712.0 317.9L710.3 317.2L711.0 316.5L712.2 317.3L713.0 317.8L713.9 318.5L714.8 319.6L715.6 320.4Z"/>
<path id="c-georgia" fill="#d0d1e6" d="M450.6 201.6L450.7 200.5L449.9 198.8L448.5 197.8L447.3 197.5L446.4 196.7L446.6 196.4L448.4 196.9L451.5 197.3L454.7 198.5L455.1 199.0L456.3 198.6L458.4 199.1L459.2 200.2L460.7 200.8L460.2 201.2L461.5 202.6L461.3 202.9L460.1 202.7L458.4 202.0L458.0 202.4L455.1 202.8L452.8 201.5Z"/>
<path id="c-armenia" fill="#d0d1e6" d="M455.1 202.8L458.0 202.4L458.5 203.0L459.4 203.5L459.1 204.2L460.4 205.0L460.0 205.9L461.0 206.6L462.1 207.0L462.5 208.8L461.7 208.9L460.5 207.4L460.5 207.0L459.5 207.0L458.8 206.3L458.3 206.4L457.4 205.6L455.7 205.0L455.6 203.7Z"/>
<path id="c-azerbaijan" fill="#a6bddb" d="M458.8 206.3L459.5 207.0L460.5 207.0L460.5 207.4L461.7 208.9L460.2 208.5L458.9 207.3L458.3 206.4ZM463.1 202.4L464.0 202.6L464.3 202.0L465.3 200.9L466.7 202.3L468.2 204.1L469.2 204.2L470.0 204.9L468.3 205.1L468.3 207.2L468.1 208.1L467.5 208.7L467.7 210.0L467.2 210.1L465.6 208.8L466.1 207.5L465.4 206.7L464.6 206.9L462.5 208.8L462.1 207.0L461.0 206.6L460.0 205.9L460.4 205.0L459.1 204.2L459.4 203.5L458.5 203.0L458.0 202.4L458.4 202.0L460.1 202.7L461.3 202.9L461.5 202.6L460.2 201.2L460.7 200.8L461.3 200.9Z"/>
<path id="c-iran" fill="#3690c0" d="M470.6 231.9L469.1 230.5L468.9 229.1L468.3 229.1L468.3 227.2L466.9 225.2L464.0 223.8L462.2 221.3L462.4 219.3L463.3 218.4L462.9 216.8L461.3 216.1L459.4 213.0L457.9 210.9L458.2 210.1L457.0 207.1L458.3 206.4L458.9 207.3L460.2 208.5L461.7 208.9L462.5 208.8L464.6 206.9L465.4 206.7L466.1 207.5L465.6 208.8L467.2 210.1L467.7 210.0L468.8 211.9L470.9 212.4L472.7 213.7L475.8 214.2L479.1 213.5L479.1 212.9L480.9 212.4L482.1 210.9L483.6 211.0L484.4 210.5L486.0 210.7L488.7 212.1L490.5 212.3L493.4 214.6L495.1 214.7L495.7 216.9L495.5 220.2L495.3 222.1L496.3 222.5L495.7 223.9L496.8 226.0L497.2 227.6L499.0 228.1L499.5 229.7L497.8 232.1L499.2 233.5L500.3 235.1L502.6 236.2L503.0 238.5L504.1 238.9L504.5 240.1L501.4 241.5L501.0 244.5L496.7 243.7L494.2 243.1L491.6 242.8L490.2 239.6L489.1 239.1L487.4 239.6L485.4 240.9L482.5 240.0L480.0 238.0L477.8 237.2L476.0 234.8L473.9 231.3L472.8 231.7Z"/>
<path id="c-iraq" fill="#74a9cf" d="M461.3 216.1L462.9 216.8L463.3 218.4L462.4 219.3L462.2 221.3L464.0 223.8L466.9 225.2L468.3 227.2L468.3 229.1L468.9 229.1L469.1 230.5L470.6 231.9L469.2 231.7L467.7 231.5L466.4 234.0L462.2 233.8L455.4 228.6L451.9 226.7L449.2 226.0L447.9 222.8L452.4 220.1L452.7 217.0L452.3 215.1L453.4 214.4L454.2 212.8L455.1 212.4L457.6 212.7L458.5 213.4L459.4 213.0Z"/>
<path id="c-syria" fill="#a6bddb" d="M447.9 222.8L443.9 225.6L441.4 224.6L441.3 224.6L441.6 224.2L441.4 223.1L441.8 221.7L442.9 220.7L442.4 219.7L441.4 219.6L440.9 217.6L441.3 216.5L441.8 215.9L442.4 215.3L442.3 213.9L443.0 214.4L445.3 213.7L446.5 214.2L448.3 214.1L450.6 213.2L451.8 213.2L454.2 212.8L453.4 214.4L452.3 215.1L452.7 217.0L452.4 220.1Z"/>
<path id="c-lebanon" fill="#d0d1e6" d="M441.4 223.1L440.8 223.2L440.7 223.6L440.0 223.6L440.5 221.5L441.4 219.6L441.4 219.6L442.4 219.7L442.9 220.7L441.8 221.7Z"/>
<path id="c-israel" fill="#74a9cf" d="M441.4 224.6L441.1 225.4L440.2 225.1L439.9 226.8L440.5 227.1L440.0 227.4L440.0 228.1L441.0 227.8L441.1 228.8L440.4 233.0L438.6 228.5L439.1 227.6L439.0 227.5L439.4 226.3L439.7 224.3L439.9 223.6L440.0 223.6L440.7 223.6L440.8 223.2L441.4 223.1L441.6 224.2L441.3 224.6Z"/>
<path id="c-palestine" fill="#ece7f2" d="M441.1 225.4L441.2 227.0L441.0 227.8L440.0 228.1L440.0 227.4L440.5 227.1L439.9 226.8L440.2 225.1Z"/>
<path id="c-jordan" fill="#a6bddb" d="M441.1 225.4L441.4 224.6L443.9 225.6L447.9 222.8L449.2 226.0L448.8 226.4L444.5 227.7L447.0 230.3L446.3 230.8L446.0 231.7L444.4 232.0L443.9 233.0L443.1 233.8L440.6 233.3L440.4 233.0L441.1 228.8L441.0 227.8L441.2 227.0Z"/>
<path id="c-saudi-arabia" fill="#3690c0" d="M460.5 267.3L460.1 266.2L459.4 265.4L459.2 264.4L457.9 263.4L456.6 261.3L455.8 259.1L454.2 257.3L453.1 256.9L451.5 254.4L451.1 252.6L451.1 251.0L449.6 248.1L448.5 247.1L447.2 246.6L446.4 245.1L446.5 244.5L445.8 243.2L445.1 242.6L444.0 240.6L442.5 238.5L441.2 236.7L440.1 236.7L440.3 235.3L440.4 234.4L440.6 233.3L443.1 233.8L443.9 233.0L444.4 232.0L446.0 231.7L446.3 230.8L447.0 230.3L444.5 227.7L448.8 226.4L449.2 226.0L451.9 226.7L455.4 228.6L462.2 233.8L466.4 234.0L468.4 234.3L469.1 235.5L470.7 235.5L471.8 237.7L473.0 238.3L473.4 239.2L475.1 240.3L475.3 241.4L475.2 242.3L475.6 243.1L476.3 243.9L476.7 244.7L477.1 245.4L477.8 245.9L478.4 245.7L478.9 246.7L479.1 247.3L480.2 250.0L487.1 251.3L487.5 250.7L488.7 252.6L487.6 257.8L481.0 260.4L474.5 261.4L472.5 262.6L471.1 265.3L470.0 265.7L469.4 264.9L468.5 265.0L466.3 264.8L465.9 264.5L463.2 264.5L462.6 264.8L461.7 264.1L461.2 265.4L461.4 266.5Z"/>
<path id="c-oman" fill="#a6bddb" d="M496.1 254.9L495.4 256.7L494.3 256.5L493.9 257.2L493.7 258.5L494.1 260.2L493.9 260.6L492.9 260.5L491.6 261.5L491.4 262.8L491.0 263.3L489.5 263.3L488.7 264.0L488.8 265.0L487.8 265.7L486.5 265.5L485.0 266.4L484.0 266.5L483.1 264.7L481.0 260.4L487.6 257.8L488.7 252.6L487.5 250.7L487.4 249.7L488.0 248.6L487.9 247.5L488.8 247.0L488.4 246.6L488.4 244.9L489.6 244.9L490.8 246.7L492.1 247.7L493.8 248.0L495.2 248.5L496.3 250.0L497.0 250.8L497.9 251.2L497.9 251.8L497.2 253.3L496.9 254.0ZM489.0 242.9L488.5 242.0L489.1 241.1L489.4 241.3L489.3 242.4Z"/>
<path id="c-united-arab-emirates" fill="#74a9cf" d="M478.9 246.7L479.3 246.6L479.4 247.3L481.2 246.9L483.0 246.9L484.4 247.0L485.8 245.3L487.3 243.6L488.5 242.0L489.0 242.9L489.6 244.9L488.4 244.9L488.4 246.6L488.8 247.0L487.9 247.5L488.0 248.6L487.4 249.7L487.5 250.7L487.1 251.3L480.2 250.0L479.1 247.3Z"/>
<path id="c-qatar" fill="#74a9cf" d="M477.1 245.4L476.7 243.5L477.2 242.1L477.8 241.8L478.6 242.6L478.8 244.2L478.4 245.7L477.8 245.9Z"/>
<path id="c-kuwait" fill="#a6bddb" d="M469.2 231.7L469.8 232.9L469.7 233.5L470.7 235.5L469.1 235.5L468.4 234.3L466.4 234.0L467.7 231.5Z"/>
<path id="c-australia" fill="#3690c0" d="M670.8 416.4L672.3 417.3L673.7 417.0L675.6 416.5L676.8 416.7L674.9 419.7L673.6 420.6L672.0 422.7L671.7 422.0L669.1 423.8L668.7 423.6L667.5 423.6L667.7 421.3L668.6 419.6L668.8 417.4L669.5 416.2ZM691.3 345.9L691.8 348.0L693.4 347.0L694.0 348.1L694.9 349.1L694.5 350.3L694.6 352.5L694.7 353.8L695.2 354.1L695.4 356.4L694.9 357.7L695.2 359.5L697.4 360.9L698.7 362.1L700.0 363.2L699.5 363.9L700.4 365.5L700.6 368.3L701.7 367.8L702.3 368.9L703.0 368.5L702.7 371.3L703.8 372.9L704.6 373.9L705.8 376.0L705.8 378.1L705.3 379.6L704.6 381.2L704.9 383.4L703.9 385.7L703.1 386.9L701.5 389.2L700.9 390.7L699.7 392.6L697.6 395.0L695.4 396.3L693.6 398.3L692.2 399.6L690.4 401.8L688.9 403.1L687.4 405.1L686.1 406.9L685.7 407.7L684.0 408.6L681.5 408.7L679.0 409.8L677.4 410.8L675.5 411.9L674.4 410.7L673.3 410.3L674.4 408.9L673.0 409.4L670.0 411.3L668.6 410.6L667.6 410.2L666.5 410.0L664.8 409.2L664.2 407.6L664.9 405.7L665.5 403.3L664.5 403.3L662.5 403.0L663.9 401.7L664.3 399.8L662.3 401.6L660.2 402.1L662.0 400.6L663.0 399.1L664.4 397.8L665.1 395.9L662.3 398.1L660.6 399.0L658.8 401.1L657.6 400.0L658.3 398.6L657.7 396.7L657.0 395.8L657.6 395.2L655.5 393.6L654.0 393.5L652.3 392.2L648.3 392.5L645.1 393.4L642.3 394.3L640.2 394.1L637.4 395.5L635.2 396.1L634.3 397.4L633.1 398.5L631.2 398.5L629.7 398.8L628.0 398.3L626.3 398.6L624.7 398.7L622.9 400.1L622.3 400.0L620.9 400.7L619.5 401.5L618.0 401.5L616.5 401.5L614.9 399.8L613.9 399.3L614.5 397.8L615.7 397.4L616.3 396.8L616.6 395.9L617.5 394.1L617.8 392.5L617.5 389.9L617.6 388.4L618.1 386.9L617.7 385.2L617.9 384.5L617.2 383.4L617.5 381.4L616.7 379.3L616.7 378.2L617.4 379.3L617.2 376.9L618.1 377.6L618.5 378.7L618.8 377.3L618.2 375.3L618.2 374.4L617.8 373.7L618.3 372.2L618.9 371.5L619.4 370.2L619.5 368.7L620.8 366.8L620.6 368.8L621.9 367.0L623.9 366.1L625.2 365.0L627.1 364.0L628.1 363.8L628.7 364.2L630.7 363.2L632.1 362.9L632.5 362.3L633.2 362.1L634.4 362.2L636.9 361.4L638.4 360.2L639.2 358.8L640.8 357.5L641.1 356.5L641.4 355.0L643.3 352.8L643.9 355.1L645.0 354.6L644.3 353.3L645.3 352.1L646.2 352.6L646.8 350.7L648.2 349.4L648.9 348.3L650.1 347.9L650.3 347.2L651.2 347.5L651.3 346.8L652.4 346.4L653.6 346.1L655.1 347.3L656.1 348.8L657.6 348.8L659.0 349.1L658.7 347.6L660.1 345.6L661.2 344.9L660.9 344.2L662.1 342.7L663.6 341.8L664.8 342.1L666.8 341.6L666.9 340.3L665.3 339.4L666.5 339.1L668.0 339.7L669.1 340.8L670.9 341.4L671.6 341.2L672.9 342.0L674.4 341.2L675.2 341.5L675.8 341.0L676.7 342.2L675.9 343.7L674.9 344.7L674.1 344.8L674.2 345.8L673.3 347.1L672.3 348.4L672.4 349.2L674.0 350.6L675.6 351.4L676.6 352.3L678.0 353.9L678.6 353.9L679.7 354.5L679.9 355.4L681.9 356.2L683.6 355.4L684.3 353.9L684.9 352.8L685.5 351.4L686.5 349.3L686.4 348.0L686.7 347.3L686.7 345.8L687.2 343.8L687.7 343.3L687.5 342.4L688.3 341.0L688.9 339.6L689.0 338.8L690.0 337.9L690.5 339.1L690.4 340.8L691.0 341.1L690.9 342.2L691.6 343.5L691.5 345.0Z"/>
<path id="c-new-zealand" fill="#a6bddb" d="M738.8 414.6L737.0 415.9L734.6 417.7L732.2 418.8L732.4 418.1L731.8 417.7L734.6 415.6L734.9 414.2L733.4 413.1L734.1 412.2L736.2 411.3L737.9 409.3L739.0 407.6L739.2 405.8L739.6 405.4L739.2 404.3L738.9 402.0L739.1 400.2L740.0 399.9L740.3 401.4L741.6 402.1L740.8 404.4L740.6 407.1L741.8 405.4L742.3 406.1L741.4 408.0L742.5 408.9L743.9 409.1L745.7 408.1L746.6 408.4L744.5 410.7L742.8 412.2L741.2 412.2L740.1 413.0L739.5 414.1ZM716.7 423.6L719.6 422.2L721.9 420.9L724.3 419.0L725.6 418.3L727.0 416.9L729.4 415.7L729.0 416.8L728.7 417.8L731.0 416.8L730.8 417.9L730.0 419.0L728.3 420.2L725.4 422.1L723.5 423.1L723.2 424.3L721.6 424.4L719.0 425.3L717.1 427.0L713.7 429.6L711.1 430.8L709.5 431.5L707.7 431.4L707.0 430.6L705.0 430.4L705.4 429.5L708.1 427.6L712.7 425.0L714.4 424.6Z"/>
<path id="c-fiji" fill="#ece7f2" d="M768.9 355.3L769.5 356.0L768.8 357.4L767.3 357.8L766.1 357.4L766.2 356.3L767.3 355.4L768.2 355.7ZM771.5 353.9L769.9 354.4L769.8 353.4L771.1 352.9L771.8 352.8L773.4 352.0L773.1 353.2Z"/>
<path id="c-solomon-islands" fill="#fff7fb" d="M735.0 337.4L735.5 338.3L733.9 338.2L733.3 336.6L734.6 337.3ZM732.3 335.8L731.4 335.8L730.0 335.6L729.6 335.2L729.8 334.1L731.3 334.5L732.0 335.1ZM734.3 335.1L733.9 335.5L732.4 333.3L732.1 331.7L732.9 331.7L733.5 333.8ZM730.5 331.8L730.5 332.3L728.8 331.2L727.7 330.2L726.9 329.4L727.3 329.1L728.3 329.7L730.0 330.9ZM725.4 329.2L724.9 329.3L723.9 328.7L723.1 327.7L723.2 327.2L724.5 328.3Z"/>
<path id="c-vanuatu" fill="#fff7fb" d="M745.4 353.0L744.6 353.3L744.1 352.2L744.3 351.5ZM744.6 349.0L744.5 351.1L744.0 350.8L743.5 350.9L743.3 350.2L743.6 348.2Z"/>
<g fill="#e4e2ee" stroke="#666" stroke-width="0.3">
<circle cx="305.4" cy="265.5" r="0.50"/>
<circle cx="307.4" cy="266.4" r="0.50"/>
<circle cx="310.5" cy="266.6" r="0.45"/>
<circle cx="310.5" cy="268.2" r="0.40"/>
<circle cx="309.1" cy="270.4" r="0.60"/>
<circle cx="307.4" cy="271.3" r="0.40"/>
<circle cx="378.1" cy="309.2" r="0.50"/>
<circle cx="462.6" cy="341.2" r="0.50"/>
<circle cx="463.7" cy="342.0" r="0.40"/>
<circle cx="490.4" cy="322.1" r="0.40"/>
<circle cx="493.3" cy="362.8" r="0.60"/>
<circle cx="532.2" cy="300.1" r="0.40"/>
<circle cx="532.2" cy="301.6" r="0.30"/>
<circle cx="220.3" cy="264.4" r="0.40"/>
<circle cx="222.2" cy="264.4" r="0.40"/>
<circle cx="222.6" cy="269.9" r="0.45"/>
<circle cx="223.5" cy="273.4" r="0.45"/>
<circle cx="222.4" cy="275.3" r="0.40"/>
<circle cx="226.5" cy="275.5" r="0.40"/>
<circle cx="221.6" cy="278.5" r="0.40"/>
<circle cx="672.4" cy="290.6" r="0.40"/>
<circle cx="680.5" cy="285.3" r="0.35"/>
<circle cx="711.8" cy="290.5" r="0.35"/>
<circle cx="727.3" cy="292.2" r="0.40"/>
<circle cx="738.3" cy="296.4" r="0.30"/>
<circle cx="753.4" cy="294.4" r="0.30"/>
<circle cx="757.0" cy="291.5" r="0.35"/>
<circle cx="748.5" cy="311.4" r="0.35"/>
<circle cx="768.5" cy="324.4" r="0.30"/>
<circle cx="770.4" cy="328.2" r="0.30"/>
<circle cx="773.9" cy="331.1" r="0.35"/>
<circle cx="776.4" cy="334.2" r="0.30"/>
<circle cx="768.5" cy="342.4" r="0.35"/>
<circle cx="0.4" cy="304.6" r="0.40"/>
</g>
</g>

<text class="title" x="15.9" y="40.6" textLength="411" lengthAdjust="spacingAndGlyphs">Gross domestic product (GDP), 2024</text>
<text class="sub" x="16.3" y="66.2" textLength="539.2" lengthAdjust="spacingAndGlyphs">This data is adjusted for inflation and differences in living costs between countries.</text>
<g>
<rect x="769" y="16" width="65" height="36" fill="#002147"/>
<rect x="769" y="49.2" width="65" height="2.8" fill="#ce261e"/>
<text class="logo" x="773.9" y="30.5" textLength="55.1" lengthAdjust="spacingAndGlyphs">Our World</text>
<text class="logo" x="783.5" y="42.9" textLength="36.1" lengthAdjust="spacingAndGlyphs">in Data</text>
</g>

<g>
<text class="lg" x="77.6" y="510" textLength="45.9" lengthAdjust="spacingAndGlyphs">No data</text>
<line x1="100.5" y1="513.5" x2="100.5" y2="517" stroke="#a8a8a8" stroke-width="0.8"/>
<rect x="76.6" y="517" width="48" height="11.2" fill="url(#hatch)" stroke="#c4c4c4" stroke-width="0.8"/>
<rect x="144.00" y="517" width="78.65" height="11.2" fill="#fff7fb" stroke="#b0b0b0" stroke-width="0.5"/>
<rect x="222.65" y="517" width="78.65" height="11.2" fill="#ece7f2" stroke="#b0b0b0" stroke-width="0.5"/>
<rect x="301.30" y="517" width="78.65" height="11.2" fill="#d0d1e6" stroke="#b0b0b0" stroke-width="0.5"/>
<rect x="379.95" y="517" width="78.65" height="11.2" fill="#a6bddb" stroke="#b0b0b0" stroke-width="0.5"/>
<rect x="458.60" y="517" width="78.65" height="11.2" fill="#74a9cf" stroke="#b0b0b0" stroke-width="0.5"/>
<rect x="537.25" y="517" width="78.65" height="11.2" fill="#3690c0" stroke="#b0b0b0" stroke-width="0.5"/>
<rect x="615.90" y="517" width="78.65" height="11.2" fill="#0570b0" stroke="#b0b0b0" stroke-width="0.5"/>
<path d="M694.55 517H768.20L773.20 522.6L768.20 528.2H694.55Z" fill="#034e7b" stroke="#034e7b" stroke-width="0.5"/>
<line x1="144.00" y1="513.5" x2="144.00" y2="528.2" stroke="#222" stroke-opacity="0.4" stroke-width="0.6"/>
<text class="lg" x="137.2" y="510" textLength="15.1" lengthAdjust="spacingAndGlyphs">$0</text>
<line x1="222.65" y1="513.5" x2="222.65" y2="528.2" stroke="#222" stroke-opacity="0.4" stroke-width="0.6"/>
<text class="lg" x="192.9" y="510" textLength="61.6" lengthAdjust="spacingAndGlyphs">$10 billion</text>
<line x1="301.30" y1="513.5" x2="301.30" y2="528.2" stroke="#222" stroke-opacity="0.4" stroke-width="0.6"/>
<text class="lg" x="271.6" y="510" textLength="61.6" lengthAdjust="spacingAndGlyphs">$30 billion</text>
<line x1="379.95" y1="513.5" x2="379.95" y2="528.2" stroke="#222" stroke-opacity="0.4" stroke-width="0.6"/>
<text class="lg" x="346.3" y="510" textLength="69.1" lengthAdjust="spacingAndGlyphs">$100 billion</text>
<line x1="458.60" y1="513.5" x2="458.60" y2="528.2" stroke="#222" stroke-opacity="0.4" stroke-width="0.6"/>
<text class="lg" x="424.7" y="510" textLength="69.6" lengthAdjust="spacingAndGlyphs">$300 billion</text>
<line x1="537.25" y1="513.5" x2="537.25" y2="528.2" stroke="#222" stroke-opacity="0.4" stroke-width="0.6"/>
<text class="lg" x="510.6" y="510" textLength="56.2" lengthAdjust="spacingAndGlyphs">$1 trillion</text>
<line x1="615.90" y1="513.5" x2="615.90" y2="528.2" stroke="#222" stroke-opacity="0.4" stroke-width="0.6"/>
<text class="lg" x="589.5" y="510" textLength="55.9" lengthAdjust="spacingAndGlyphs">$3 trillion</text>
<line x1="694.55" y1="513.5" x2="694.55" y2="528.2" stroke="#222" stroke-opacity="0.4" stroke-width="0.6"/>
<text class="lg" x="664.3" y="510" textLength="63.9" lengthAdjust="spacingAndGlyphs">$10 trillion</text>

</g>

<text class="ft b" x="16.7" y="560.4" textLength="71.5" lengthAdjust="spacingAndGlyphs">Data source:</text>
<text class="ft" x="92.2" y="560.4" textLength="256" lengthAdjust="spacingAndGlyphs">Eurostat, OECD, IMF, and World Bank (2026)</text>
<text class="ft b" x="16.7" y="580.6" textLength="31.3" lengthAdjust="spacingAndGlyphs">Note:</text>
<text class="ft" x="52.2" y="580.6" textLength="313.1" lengthAdjust="spacingAndGlyphs">This data is expressed in international-$ at 2021 prices.</text>
<text class="ft" x="564.8" y="560.4" textLength="268.6" lengthAdjust="spacingAndGlyphs">OurWorldinData.org/economic-growth | CC BY</text>
</svg>
</body></html>
